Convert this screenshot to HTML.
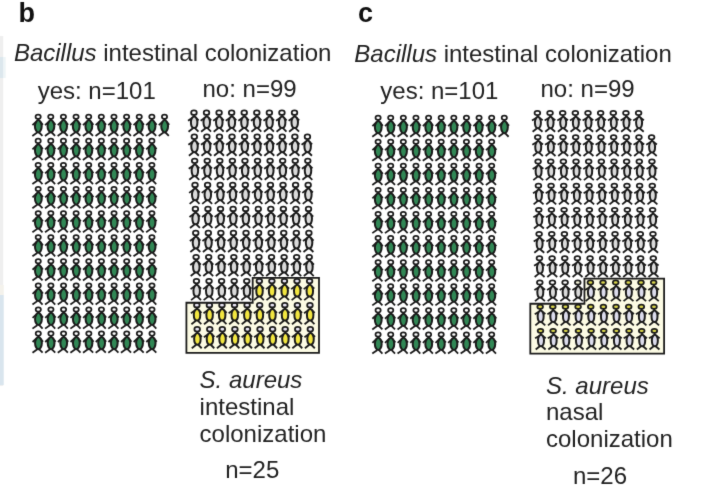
<!DOCTYPE html>
<html><head><meta charset="utf-8"><style>
html,body{margin:0;padding:0;background:#fff;width:709px;height:486px;overflow:hidden}
svg{display:block}
.o{stroke:#1a1a1a;stroke-width:2.0}
.h{stroke:#1a1a1a;stroke-width:1.75}
.l{stroke:#1a1a1a;stroke-width:1.8;fill:none;stroke-linecap:butt}
text{font-family:"Liberation Sans",Arial,sans-serif;fill:#222;font-size:24px}
.t{font-weight:bold;font-size:27px;fill:#111}
</style></head><body>
<svg width="709" height="486" viewBox="0 0 709 486">
<defs><filter id="bl" x="0" y="0" width="709" height="486" filterUnits="userSpaceOnUse" color-interpolation-filters="sRGB"><feConvolveMatrix order="3" kernelMatrix="1 8 1 8 64 8 1 8 1" divisor="100" edgeMode="duplicate"/></filter></defs>
<g filter="url(#bl)">
<rect x="0" y="0" width="709" height="486" fill="#fff"/>
<rect x="0" y="36" width="3.2" height="350" fill="#efefef"/><rect x="3.2" y="57" width="2.5" height="21" fill="#eef5f7"/><rect x="0" y="57" width="3.2" height="21" fill="#dce7ed"/><rect x="0" y="285" width="3.7" height="10" fill="#f4f2ec"/><rect x="0" y="295" width="3.7" height="90" fill="#d9e5ee"/>
<text class="t" x="18.5" y="22">b</text>
<text class="t" x="358" y="22.2">c</text>
<text x="13.9" y="60.6"><tspan font-style="italic">Bacillus</tspan> intestinal colonization</text>
<text x="354.3" y="62.1"><tspan font-style="italic">Bacillus</tspan> intestinal colonization</text>
<text x="37.7" y="98.8">yes: n=101</text>
<text x="202.5" y="96.7">no: n=99</text>
<text x="380.3" y="98.5">yes: n=101</text>
<text x="540.5" y="96.6">no: n=99</text>
<text x="199.6" y="388.4"><tspan font-style="italic">S. aureus</tspan></text>
<text x="199.6" y="415.2">intestinal</text>
<text x="199.6" y="441.9">colonization</text>
<text x="225.2" y="477.8">n=25</text>
<text x="546" y="393.7"><tspan font-style="italic">S. aureus</tspan></text>
<text x="546" y="420">nasal</text>
<text x="546" y="447">colonization</text>
<text x="573" y="484">n=26</text>
<path d="M186.4 302.75H252.7V277.8H319V352.9H186.4Z" fill="#fcfbe4"/>
<path d="M530.3 303.75H584.45V278.7H664.1V353.65H530.3Z" fill="#fcfbe4"/>
<path d="M36.77 121.1L32.45 125.2M39.83 121.1L42.85 124.9M37.15 132.5L32.35 135.9M39.15 132.5L42.45 135.9M38.35 119.15L38.3 120.5" class="l"/><path d="M38.3 120.1C39.49 120.1 41.7 122.87 41.7 126.25C41.7 129.63 39.83 132.4 38.3 132.4C36.77 132.4 34.9 129.63 34.9 126.25C34.9 122.87 37.11 120.1 38.3 120.1Z" fill="#318755" class="o"/><ellipse cx="38.15" cy="116.8" rx="2.6" ry="2.15" fill="#ffffff" class="h"/>
<path d="M49.4 121.1L45.08 125.2M52.46 121.1L55.48 124.9M49.78 132.5L44.98 135.9M51.78 132.5L55.08 135.9M50.98 119.15L50.93 120.5" class="l"/><path d="M50.93 120.1C52.12 120.1 54.33 122.87 54.33 126.25C54.33 129.63 52.46 132.4 50.93 132.4C49.4 132.4 47.53 129.63 47.53 126.25C47.53 122.87 49.74 120.1 50.93 120.1Z" fill="#318755" class="o"/><ellipse cx="50.78" cy="116.8" rx="2.6" ry="2.15" fill="#ffffff" class="h"/>
<path d="M62.04 121.1L57.72 125.2M65.1 121.1L68.12 124.9M62.42 132.5L57.62 135.9M64.42 132.5L67.72 135.9M63.62 119.15L63.57 120.5" class="l"/><path d="M63.57 120.1C64.76 120.1 66.97 122.87 66.97 126.25C66.97 129.63 65.1 132.4 63.57 132.4C62.04 132.4 60.17 129.63 60.17 126.25C60.17 122.87 62.38 120.1 63.57 120.1Z" fill="#318755" class="o"/><ellipse cx="63.42" cy="116.8" rx="2.6" ry="2.15" fill="#ffffff" class="h"/>
<path d="M74.68 121.1L70.36 125.2M77.74 121.1L80.76 124.9M75.06 132.5L70.26 135.9M77.06 132.5L80.36 135.9M76.26 119.15L76.21 120.5" class="l"/><path d="M76.21 120.1C77.4 120.1 79.61 122.87 79.61 126.25C79.61 129.63 77.74 132.4 76.21 132.4C74.68 132.4 72.81 129.63 72.81 126.25C72.81 122.87 75.02 120.1 76.21 120.1Z" fill="#318755" class="o"/><ellipse cx="76.06" cy="116.8" rx="2.6" ry="2.15" fill="#ffffff" class="h"/>
<path d="M87.31 121.1L82.99 125.2M90.37 121.1L93.39 124.9M87.69 132.5L82.89 135.9M89.69 132.5L92.99 135.9M88.89 119.15L88.84 120.5" class="l"/><path d="M88.84 120.1C90.03 120.1 92.24 122.87 92.24 126.25C92.24 129.63 90.37 132.4 88.84 132.4C87.31 132.4 85.44 129.63 85.44 126.25C85.44 122.87 87.65 120.1 88.84 120.1Z" fill="#318755" class="o"/><ellipse cx="88.69" cy="116.8" rx="2.6" ry="2.15" fill="#ffffff" class="h"/>
<path d="M99.94 121.1L95.62 125.2M103 121.1L106.02 124.9M100.32 132.5L95.52 135.9M102.32 132.5L105.62 135.9M101.52 119.15L101.47 120.5" class="l"/><path d="M101.47 120.1C102.66 120.1 104.88 122.87 104.88 126.25C104.88 129.63 103 132.4 101.47 132.4C99.94 132.4 98.07 129.63 98.07 126.25C98.07 122.87 100.28 120.1 101.47 120.1Z" fill="#318755" class="o"/><ellipse cx="101.32" cy="116.8" rx="2.6" ry="2.15" fill="#ffffff" class="h"/>
<path d="M112.58 121.1L108.26 125.2M115.64 121.1L118.66 124.9M112.96 132.5L108.16 135.9M114.96 132.5L118.26 135.9M114.16 119.15L114.11 120.5" class="l"/><path d="M114.11 120.1C115.3 120.1 117.51 122.87 117.51 126.25C117.51 129.63 115.64 132.4 114.11 132.4C112.58 132.4 110.71 129.63 110.71 126.25C110.71 122.87 112.92 120.1 114.11 120.1Z" fill="#318755" class="o"/><ellipse cx="113.96" cy="116.8" rx="2.6" ry="2.15" fill="#ffffff" class="h"/>
<path d="M125.22 121.1L120.89 125.2M128.28 121.1L131.29 124.9M125.59 132.5L120.8 135.9M127.59 132.5L130.9 135.9M126.8 119.15L126.75 120.5" class="l"/><path d="M126.75 120.1C127.94 120.1 130.15 122.87 130.15 126.25C130.15 129.63 128.28 132.4 126.75 132.4C125.22 132.4 123.34 129.63 123.34 126.25C123.34 122.87 125.56 120.1 126.75 120.1Z" fill="#318755" class="o"/><ellipse cx="126.59" cy="116.8" rx="2.6" ry="2.15" fill="#ffffff" class="h"/>
<path d="M137.85 121.1L133.53 125.2M140.91 121.1L143.93 124.9M138.23 132.5L133.43 135.9M140.23 132.5L143.53 135.9M139.43 119.15L139.38 120.5" class="l"/><path d="M139.38 120.1C140.57 120.1 142.78 122.87 142.78 126.25C142.78 129.63 140.91 132.4 139.38 132.4C137.85 132.4 135.98 129.63 135.98 126.25C135.98 122.87 138.19 120.1 139.38 120.1Z" fill="#318755" class="o"/><ellipse cx="139.23" cy="116.8" rx="2.6" ry="2.15" fill="#ffffff" class="h"/>
<path d="M150.49 121.1L146.17 125.2M153.55 121.1L156.56 124.9M150.87 132.5L146.06 135.9M152.87 132.5L156.17 135.9M152.06 119.15L152.02 120.5" class="l"/><path d="M152.02 120.1C153.21 120.1 155.42 122.87 155.42 126.25C155.42 129.63 153.55 132.4 152.02 132.4C150.49 132.4 148.62 129.63 148.62 126.25C148.62 122.87 150.83 120.1 152.02 120.1Z" fill="#318755" class="o"/><ellipse cx="151.87" cy="116.8" rx="2.6" ry="2.15" fill="#ffffff" class="h"/>
<path d="M163.12 121.1L158.8 125.2M166.18 121.1L169.2 124.9M163.5 132.5L158.7 135.9M165.5 132.5L168.8 135.9M164.7 119.15L164.65 120.5" class="l"/><path d="M164.65 120.1C165.84 120.1 168.05 122.87 168.05 126.25C168.05 129.63 166.18 132.4 164.65 132.4C163.12 132.4 161.25 129.63 161.25 126.25C161.25 122.87 163.46 120.1 164.65 120.1Z" fill="#318755" class="o"/><ellipse cx="164.5" cy="116.8" rx="2.6" ry="2.15" fill="#ffffff" class="h"/>
<path d="M36.79 145.19L32.47 149.29M39.85 145.19L42.87 148.99M37.17 156.59L32.37 159.99M39.17 156.59L42.47 159.99M38.37 143.24L38.32 144.59" class="l"/><path d="M38.32 144.19C39.51 144.19 41.72 146.96 41.72 150.34C41.72 153.72 39.85 156.49 38.32 156.49C36.79 156.49 34.92 153.72 34.92 150.34C34.92 146.96 37.13 144.19 38.32 144.19Z" fill="#318755" class="o"/><ellipse cx="38.17" cy="140.89" rx="2.6" ry="2.15" fill="#ffffff" class="h"/>
<path d="M49.42 145.19L45.1 149.29M52.48 145.19L55.5 148.99M49.8 156.59L45 159.99M51.8 156.59L55.1 159.99M51 143.24L50.95 144.59" class="l"/><path d="M50.95 144.19C52.14 144.19 54.35 146.96 54.35 150.34C54.35 153.72 52.48 156.49 50.95 156.49C49.42 156.49 47.55 153.72 47.55 150.34C47.55 146.96 49.76 144.19 50.95 144.19Z" fill="#318755" class="o"/><ellipse cx="50.8" cy="140.89" rx="2.6" ry="2.15" fill="#ffffff" class="h"/>
<path d="M62.06 145.19L57.74 149.29M65.12 145.19L68.14 148.99M62.44 156.59L57.64 159.99M64.44 156.59L67.74 159.99M63.64 143.24L63.59 144.59" class="l"/><path d="M63.59 144.19C64.78 144.19 66.99 146.96 66.99 150.34C66.99 153.72 65.12 156.49 63.59 156.49C62.06 156.49 60.19 153.72 60.19 150.34C60.19 146.96 62.4 144.19 63.59 144.19Z" fill="#318755" class="o"/><ellipse cx="63.44" cy="140.89" rx="2.6" ry="2.15" fill="#ffffff" class="h"/>
<path d="M74.69 145.19L70.37 149.29M77.75 145.19L80.77 148.99M75.07 156.59L70.27 159.99M77.07 156.59L80.37 159.99M76.27 143.24L76.22 144.59" class="l"/><path d="M76.22 144.19C77.41 144.19 79.62 146.96 79.62 150.34C79.62 153.72 77.75 156.49 76.22 156.49C74.69 156.49 72.82 153.72 72.82 150.34C72.82 146.96 75.03 144.19 76.22 144.19Z" fill="#318755" class="o"/><ellipse cx="76.07" cy="140.89" rx="2.6" ry="2.15" fill="#ffffff" class="h"/>
<path d="M87.33 145.19L83.01 149.29M90.39 145.19L93.41 148.99M87.71 156.59L82.91 159.99M89.71 156.59L93.01 159.99M88.91 143.24L88.86 144.59" class="l"/><path d="M88.86 144.19C90.05 144.19 92.26 146.96 92.26 150.34C92.26 153.72 90.39 156.49 88.86 156.49C87.33 156.49 85.46 153.72 85.46 150.34C85.46 146.96 87.67 144.19 88.86 144.19Z" fill="#318755" class="o"/><ellipse cx="88.71" cy="140.89" rx="2.6" ry="2.15" fill="#ffffff" class="h"/>
<path d="M99.96 145.19L95.64 149.29M103.02 145.19L106.04 148.99M100.34 156.59L95.54 159.99M102.34 156.59L105.64 159.99M101.54 143.24L101.49 144.59" class="l"/><path d="M101.49 144.19C102.68 144.19 104.89 146.96 104.89 150.34C104.89 153.72 103.02 156.49 101.49 156.49C99.96 156.49 98.09 153.72 98.09 150.34C98.09 146.96 100.3 144.19 101.49 144.19Z" fill="#318755" class="o"/><ellipse cx="101.34" cy="140.89" rx="2.6" ry="2.15" fill="#ffffff" class="h"/>
<path d="M112.6 145.19L108.28 149.29M115.66 145.19L118.68 148.99M112.98 156.59L108.18 159.99M114.98 156.59L118.28 159.99M114.18 143.24L114.13 144.59" class="l"/><path d="M114.13 144.19C115.32 144.19 117.53 146.96 117.53 150.34C117.53 153.72 115.66 156.49 114.13 156.49C112.6 156.49 110.73 153.72 110.73 150.34C110.73 146.96 112.94 144.19 114.13 144.19Z" fill="#318755" class="o"/><ellipse cx="113.98" cy="140.89" rx="2.6" ry="2.15" fill="#ffffff" class="h"/>
<path d="M125.23 145.19L120.91 149.29M128.29 145.19L131.31 148.99M125.61 156.59L120.81 159.99M127.61 156.59L130.91 159.99M126.81 143.24L126.76 144.59" class="l"/><path d="M126.76 144.19C127.95 144.19 130.16 146.96 130.16 150.34C130.16 153.72 128.29 156.49 126.76 156.49C125.23 156.49 123.36 153.72 123.36 150.34C123.36 146.96 125.57 144.19 126.76 144.19Z" fill="#318755" class="o"/><ellipse cx="126.61" cy="140.89" rx="2.6" ry="2.15" fill="#ffffff" class="h"/>
<path d="M137.87 145.19L133.55 149.29M140.93 145.19L143.95 148.99M138.25 156.59L133.45 159.99M140.25 156.59L143.55 159.99M139.45 143.24L139.4 144.59" class="l"/><path d="M139.4 144.19C140.59 144.19 142.8 146.96 142.8 150.34C142.8 153.72 140.93 156.49 139.4 156.49C137.87 156.49 136 153.72 136 150.34C136 146.96 138.21 144.19 139.4 144.19Z" fill="#318755" class="o"/><ellipse cx="139.25" cy="140.89" rx="2.6" ry="2.15" fill="#ffffff" class="h"/>
<path d="M150.5 145.19L146.18 149.29M153.56 145.19L156.58 148.99M150.88 156.59L146.08 159.99M152.88 156.59L156.18 159.99M152.08 143.24L152.03 144.59" class="l"/><path d="M152.03 144.19C153.22 144.19 155.43 146.96 155.43 150.34C155.43 153.72 153.56 156.49 152.03 156.49C150.5 156.49 148.63 153.72 148.63 150.34C148.63 146.96 150.84 144.19 152.03 144.19Z" fill="#318755" class="o"/><ellipse cx="151.88" cy="140.89" rx="2.6" ry="2.15" fill="#ffffff" class="h"/>
<path d="M36.8 169.28L32.48 173.38M39.86 169.28L42.88 173.08M37.18 180.68L32.38 184.08M39.18 180.68L42.48 184.08M38.38 167.33L38.33 168.68" class="l"/><path d="M38.33 168.28C39.52 168.28 41.73 171.05 41.73 174.43C41.73 177.81 39.86 180.58 38.33 180.58C36.8 180.58 34.93 177.81 34.93 174.43C34.93 171.05 37.14 168.28 38.33 168.28Z" fill="#318755" class="o"/><ellipse cx="38.18" cy="164.98" rx="2.6" ry="2.15" fill="#ffffff" class="h"/>
<path d="M49.44 169.28L45.12 173.38M52.5 169.28L55.52 173.08M49.82 180.68L45.02 184.08M51.82 180.68L55.12 184.08M51.02 167.33L50.97 168.68" class="l"/><path d="M50.97 168.28C52.16 168.28 54.37 171.05 54.37 174.43C54.37 177.81 52.5 180.58 50.97 180.58C49.44 180.58 47.57 177.81 47.57 174.43C47.57 171.05 49.78 168.28 50.97 168.28Z" fill="#318755" class="o"/><ellipse cx="50.82" cy="164.98" rx="2.6" ry="2.15" fill="#ffffff" class="h"/>
<path d="M62.07 169.28L57.75 173.38M65.13 169.28L68.15 173.08M62.45 180.68L57.65 184.08M64.45 180.68L67.75 184.08M63.65 167.33L63.6 168.68" class="l"/><path d="M63.6 168.28C64.79 168.28 67 171.05 67 174.43C67 177.81 65.13 180.58 63.6 180.58C62.07 180.58 60.2 177.81 60.2 174.43C60.2 171.05 62.41 168.28 63.6 168.28Z" fill="#318755" class="o"/><ellipse cx="63.45" cy="164.98" rx="2.6" ry="2.15" fill="#ffffff" class="h"/>
<path d="M74.71 169.28L70.39 173.38M77.77 169.28L80.79 173.08M75.09 180.68L70.29 184.08M77.09 180.68L80.39 184.08M76.29 167.33L76.24 168.68" class="l"/><path d="M76.24 168.28C77.43 168.28 79.64 171.05 79.64 174.43C79.64 177.81 77.77 180.58 76.24 180.58C74.71 180.58 72.84 177.81 72.84 174.43C72.84 171.05 75.05 168.28 76.24 168.28Z" fill="#318755" class="o"/><ellipse cx="76.09" cy="164.98" rx="2.6" ry="2.15" fill="#ffffff" class="h"/>
<path d="M87.34 169.28L83.02 173.38M90.4 169.28L93.42 173.08M87.72 180.68L82.92 184.08M89.72 180.68L93.02 184.08M88.92 167.33L88.87 168.68" class="l"/><path d="M88.87 168.28C90.06 168.28 92.27 171.05 92.27 174.43C92.27 177.81 90.4 180.58 88.87 180.58C87.34 180.58 85.47 177.81 85.47 174.43C85.47 171.05 87.68 168.28 88.87 168.28Z" fill="#318755" class="o"/><ellipse cx="88.72" cy="164.98" rx="2.6" ry="2.15" fill="#ffffff" class="h"/>
<path d="M99.98 169.28L95.66 173.38M103.04 169.28L106.06 173.08M100.36 180.68L95.56 184.08M102.36 180.68L105.66 184.08M101.56 167.33L101.51 168.68" class="l"/><path d="M101.51 168.28C102.7 168.28 104.91 171.05 104.91 174.43C104.91 177.81 103.04 180.58 101.51 180.58C99.98 180.58 98.11 177.81 98.11 174.43C98.11 171.05 100.32 168.28 101.51 168.28Z" fill="#318755" class="o"/><ellipse cx="101.36" cy="164.98" rx="2.6" ry="2.15" fill="#ffffff" class="h"/>
<path d="M112.61 169.28L108.29 173.38M115.67 169.28L118.69 173.08M112.99 180.68L108.19 184.08M114.99 180.68L118.29 184.08M114.19 167.33L114.14 168.68" class="l"/><path d="M114.14 168.28C115.33 168.28 117.54 171.05 117.54 174.43C117.54 177.81 115.67 180.58 114.14 180.58C112.61 180.58 110.74 177.81 110.74 174.43C110.74 171.05 112.95 168.28 114.14 168.28Z" fill="#318755" class="o"/><ellipse cx="113.99" cy="164.98" rx="2.6" ry="2.15" fill="#ffffff" class="h"/>
<path d="M125.25 169.28L120.93 173.38M128.31 169.28L131.33 173.08M125.63 180.68L120.83 184.08M127.63 180.68L130.93 184.08M126.83 167.33L126.78 168.68" class="l"/><path d="M126.78 168.28C127.97 168.28 130.18 171.05 130.18 174.43C130.18 177.81 128.31 180.58 126.78 180.58C125.25 180.58 123.38 177.81 123.38 174.43C123.38 171.05 125.59 168.28 126.78 168.28Z" fill="#318755" class="o"/><ellipse cx="126.63" cy="164.98" rx="2.6" ry="2.15" fill="#ffffff" class="h"/>
<path d="M137.88 169.28L133.56 173.38M140.94 169.28L143.96 173.08M138.26 180.68L133.46 184.08M140.26 180.68L143.56 184.08M139.46 167.33L139.41 168.68" class="l"/><path d="M139.41 168.28C140.6 168.28 142.81 171.05 142.81 174.43C142.81 177.81 140.94 180.58 139.41 180.58C137.88 180.58 136.01 177.81 136.01 174.43C136.01 171.05 138.22 168.28 139.41 168.28Z" fill="#318755" class="o"/><ellipse cx="139.26" cy="164.98" rx="2.6" ry="2.15" fill="#ffffff" class="h"/>
<path d="M150.52 169.28L146.2 173.38M153.58 169.28L156.6 173.08M150.9 180.68L146.1 184.08M152.9 180.68L156.2 184.08M152.1 167.33L152.05 168.68" class="l"/><path d="M152.05 168.28C153.24 168.28 155.45 171.05 155.45 174.43C155.45 177.81 153.58 180.58 152.05 180.58C150.52 180.58 148.65 177.81 148.65 174.43C148.65 171.05 150.86 168.28 152.05 168.28Z" fill="#318755" class="o"/><ellipse cx="151.9" cy="164.98" rx="2.6" ry="2.15" fill="#ffffff" class="h"/>
<path d="M36.82 193.37L32.5 197.47M39.88 193.37L42.9 197.17M37.2 204.77L32.4 208.17M39.2 204.77L42.5 208.17M38.4 191.42L38.35 192.77" class="l"/><path d="M38.35 192.37C39.54 192.37 41.75 195.14 41.75 198.52C41.75 201.9 39.88 204.67 38.35 204.67C36.82 204.67 34.95 201.9 34.95 198.52C34.95 195.14 37.16 192.37 38.35 192.37Z" fill="#318755" class="o"/><ellipse cx="38.2" cy="189.07" rx="2.6" ry="2.15" fill="#ffffff" class="h"/>
<path d="M49.46 193.37L45.14 197.47M52.52 193.37L55.54 197.17M49.84 204.77L45.04 208.17M51.84 204.77L55.14 208.17M51.04 191.42L50.99 192.77" class="l"/><path d="M50.99 192.37C52.18 192.37 54.39 195.14 54.39 198.52C54.39 201.9 52.52 204.67 50.99 204.67C49.46 204.67 47.59 201.9 47.59 198.52C47.59 195.14 49.8 192.37 50.99 192.37Z" fill="#318755" class="o"/><ellipse cx="50.84" cy="189.07" rx="2.6" ry="2.15" fill="#ffffff" class="h"/>
<path d="M62.09 193.37L57.77 197.47M65.15 193.37L68.17 197.17M62.47 204.77L57.67 208.17M64.47 204.77L67.77 208.17M63.67 191.42L63.62 192.77" class="l"/><path d="M63.62 192.37C64.81 192.37 67.02 195.14 67.02 198.52C67.02 201.9 65.15 204.67 63.62 204.67C62.09 204.67 60.22 201.9 60.22 198.52C60.22 195.14 62.43 192.37 63.62 192.37Z" fill="#318755" class="o"/><ellipse cx="63.47" cy="189.07" rx="2.6" ry="2.15" fill="#ffffff" class="h"/>
<path d="M74.73 193.37L70.41 197.47M77.79 193.37L80.81 197.17M75.11 204.77L70.31 208.17M77.11 204.77L80.41 208.17M76.31 191.42L76.26 192.77" class="l"/><path d="M76.26 192.37C77.45 192.37 79.66 195.14 79.66 198.52C79.66 201.9 77.79 204.67 76.26 204.67C74.73 204.67 72.86 201.9 72.86 198.52C72.86 195.14 75.07 192.37 76.26 192.37Z" fill="#318755" class="o"/><ellipse cx="76.11" cy="189.07" rx="2.6" ry="2.15" fill="#ffffff" class="h"/>
<path d="M87.36 193.37L83.04 197.47M90.42 193.37L93.44 197.17M87.74 204.77L82.94 208.17M89.74 204.77L93.04 208.17M88.94 191.42L88.89 192.77" class="l"/><path d="M88.89 192.37C90.08 192.37 92.29 195.14 92.29 198.52C92.29 201.9 90.42 204.67 88.89 204.67C87.36 204.67 85.49 201.9 85.49 198.52C85.49 195.14 87.7 192.37 88.89 192.37Z" fill="#318755" class="o"/><ellipse cx="88.74" cy="189.07" rx="2.6" ry="2.15" fill="#ffffff" class="h"/>
<path d="M100 193.37L95.68 197.47M103.06 193.37L106.08 197.17M100.38 204.77L95.58 208.17M102.38 204.77L105.68 208.17M101.58 191.42L101.53 192.77" class="l"/><path d="M101.53 192.37C102.72 192.37 104.93 195.14 104.93 198.52C104.93 201.9 103.06 204.67 101.53 204.67C100 204.67 98.13 201.9 98.13 198.52C98.13 195.14 100.34 192.37 101.53 192.37Z" fill="#318755" class="o"/><ellipse cx="101.38" cy="189.07" rx="2.6" ry="2.15" fill="#ffffff" class="h"/>
<path d="M112.63 193.37L108.31 197.47M115.69 193.37L118.71 197.17M113.01 204.77L108.21 208.17M115.01 204.77L118.31 208.17M114.21 191.42L114.16 192.77" class="l"/><path d="M114.16 192.37C115.35 192.37 117.56 195.14 117.56 198.52C117.56 201.9 115.69 204.67 114.16 204.67C112.63 204.67 110.76 201.9 110.76 198.52C110.76 195.14 112.97 192.37 114.16 192.37Z" fill="#318755" class="o"/><ellipse cx="114.01" cy="189.07" rx="2.6" ry="2.15" fill="#ffffff" class="h"/>
<path d="M125.27 193.37L120.95 197.47M128.33 193.37L131.35 197.17M125.65 204.77L120.85 208.17M127.65 204.77L130.95 208.17M126.85 191.42L126.8 192.77" class="l"/><path d="M126.8 192.37C127.99 192.37 130.2 195.14 130.2 198.52C130.2 201.9 128.33 204.67 126.8 204.67C125.27 204.67 123.4 201.9 123.4 198.52C123.4 195.14 125.61 192.37 126.8 192.37Z" fill="#318755" class="o"/><ellipse cx="126.65" cy="189.07" rx="2.6" ry="2.15" fill="#ffffff" class="h"/>
<path d="M137.9 193.37L133.58 197.47M140.96 193.37L143.98 197.17M138.28 204.77L133.48 208.17M140.28 204.77L143.58 208.17M139.48 191.42L139.43 192.77" class="l"/><path d="M139.43 192.37C140.62 192.37 142.83 195.14 142.83 198.52C142.83 201.9 140.96 204.67 139.43 204.67C137.9 204.67 136.03 201.9 136.03 198.52C136.03 195.14 138.24 192.37 139.43 192.37Z" fill="#318755" class="o"/><ellipse cx="139.28" cy="189.07" rx="2.6" ry="2.15" fill="#ffffff" class="h"/>
<path d="M150.54 193.37L146.22 197.47M153.6 193.37L156.62 197.17M150.92 204.77L146.12 208.17M152.92 204.77L156.22 208.17M152.12 191.42L152.07 192.77" class="l"/><path d="M152.07 192.37C153.26 192.37 155.47 195.14 155.47 198.52C155.47 201.9 153.6 204.67 152.07 204.67C150.54 204.67 148.67 201.9 148.67 198.52C148.67 195.14 150.88 192.37 152.07 192.37Z" fill="#318755" class="o"/><ellipse cx="151.92" cy="189.07" rx="2.6" ry="2.15" fill="#ffffff" class="h"/>
<path d="M36.84 217.46L32.52 221.56M39.9 217.46L42.92 221.26M37.22 228.86L32.42 232.26M39.22 228.86L42.52 232.26M38.42 215.51L38.37 216.86" class="l"/><path d="M38.37 216.46C39.56 216.46 41.77 219.23 41.77 222.61C41.77 225.99 39.9 228.76 38.37 228.76C36.84 228.76 34.97 225.99 34.97 222.61C34.97 219.23 37.18 216.46 38.37 216.46Z" fill="#318755" class="o"/><ellipse cx="38.22" cy="213.16" rx="2.6" ry="2.15" fill="#ffffff" class="h"/>
<path d="M49.47 217.46L45.15 221.56M52.53 217.46L55.55 221.26M49.85 228.86L45.05 232.26M51.85 228.86L55.15 232.26M51.05 215.51L51 216.86" class="l"/><path d="M51 216.46C52.19 216.46 54.4 219.23 54.4 222.61C54.4 225.99 52.53 228.76 51 228.76C49.47 228.76 47.6 225.99 47.6 222.61C47.6 219.23 49.81 216.46 51 216.46Z" fill="#318755" class="o"/><ellipse cx="50.85" cy="213.16" rx="2.6" ry="2.15" fill="#ffffff" class="h"/>
<path d="M62.11 217.46L57.79 221.56M65.17 217.46L68.19 221.26M62.49 228.86L57.69 232.26M64.49 228.86L67.79 232.26M63.69 215.51L63.64 216.86" class="l"/><path d="M63.64 216.46C64.83 216.46 67.04 219.23 67.04 222.61C67.04 225.99 65.17 228.76 63.64 228.76C62.11 228.76 60.24 225.99 60.24 222.61C60.24 219.23 62.45 216.46 63.64 216.46Z" fill="#318755" class="o"/><ellipse cx="63.49" cy="213.16" rx="2.6" ry="2.15" fill="#ffffff" class="h"/>
<path d="M74.74 217.46L70.42 221.56M77.8 217.46L80.82 221.26M75.12 228.86L70.32 232.26M77.12 228.86L80.42 232.26M76.32 215.51L76.27 216.86" class="l"/><path d="M76.27 216.46C77.46 216.46 79.67 219.23 79.67 222.61C79.67 225.99 77.8 228.76 76.27 228.76C74.74 228.76 72.87 225.99 72.87 222.61C72.87 219.23 75.08 216.46 76.27 216.46Z" fill="#318755" class="o"/><ellipse cx="76.12" cy="213.16" rx="2.6" ry="2.15" fill="#ffffff" class="h"/>
<path d="M87.38 217.46L83.06 221.56M90.44 217.46L93.46 221.26M87.76 228.86L82.96 232.26M89.76 228.86L93.06 232.26M88.96 215.51L88.91 216.86" class="l"/><path d="M88.91 216.46C90.1 216.46 92.31 219.23 92.31 222.61C92.31 225.99 90.44 228.76 88.91 228.76C87.38 228.76 85.51 225.99 85.51 222.61C85.51 219.23 87.72 216.46 88.91 216.46Z" fill="#318755" class="o"/><ellipse cx="88.76" cy="213.16" rx="2.6" ry="2.15" fill="#ffffff" class="h"/>
<path d="M100.01 217.46L95.69 221.56M103.07 217.46L106.09 221.26M100.39 228.86L95.59 232.26M102.39 228.86L105.69 232.26M101.59 215.51L101.54 216.86" class="l"/><path d="M101.54 216.46C102.73 216.46 104.94 219.23 104.94 222.61C104.94 225.99 103.07 228.76 101.54 228.76C100.01 228.76 98.14 225.99 98.14 222.61C98.14 219.23 100.35 216.46 101.54 216.46Z" fill="#318755" class="o"/><ellipse cx="101.39" cy="213.16" rx="2.6" ry="2.15" fill="#ffffff" class="h"/>
<path d="M112.65 217.46L108.33 221.56M115.71 217.46L118.73 221.26M113.03 228.86L108.23 232.26M115.03 228.86L118.33 232.26M114.23 215.51L114.18 216.86" class="l"/><path d="M114.18 216.46C115.37 216.46 117.58 219.23 117.58 222.61C117.58 225.99 115.71 228.76 114.18 228.76C112.65 228.76 110.78 225.99 110.78 222.61C110.78 219.23 112.99 216.46 114.18 216.46Z" fill="#318755" class="o"/><ellipse cx="114.03" cy="213.16" rx="2.6" ry="2.15" fill="#ffffff" class="h"/>
<path d="M125.28 217.46L120.96 221.56M128.34 217.46L131.36 221.26M125.66 228.86L120.86 232.26M127.66 228.86L130.96 232.26M126.86 215.51L126.81 216.86" class="l"/><path d="M126.81 216.46C128 216.46 130.21 219.23 130.21 222.61C130.21 225.99 128.34 228.76 126.81 228.76C125.28 228.76 123.41 225.99 123.41 222.61C123.41 219.23 125.62 216.46 126.81 216.46Z" fill="#318755" class="o"/><ellipse cx="126.66" cy="213.16" rx="2.6" ry="2.15" fill="#ffffff" class="h"/>
<path d="M137.92 217.46L133.6 221.56M140.98 217.46L144 221.26M138.3 228.86L133.5 232.26M140.3 228.86L143.6 232.26M139.5 215.51L139.45 216.86" class="l"/><path d="M139.45 216.46C140.64 216.46 142.85 219.23 142.85 222.61C142.85 225.99 140.98 228.76 139.45 228.76C137.92 228.76 136.05 225.99 136.05 222.61C136.05 219.23 138.26 216.46 139.45 216.46Z" fill="#318755" class="o"/><ellipse cx="139.3" cy="213.16" rx="2.6" ry="2.15" fill="#ffffff" class="h"/>
<path d="M150.55 217.46L146.23 221.56M153.61 217.46L156.63 221.26M150.93 228.86L146.13 232.26M152.93 228.86L156.23 232.26M152.13 215.51L152.08 216.86" class="l"/><path d="M152.08 216.46C153.27 216.46 155.48 219.23 155.48 222.61C155.48 225.99 153.61 228.76 152.08 228.76C150.55 228.76 148.68 225.99 148.68 222.61C148.68 219.23 150.89 216.46 152.08 216.46Z" fill="#318755" class="o"/><ellipse cx="151.93" cy="213.16" rx="2.6" ry="2.15" fill="#ffffff" class="h"/>
<path d="M36.85 241.55L32.53 245.65M39.91 241.55L42.94 245.35M37.23 252.95L32.44 256.35M39.23 252.95L42.53 256.35M38.44 239.6L38.38 240.95" class="l"/><path d="M38.38 240.55C39.57 240.55 41.78 243.32 41.78 246.7C41.78 250.08 39.91 252.85 38.38 252.85C36.85 252.85 34.98 250.08 34.98 246.7C34.98 243.32 37.2 240.55 38.38 240.55Z" fill="#318755" class="o"/><ellipse cx="38.23" cy="237.25" rx="2.6" ry="2.15" fill="#ffffff" class="h"/>
<path d="M49.49 241.55L45.17 245.65M52.55 241.55L55.57 245.35M49.87 252.95L45.07 256.35M51.87 252.95L55.17 256.35M51.07 239.6L51.02 240.95" class="l"/><path d="M51.02 240.55C52.21 240.55 54.42 243.32 54.42 246.7C54.42 250.08 52.55 252.85 51.02 252.85C49.49 252.85 47.62 250.08 47.62 246.7C47.62 243.32 49.83 240.55 51.02 240.55Z" fill="#318755" class="o"/><ellipse cx="50.87" cy="237.25" rx="2.6" ry="2.15" fill="#ffffff" class="h"/>
<path d="M62.12 241.55L57.8 245.65M65.18 241.55L68.2 245.35M62.5 252.95L57.7 256.35M64.5 252.95L67.8 256.35M63.7 239.6L63.65 240.95" class="l"/><path d="M63.65 240.55C64.84 240.55 67.05 243.32 67.05 246.7C67.05 250.08 65.18 252.85 63.65 252.85C62.12 252.85 60.25 250.08 60.25 246.7C60.25 243.32 62.46 240.55 63.65 240.55Z" fill="#318755" class="o"/><ellipse cx="63.5" cy="237.25" rx="2.6" ry="2.15" fill="#ffffff" class="h"/>
<path d="M74.76 241.55L70.44 245.65M77.82 241.55L80.84 245.35M75.14 252.95L70.34 256.35M77.14 252.95L80.44 256.35M76.34 239.6L76.29 240.95" class="l"/><path d="M76.29 240.55C77.48 240.55 79.69 243.32 79.69 246.7C79.69 250.08 77.82 252.85 76.29 252.85C74.76 252.85 72.89 250.08 72.89 246.7C72.89 243.32 75.1 240.55 76.29 240.55Z" fill="#318755" class="o"/><ellipse cx="76.14" cy="237.25" rx="2.6" ry="2.15" fill="#ffffff" class="h"/>
<path d="M87.4 241.55L83.08 245.65M90.46 241.55L93.48 245.35M87.78 252.95L82.98 256.35M89.78 252.95L93.08 256.35M88.98 239.6L88.93 240.95" class="l"/><path d="M88.93 240.55C90.12 240.55 92.33 243.32 92.33 246.7C92.33 250.08 90.46 252.85 88.93 252.85C87.4 252.85 85.53 250.08 85.53 246.7C85.53 243.32 87.74 240.55 88.93 240.55Z" fill="#318755" class="o"/><ellipse cx="88.78" cy="237.25" rx="2.6" ry="2.15" fill="#ffffff" class="h"/>
<path d="M100.03 241.55L95.71 245.65M103.09 241.55L106.11 245.35M100.41 252.95L95.61 256.35M102.41 252.95L105.71 256.35M101.61 239.6L101.56 240.95" class="l"/><path d="M101.56 240.55C102.75 240.55 104.96 243.32 104.96 246.7C104.96 250.08 103.09 252.85 101.56 252.85C100.03 252.85 98.16 250.08 98.16 246.7C98.16 243.32 100.37 240.55 101.56 240.55Z" fill="#318755" class="o"/><ellipse cx="101.41" cy="237.25" rx="2.6" ry="2.15" fill="#ffffff" class="h"/>
<path d="M112.67 241.55L108.34 245.65M115.73 241.55L118.75 245.35M113.05 252.95L108.25 256.35M115.05 252.95L118.34 256.35M114.25 239.6L114.2 240.95" class="l"/><path d="M114.2 240.55C115.39 240.55 117.6 243.32 117.6 246.7C117.6 250.08 115.73 252.85 114.2 252.85C112.67 252.85 110.8 250.08 110.8 246.7C110.8 243.32 113.01 240.55 114.2 240.55Z" fill="#318755" class="o"/><ellipse cx="114.05" cy="237.25" rx="2.6" ry="2.15" fill="#ffffff" class="h"/>
<path d="M125.3 241.55L120.98 245.65M128.36 241.55L131.38 245.35M125.68 252.95L120.88 256.35M127.68 252.95L130.98 256.35M126.88 239.6L126.83 240.95" class="l"/><path d="M126.83 240.55C128.02 240.55 130.23 243.32 130.23 246.7C130.23 250.08 128.36 252.85 126.83 252.85C125.3 252.85 123.43 250.08 123.43 246.7C123.43 243.32 125.64 240.55 126.83 240.55Z" fill="#318755" class="o"/><ellipse cx="126.68" cy="237.25" rx="2.6" ry="2.15" fill="#ffffff" class="h"/>
<path d="M137.94 241.55L133.62 245.65M141 241.55L144.01 245.35M138.31 252.95L133.51 256.35M140.31 252.95L143.62 256.35M139.51 239.6L139.47 240.95" class="l"/><path d="M139.47 240.55C140.66 240.55 142.87 243.32 142.87 246.7C142.87 250.08 141 252.85 139.47 252.85C137.94 252.85 136.06 250.08 136.06 246.7C136.06 243.32 138.28 240.55 139.47 240.55Z" fill="#318755" class="o"/><ellipse cx="139.31" cy="237.25" rx="2.6" ry="2.15" fill="#ffffff" class="h"/>
<path d="M150.57 241.55L146.25 245.65M153.63 241.55L156.65 245.35M150.95 252.95L146.15 256.35M152.95 252.95L156.25 256.35M152.15 239.6L152.1 240.95" class="l"/><path d="M152.1 240.55C153.29 240.55 155.5 243.32 155.5 246.7C155.5 250.08 153.63 252.85 152.1 252.85C150.57 252.85 148.7 250.08 148.7 246.7C148.7 243.32 150.91 240.55 152.1 240.55Z" fill="#318755" class="o"/><ellipse cx="151.95" cy="237.25" rx="2.6" ry="2.15" fill="#ffffff" class="h"/>
<path d="M36.87 265.64L32.55 269.74M39.93 265.64L42.95 269.44M37.25 277.04L32.45 280.44M39.25 277.04L42.55 280.44M38.45 263.69L38.4 265.04" class="l"/><path d="M38.4 264.64C39.59 264.64 41.8 267.41 41.8 270.79C41.8 274.17 39.93 276.94 38.4 276.94C36.87 276.94 35 274.17 35 270.79C35 267.41 37.21 264.64 38.4 264.64Z" fill="#318755" class="o"/><ellipse cx="38.25" cy="261.34" rx="2.6" ry="2.15" fill="#ffffff" class="h"/>
<path d="M49.51 265.64L45.19 269.74M52.57 265.64L55.59 269.44M49.89 277.04L45.09 280.44M51.89 277.04L55.19 280.44M51.09 263.69L51.04 265.04" class="l"/><path d="M51.04 264.64C52.23 264.64 54.44 267.41 54.44 270.79C54.44 274.17 52.57 276.94 51.04 276.94C49.51 276.94 47.64 274.17 47.64 270.79C47.64 267.41 49.85 264.64 51.04 264.64Z" fill="#318755" class="o"/><ellipse cx="50.89" cy="261.34" rx="2.6" ry="2.15" fill="#ffffff" class="h"/>
<path d="M62.14 265.64L57.82 269.74M65.2 265.64L68.22 269.44M62.52 277.04L57.72 280.44M64.52 277.04L67.82 280.44M63.72 263.69L63.67 265.04" class="l"/><path d="M63.67 264.64C64.86 264.64 67.07 267.41 67.07 270.79C67.07 274.17 65.2 276.94 63.67 276.94C62.14 276.94 60.27 274.17 60.27 270.79C60.27 267.41 62.48 264.64 63.67 264.64Z" fill="#318755" class="o"/><ellipse cx="63.52" cy="261.34" rx="2.6" ry="2.15" fill="#ffffff" class="h"/>
<path d="M74.78 265.64L70.46 269.74M77.84 265.64L80.86 269.44M75.16 277.04L70.36 280.44M77.16 277.04L80.46 280.44M76.36 263.69L76.31 265.04" class="l"/><path d="M76.31 264.64C77.5 264.64 79.71 267.41 79.71 270.79C79.71 274.17 77.84 276.94 76.31 276.94C74.78 276.94 72.91 274.17 72.91 270.79C72.91 267.41 75.12 264.64 76.31 264.64Z" fill="#318755" class="o"/><ellipse cx="76.16" cy="261.34" rx="2.6" ry="2.15" fill="#ffffff" class="h"/>
<path d="M87.41 265.64L83.09 269.74M90.47 265.64L93.49 269.44M87.79 277.04L82.99 280.44M89.79 277.04L93.09 280.44M88.99 263.69L88.94 265.04" class="l"/><path d="M88.94 264.64C90.13 264.64 92.34 267.41 92.34 270.79C92.34 274.17 90.47 276.94 88.94 276.94C87.41 276.94 85.54 274.17 85.54 270.79C85.54 267.41 87.75 264.64 88.94 264.64Z" fill="#318755" class="o"/><ellipse cx="88.79" cy="261.34" rx="2.6" ry="2.15" fill="#ffffff" class="h"/>
<path d="M100.05 265.64L95.73 269.74M103.11 265.64L106.13 269.44M100.43 277.04L95.63 280.44M102.43 277.04L105.73 280.44M101.63 263.69L101.58 265.04" class="l"/><path d="M101.58 264.64C102.77 264.64 104.98 267.41 104.98 270.79C104.98 274.17 103.11 276.94 101.58 276.94C100.05 276.94 98.18 274.17 98.18 270.79C98.18 267.41 100.39 264.64 101.58 264.64Z" fill="#318755" class="o"/><ellipse cx="101.43" cy="261.34" rx="2.6" ry="2.15" fill="#ffffff" class="h"/>
<path d="M112.68 265.64L108.36 269.74M115.74 265.64L118.76 269.44M113.06 277.04L108.26 280.44M115.06 277.04L118.36 280.44M114.26 263.69L114.21 265.04" class="l"/><path d="M114.21 264.64C115.4 264.64 117.61 267.41 117.61 270.79C117.61 274.17 115.74 276.94 114.21 276.94C112.68 276.94 110.81 274.17 110.81 270.79C110.81 267.41 113.02 264.64 114.21 264.64Z" fill="#318755" class="o"/><ellipse cx="114.06" cy="261.34" rx="2.6" ry="2.15" fill="#ffffff" class="h"/>
<path d="M125.32 265.64L121 269.74M128.38 265.64L131.4 269.44M125.7 277.04L120.9 280.44M127.7 277.04L131 280.44M126.9 263.69L126.85 265.04" class="l"/><path d="M126.85 264.64C128.04 264.64 130.25 267.41 130.25 270.79C130.25 274.17 128.38 276.94 126.85 276.94C125.32 276.94 123.45 274.17 123.45 270.79C123.45 267.41 125.66 264.64 126.85 264.64Z" fill="#318755" class="o"/><ellipse cx="126.7" cy="261.34" rx="2.6" ry="2.15" fill="#ffffff" class="h"/>
<path d="M137.95 265.64L133.63 269.74M141.01 265.64L144.03 269.44M138.33 277.04L133.53 280.44M140.33 277.04L143.63 280.44M139.53 263.69L139.48 265.04" class="l"/><path d="M139.48 264.64C140.67 264.64 142.88 267.41 142.88 270.79C142.88 274.17 141.01 276.94 139.48 276.94C137.95 276.94 136.08 274.17 136.08 270.79C136.08 267.41 138.29 264.64 139.48 264.64Z" fill="#318755" class="o"/><ellipse cx="139.33" cy="261.34" rx="2.6" ry="2.15" fill="#ffffff" class="h"/>
<path d="M150.59 265.64L146.27 269.74M153.65 265.64L156.67 269.44M150.97 277.04L146.17 280.44M152.97 277.04L156.27 280.44M152.17 263.69L152.12 265.04" class="l"/><path d="M152.12 264.64C153.31 264.64 155.52 267.41 155.52 270.79C155.52 274.17 153.65 276.94 152.12 276.94C150.59 276.94 148.72 274.17 148.72 270.79C148.72 267.41 150.93 264.64 152.12 264.64Z" fill="#318755" class="o"/><ellipse cx="151.97" cy="261.34" rx="2.6" ry="2.15" fill="#ffffff" class="h"/>
<path d="M36.89 289.73L32.57 293.83M39.95 289.73L42.97 293.53M37.27 301.13L32.47 304.53M39.27 301.13L42.57 304.53M38.47 287.78L38.42 289.13" class="l"/><path d="M38.42 288.73C39.61 288.73 41.82 291.5 41.82 294.88C41.82 298.26 39.95 301.03 38.42 301.03C36.89 301.03 35.02 298.26 35.02 294.88C35.02 291.5 37.23 288.73 38.42 288.73Z" fill="#318755" class="o"/><ellipse cx="38.27" cy="285.43" rx="2.6" ry="2.15" fill="#ffffff" class="h"/>
<path d="M49.52 289.73L45.2 293.83M52.58 289.73L55.6 293.53M49.9 301.13L45.1 304.53M51.9 301.13L55.2 304.53M51.1 287.78L51.05 289.13" class="l"/><path d="M51.05 288.73C52.24 288.73 54.45 291.5 54.45 294.88C54.45 298.26 52.58 301.03 51.05 301.03C49.52 301.03 47.65 298.26 47.65 294.88C47.65 291.5 49.86 288.73 51.05 288.73Z" fill="#318755" class="o"/><ellipse cx="50.9" cy="285.43" rx="2.6" ry="2.15" fill="#ffffff" class="h"/>
<path d="M62.16 289.73L57.84 293.83M65.22 289.73L68.24 293.53M62.54 301.13L57.74 304.53M64.54 301.13L67.84 304.53M63.74 287.78L63.69 289.13" class="l"/><path d="M63.69 288.73C64.88 288.73 67.09 291.5 67.09 294.88C67.09 298.26 65.22 301.03 63.69 301.03C62.16 301.03 60.29 298.26 60.29 294.88C60.29 291.5 62.5 288.73 63.69 288.73Z" fill="#318755" class="o"/><ellipse cx="63.54" cy="285.43" rx="2.6" ry="2.15" fill="#ffffff" class="h"/>
<path d="M74.79 289.73L70.47 293.83M77.85 289.73L80.87 293.53M75.17 301.13L70.37 304.53M77.17 301.13L80.47 304.53M76.37 287.78L76.32 289.13" class="l"/><path d="M76.32 288.73C77.51 288.73 79.72 291.5 79.72 294.88C79.72 298.26 77.85 301.03 76.32 301.03C74.79 301.03 72.92 298.26 72.92 294.88C72.92 291.5 75.13 288.73 76.32 288.73Z" fill="#318755" class="o"/><ellipse cx="76.17" cy="285.43" rx="2.6" ry="2.15" fill="#ffffff" class="h"/>
<path d="M87.43 289.73L83.11 293.83M90.49 289.73L93.51 293.53M87.81 301.13L83.01 304.53M89.81 301.13L93.11 304.53M89.01 287.78L88.96 289.13" class="l"/><path d="M88.96 288.73C90.15 288.73 92.36 291.5 92.36 294.88C92.36 298.26 90.49 301.03 88.96 301.03C87.43 301.03 85.56 298.26 85.56 294.88C85.56 291.5 87.77 288.73 88.96 288.73Z" fill="#318755" class="o"/><ellipse cx="88.81" cy="285.43" rx="2.6" ry="2.15" fill="#ffffff" class="h"/>
<path d="M100.06 289.73L95.74 293.83M103.12 289.73L106.14 293.53M100.44 301.13L95.64 304.53M102.44 301.13L105.74 304.53M101.64 287.78L101.59 289.13" class="l"/><path d="M101.59 288.73C102.78 288.73 104.99 291.5 104.99 294.88C104.99 298.26 103.12 301.03 101.59 301.03C100.06 301.03 98.19 298.26 98.19 294.88C98.19 291.5 100.4 288.73 101.59 288.73Z" fill="#318755" class="o"/><ellipse cx="101.44" cy="285.43" rx="2.6" ry="2.15" fill="#ffffff" class="h"/>
<path d="M112.7 289.73L108.38 293.83M115.76 289.73L118.78 293.53M113.08 301.13L108.28 304.53M115.08 301.13L118.38 304.53M114.28 287.78L114.23 289.13" class="l"/><path d="M114.23 288.73C115.42 288.73 117.63 291.5 117.63 294.88C117.63 298.26 115.76 301.03 114.23 301.03C112.7 301.03 110.83 298.26 110.83 294.88C110.83 291.5 113.04 288.73 114.23 288.73Z" fill="#318755" class="o"/><ellipse cx="114.08" cy="285.43" rx="2.6" ry="2.15" fill="#ffffff" class="h"/>
<path d="M125.33 289.73L121.01 293.83M128.39 289.73L131.41 293.53M125.71 301.13L120.91 304.53M127.71 301.13L131.01 304.53M126.91 287.78L126.86 289.13" class="l"/><path d="M126.86 288.73C128.05 288.73 130.26 291.5 130.26 294.88C130.26 298.26 128.39 301.03 126.86 301.03C125.33 301.03 123.46 298.26 123.46 294.88C123.46 291.5 125.67 288.73 126.86 288.73Z" fill="#318755" class="o"/><ellipse cx="126.71" cy="285.43" rx="2.6" ry="2.15" fill="#ffffff" class="h"/>
<path d="M137.97 289.73L133.65 293.83M141.03 289.73L144.05 293.53M138.35 301.13L133.55 304.53M140.35 301.13L143.65 304.53M139.55 287.78L139.5 289.13" class="l"/><path d="M139.5 288.73C140.69 288.73 142.9 291.5 142.9 294.88C142.9 298.26 141.03 301.03 139.5 301.03C137.97 301.03 136.1 298.26 136.1 294.88C136.1 291.5 138.31 288.73 139.5 288.73Z" fill="#318755" class="o"/><ellipse cx="139.35" cy="285.43" rx="2.6" ry="2.15" fill="#ffffff" class="h"/>
<path d="M150.6 289.73L146.28 293.83M153.66 289.73L156.68 293.53M150.98 301.13L146.18 304.53M152.98 301.13L156.28 304.53M152.18 287.78L152.13 289.13" class="l"/><path d="M152.13 288.73C153.32 288.73 155.53 291.5 155.53 294.88C155.53 298.26 153.66 301.03 152.13 301.03C150.6 301.03 148.73 298.26 148.73 294.88C148.73 291.5 150.94 288.73 152.13 288.73Z" fill="#318755" class="o"/><ellipse cx="151.98" cy="285.43" rx="2.6" ry="2.15" fill="#ffffff" class="h"/>
<path d="M36.91 313.82L32.59 317.92M39.97 313.82L42.99 317.62M37.29 325.22L32.49 328.62M39.29 325.22L42.59 328.62M38.49 311.87L38.44 313.22" class="l"/><path d="M38.44 312.82C39.63 312.82 41.84 315.59 41.84 318.97C41.84 322.35 39.97 325.12 38.44 325.12C36.91 325.12 35.04 322.35 35.04 318.97C35.04 315.59 37.25 312.82 38.44 312.82Z" fill="#318755" class="o"/><ellipse cx="38.29" cy="309.52" rx="2.6" ry="2.15" fill="#ffffff" class="h"/>
<path d="M49.54 313.82L45.22 317.92M52.6 313.82L55.62 317.62M49.92 325.22L45.12 328.62M51.92 325.22L55.22 328.62M51.12 311.87L51.07 313.22" class="l"/><path d="M51.07 312.82C52.26 312.82 54.47 315.59 54.47 318.97C54.47 322.35 52.6 325.12 51.07 325.12C49.54 325.12 47.67 322.35 47.67 318.97C47.67 315.59 49.88 312.82 51.07 312.82Z" fill="#318755" class="o"/><ellipse cx="50.92" cy="309.52" rx="2.6" ry="2.15" fill="#ffffff" class="h"/>
<path d="M62.18 313.82L57.86 317.92M65.24 313.82L68.26 317.62M62.56 325.22L57.76 328.62M64.56 325.22L67.86 328.62M63.76 311.87L63.71 313.22" class="l"/><path d="M63.71 312.82C64.9 312.82 67.11 315.59 67.11 318.97C67.11 322.35 65.24 325.12 63.71 325.12C62.18 325.12 60.31 322.35 60.31 318.97C60.31 315.59 62.52 312.82 63.71 312.82Z" fill="#318755" class="o"/><ellipse cx="63.56" cy="309.52" rx="2.6" ry="2.15" fill="#ffffff" class="h"/>
<path d="M74.81 313.82L70.49 317.92M77.87 313.82L80.89 317.62M75.19 325.22L70.39 328.62M77.19 325.22L80.49 328.62M76.39 311.87L76.34 313.22" class="l"/><path d="M76.34 312.82C77.53 312.82 79.74 315.59 79.74 318.97C79.74 322.35 77.87 325.12 76.34 325.12C74.81 325.12 72.94 322.35 72.94 318.97C72.94 315.59 75.15 312.82 76.34 312.82Z" fill="#318755" class="o"/><ellipse cx="76.19" cy="309.52" rx="2.6" ry="2.15" fill="#ffffff" class="h"/>
<path d="M87.45 313.82L83.13 317.92M90.51 313.82L93.53 317.62M87.83 325.22L83.03 328.62M89.83 325.22L93.13 328.62M89.03 311.87L88.98 313.22" class="l"/><path d="M88.98 312.82C90.17 312.82 92.38 315.59 92.38 318.97C92.38 322.35 90.51 325.12 88.98 325.12C87.45 325.12 85.58 322.35 85.58 318.97C85.58 315.59 87.79 312.82 88.98 312.82Z" fill="#318755" class="o"/><ellipse cx="88.83" cy="309.52" rx="2.6" ry="2.15" fill="#ffffff" class="h"/>
<path d="M100.08 313.82L95.76 317.92M103.14 313.82L106.16 317.62M100.46 325.22L95.66 328.62M102.46 325.22L105.76 328.62M101.66 311.87L101.61 313.22" class="l"/><path d="M101.61 312.82C102.8 312.82 105.01 315.59 105.01 318.97C105.01 322.35 103.14 325.12 101.61 325.12C100.08 325.12 98.21 322.35 98.21 318.97C98.21 315.59 100.42 312.82 101.61 312.82Z" fill="#318755" class="o"/><ellipse cx="101.46" cy="309.52" rx="2.6" ry="2.15" fill="#ffffff" class="h"/>
<path d="M112.72 313.82L108.4 317.92M115.78 313.82L118.8 317.62M113.1 325.22L108.3 328.62M115.1 325.22L118.4 328.62M114.3 311.87L114.25 313.22" class="l"/><path d="M114.25 312.82C115.44 312.82 117.65 315.59 117.65 318.97C117.65 322.35 115.78 325.12 114.25 325.12C112.72 325.12 110.85 322.35 110.85 318.97C110.85 315.59 113.06 312.82 114.25 312.82Z" fill="#318755" class="o"/><ellipse cx="114.1" cy="309.52" rx="2.6" ry="2.15" fill="#ffffff" class="h"/>
<path d="M125.35 313.82L121.03 317.92M128.41 313.82L131.43 317.62M125.73 325.22L120.93 328.62M127.73 325.22L131.03 328.62M126.93 311.87L126.88 313.22" class="l"/><path d="M126.88 312.82C128.07 312.82 130.28 315.59 130.28 318.97C130.28 322.35 128.41 325.12 126.88 325.12C125.35 325.12 123.48 322.35 123.48 318.97C123.48 315.59 125.69 312.82 126.88 312.82Z" fill="#318755" class="o"/><ellipse cx="126.73" cy="309.52" rx="2.6" ry="2.15" fill="#ffffff" class="h"/>
<path d="M137.99 313.82L133.67 317.92M141.05 313.82L144.07 317.62M138.37 325.22L133.57 328.62M140.37 325.22L143.67 328.62M139.57 311.87L139.52 313.22" class="l"/><path d="M139.52 312.82C140.71 312.82 142.92 315.59 142.92 318.97C142.92 322.35 141.05 325.12 139.52 325.12C137.99 325.12 136.12 322.35 136.12 318.97C136.12 315.59 138.33 312.82 139.52 312.82Z" fill="#318755" class="o"/><ellipse cx="139.37" cy="309.52" rx="2.6" ry="2.15" fill="#ffffff" class="h"/>
<path d="M150.62 313.82L146.3 317.92M153.68 313.82L156.7 317.62M151 325.22L146.2 328.62M153 325.22L156.3 328.62M152.2 311.87L152.15 313.22" class="l"/><path d="M152.15 312.82C153.34 312.82 155.55 315.59 155.55 318.97C155.55 322.35 153.68 325.12 152.15 325.12C150.62 325.12 148.75 322.35 148.75 318.97C148.75 315.59 150.96 312.82 152.15 312.82Z" fill="#318755" class="o"/><ellipse cx="152" cy="309.52" rx="2.6" ry="2.15" fill="#ffffff" class="h"/>
<path d="M36.92 337.91L32.6 342.01M39.98 337.91L43 341.71M37.3 349.31L32.5 352.71M39.3 349.31L42.6 352.71M38.5 335.96L38.45 337.31" class="l"/><path d="M38.45 336.91C39.64 336.91 41.85 339.68 41.85 343.06C41.85 346.44 39.98 349.21 38.45 349.21C36.92 349.21 35.05 346.44 35.05 343.06C35.05 339.68 37.26 336.91 38.45 336.91Z" fill="#318755" class="o"/><ellipse cx="38.3" cy="333.61" rx="2.6" ry="2.15" fill="#ffffff" class="h"/>
<path d="M49.56 337.91L45.24 342.01M52.62 337.91L55.64 341.71M49.94 349.31L45.14 352.71M51.94 349.31L55.24 352.71M51.14 335.96L51.09 337.31" class="l"/><path d="M51.09 336.91C52.28 336.91 54.49 339.68 54.49 343.06C54.49 346.44 52.62 349.21 51.09 349.21C49.56 349.21 47.69 346.44 47.69 343.06C47.69 339.68 49.9 336.91 51.09 336.91Z" fill="#318755" class="o"/><ellipse cx="50.94" cy="333.61" rx="2.6" ry="2.15" fill="#ffffff" class="h"/>
<path d="M62.19 337.91L57.87 342.01M65.25 337.91L68.27 341.71M62.57 349.31L57.77 352.71M64.57 349.31L67.87 352.71M63.77 335.96L63.72 337.31" class="l"/><path d="M63.72 336.91C64.91 336.91 67.12 339.68 67.12 343.06C67.12 346.44 65.25 349.21 63.72 349.21C62.19 349.21 60.32 346.44 60.32 343.06C60.32 339.68 62.53 336.91 63.72 336.91Z" fill="#318755" class="o"/><ellipse cx="63.57" cy="333.61" rx="2.6" ry="2.15" fill="#ffffff" class="h"/>
<path d="M74.83 337.91L70.51 342.01M77.89 337.91L80.91 341.71M75.21 349.31L70.41 352.71M77.21 349.31L80.51 352.71M76.41 335.96L76.36 337.31" class="l"/><path d="M76.36 336.91C77.55 336.91 79.76 339.68 79.76 343.06C79.76 346.44 77.89 349.21 76.36 349.21C74.83 349.21 72.96 346.44 72.96 343.06C72.96 339.68 75.17 336.91 76.36 336.91Z" fill="#318755" class="o"/><ellipse cx="76.21" cy="333.61" rx="2.6" ry="2.15" fill="#ffffff" class="h"/>
<path d="M87.46 337.91L83.14 342.01M90.52 337.91L93.54 341.71M87.84 349.31L83.04 352.71M89.84 349.31L93.14 352.71M89.04 335.96L88.99 337.31" class="l"/><path d="M88.99 336.91C90.18 336.91 92.39 339.68 92.39 343.06C92.39 346.44 90.52 349.21 88.99 349.21C87.46 349.21 85.59 346.44 85.59 343.06C85.59 339.68 87.8 336.91 88.99 336.91Z" fill="#318755" class="o"/><ellipse cx="88.84" cy="333.61" rx="2.6" ry="2.15" fill="#ffffff" class="h"/>
<path d="M100.1 337.91L95.78 342.01M103.16 337.91L106.18 341.71M100.48 349.31L95.68 352.71M102.48 349.31L105.78 352.71M101.68 335.96L101.63 337.31" class="l"/><path d="M101.63 336.91C102.82 336.91 105.03 339.68 105.03 343.06C105.03 346.44 103.16 349.21 101.63 349.21C100.1 349.21 98.23 346.44 98.23 343.06C98.23 339.68 100.44 336.91 101.63 336.91Z" fill="#318755" class="o"/><ellipse cx="101.48" cy="333.61" rx="2.6" ry="2.15" fill="#ffffff" class="h"/>
<path d="M112.73 337.91L108.41 342.01M115.79 337.91L118.81 341.71M113.11 349.31L108.31 352.71M115.11 349.31L118.41 352.71M114.31 335.96L114.26 337.31" class="l"/><path d="M114.26 336.91C115.45 336.91 117.66 339.68 117.66 343.06C117.66 346.44 115.79 349.21 114.26 349.21C112.73 349.21 110.86 346.44 110.86 343.06C110.86 339.68 113.07 336.91 114.26 336.91Z" fill="#318755" class="o"/><ellipse cx="114.11" cy="333.61" rx="2.6" ry="2.15" fill="#ffffff" class="h"/>
<path d="M125.37 337.91L121.05 342.01M128.43 337.91L131.45 341.71M125.75 349.31L120.95 352.71M127.75 349.31L131.05 352.71M126.95 335.96L126.9 337.31" class="l"/><path d="M126.9 336.91C128.09 336.91 130.3 339.68 130.3 343.06C130.3 346.44 128.43 349.21 126.9 349.21C125.37 349.21 123.5 346.44 123.5 343.06C123.5 339.68 125.71 336.91 126.9 336.91Z" fill="#318755" class="o"/><ellipse cx="126.75" cy="333.61" rx="2.6" ry="2.15" fill="#ffffff" class="h"/>
<path d="M138 337.91L133.68 342.01M141.06 337.91L144.08 341.71M138.38 349.31L133.58 352.71M140.38 349.31L143.68 352.71M139.58 335.96L139.53 337.31" class="l"/><path d="M139.53 336.91C140.72 336.91 142.93 339.68 142.93 343.06C142.93 346.44 141.06 349.21 139.53 349.21C138 349.21 136.13 346.44 136.13 343.06C136.13 339.68 138.34 336.91 139.53 336.91Z" fill="#318755" class="o"/><ellipse cx="139.38" cy="333.61" rx="2.6" ry="2.15" fill="#ffffff" class="h"/>
<path d="M150.64 337.91L146.32 342.01M153.7 337.91L156.72 341.71M151.02 349.31L146.22 352.71M153.02 349.31L156.32 352.71M152.22 335.96L152.17 337.31" class="l"/><path d="M152.17 336.91C153.36 336.91 155.57 339.68 155.57 343.06C155.57 346.44 153.7 349.21 152.17 349.21C150.64 349.21 148.77 346.44 148.77 343.06C148.77 339.68 150.98 336.91 152.17 336.91Z" fill="#318755" class="o"/><ellipse cx="152.02" cy="333.61" rx="2.6" ry="2.15" fill="#ffffff" class="h"/>
<path d="M192.69 117.4L188.05 120.7M195.61 117.4L198.65 120.3M192.95 128.2L188.55 131.7M194.95 128.2L198.45 131.7M194.15 115.3L194.15 116.8" class="l"/><path d="M194.15 116.4C195.45 116.4 197.4 118.93 197.4 122.02C197.4 125.36 196.1 128.1 194.15 128.1C192.2 128.1 190.9 125.36 190.9 122.02C190.9 118.93 192.85 116.4 194.15 116.4Z" fill="#dadada" class="o"/><ellipse cx="193.95" cy="112.7" rx="2.8" ry="2.3" fill="#ffffff" class="h"/>
<path d="M205.26 117.4L200.62 120.7M208.18 117.4L211.22 120.3M205.52 128.2L201.12 131.7M207.52 128.2L211.02 131.7M206.72 115.3L206.72 116.8" class="l"/><path d="M206.72 116.4C208.02 116.4 209.97 118.93 209.97 122.02C209.97 125.36 208.67 128.1 206.72 128.1C204.77 128.1 203.47 125.36 203.47 122.02C203.47 118.93 205.42 116.4 206.72 116.4Z" fill="#dadada" class="o"/><ellipse cx="206.52" cy="112.7" rx="2.8" ry="2.3" fill="#ffffff" class="h"/>
<path d="M217.83 117.4L213.19 120.7M220.75 117.4L223.79 120.3M218.09 128.2L213.69 131.7M220.09 128.2L223.59 131.7M219.29 115.3L219.29 116.8" class="l"/><path d="M219.29 116.4C220.59 116.4 222.54 118.93 222.54 122.02C222.54 125.36 221.24 128.1 219.29 128.1C217.34 128.1 216.04 125.36 216.04 122.02C216.04 118.93 217.99 116.4 219.29 116.4Z" fill="#dadada" class="o"/><ellipse cx="219.09" cy="112.7" rx="2.8" ry="2.3" fill="#ffffff" class="h"/>
<path d="M230.4 117.4L225.76 120.7M233.32 117.4L236.36 120.3M230.66 128.2L226.26 131.7M232.66 128.2L236.16 131.7M231.86 115.3L231.86 116.8" class="l"/><path d="M231.86 116.4C233.16 116.4 235.11 118.93 235.11 122.02C235.11 125.36 233.81 128.1 231.86 128.1C229.91 128.1 228.61 125.36 228.61 122.02C228.61 118.93 230.56 116.4 231.86 116.4Z" fill="#dadada" class="o"/><ellipse cx="231.66" cy="112.7" rx="2.8" ry="2.3" fill="#ffffff" class="h"/>
<path d="M242.97 117.4L238.33 120.7M245.89 117.4L248.93 120.3M243.23 128.2L238.83 131.7M245.23 128.2L248.73 131.7M244.43 115.3L244.43 116.8" class="l"/><path d="M244.43 116.4C245.73 116.4 247.68 118.93 247.68 122.02C247.68 125.36 246.38 128.1 244.43 128.1C242.48 128.1 241.18 125.36 241.18 122.02C241.18 118.93 243.13 116.4 244.43 116.4Z" fill="#dadada" class="o"/><ellipse cx="244.23" cy="112.7" rx="2.8" ry="2.3" fill="#ffffff" class="h"/>
<path d="M255.54 117.4L250.9 120.7M258.46 117.4L261.5 120.3M255.8 128.2L251.4 131.7M257.8 128.2L261.3 131.7M257 115.3L257 116.8" class="l"/><path d="M257 116.4C258.3 116.4 260.25 118.93 260.25 122.02C260.25 125.36 258.95 128.1 257 128.1C255.05 128.1 253.75 125.36 253.75 122.02C253.75 118.93 255.7 116.4 257 116.4Z" fill="#dadada" class="o"/><ellipse cx="256.8" cy="112.7" rx="2.8" ry="2.3" fill="#ffffff" class="h"/>
<path d="M268.11 117.4L263.47 120.7M271.03 117.4L274.07 120.3M268.37 128.2L263.97 131.7M270.37 128.2L273.87 131.7M269.57 115.3L269.57 116.8" class="l"/><path d="M269.57 116.4C270.87 116.4 272.82 118.93 272.82 122.02C272.82 125.36 271.52 128.1 269.57 128.1C267.62 128.1 266.32 125.36 266.32 122.02C266.32 118.93 268.27 116.4 269.57 116.4Z" fill="#dadada" class="o"/><ellipse cx="269.37" cy="112.7" rx="2.8" ry="2.3" fill="#ffffff" class="h"/>
<path d="M280.68 117.4L276.04 120.7M283.6 117.4L286.64 120.3M280.94 128.2L276.54 131.7M282.94 128.2L286.44 131.7M282.14 115.3L282.14 116.8" class="l"/><path d="M282.14 116.4C283.44 116.4 285.39 118.93 285.39 122.02C285.39 125.36 284.09 128.1 282.14 128.1C280.19 128.1 278.89 125.36 278.89 122.02C278.89 118.93 280.84 116.4 282.14 116.4Z" fill="#dadada" class="o"/><ellipse cx="281.94" cy="112.7" rx="2.8" ry="2.3" fill="#ffffff" class="h"/>
<path d="M293.25 117.4L288.61 120.7M296.17 117.4L299.21 120.3M293.51 128.2L289.11 131.7M295.51 128.2L299.01 131.7M294.71 115.3L294.71 116.8" class="l"/><path d="M294.71 116.4C296.01 116.4 297.96 118.93 297.96 122.02C297.96 125.36 296.66 128.1 294.71 128.1C292.76 128.1 291.46 125.36 291.46 122.02C291.46 118.93 293.41 116.4 294.71 116.4Z" fill="#dadada" class="o"/><ellipse cx="294.51" cy="112.7" rx="2.8" ry="2.3" fill="#ffffff" class="h"/>
<path d="M193.05 141.46L188.41 144.76M195.97 141.46L199.01 144.36M193.31 152.26L188.91 155.76M195.31 152.26L198.81 155.76M194.51 139.36L194.51 140.86" class="l"/><path d="M194.51 140.46C195.81 140.46 197.76 142.99 197.76 146.08C197.76 149.42 196.46 152.16 194.51 152.16C192.56 152.16 191.26 149.42 191.26 146.08C191.26 142.99 193.21 140.46 194.51 140.46Z" fill="#dadada" class="o"/><ellipse cx="194.31" cy="136.76" rx="2.8" ry="2.3" fill="#ffffff" class="h"/>
<path d="M205.62 141.46L200.98 144.76M208.54 141.46L211.58 144.36M205.88 152.26L201.48 155.76M207.88 152.26L211.38 155.76M207.08 139.36L207.08 140.86" class="l"/><path d="M207.08 140.46C208.38 140.46 210.33 142.99 210.33 146.08C210.33 149.42 209.03 152.16 207.08 152.16C205.13 152.16 203.83 149.42 203.83 146.08C203.83 142.99 205.78 140.46 207.08 140.46Z" fill="#dadada" class="o"/><ellipse cx="206.88" cy="136.76" rx="2.8" ry="2.3" fill="#ffffff" class="h"/>
<path d="M218.19 141.46L213.55 144.76M221.11 141.46L224.15 144.36M218.45 152.26L214.05 155.76M220.45 152.26L223.95 155.76M219.65 139.36L219.65 140.86" class="l"/><path d="M219.65 140.46C220.95 140.46 222.9 142.99 222.9 146.08C222.9 149.42 221.6 152.16 219.65 152.16C217.7 152.16 216.4 149.42 216.4 146.08C216.4 142.99 218.35 140.46 219.65 140.46Z" fill="#dadada" class="o"/><ellipse cx="219.45" cy="136.76" rx="2.8" ry="2.3" fill="#ffffff" class="h"/>
<path d="M230.76 141.46L226.12 144.76M233.68 141.46L236.72 144.36M231.02 152.26L226.62 155.76M233.02 152.26L236.52 155.76M232.22 139.36L232.22 140.86" class="l"/><path d="M232.22 140.46C233.52 140.46 235.47 142.99 235.47 146.08C235.47 149.42 234.17 152.16 232.22 152.16C230.27 152.16 228.97 149.42 228.97 146.08C228.97 142.99 230.92 140.46 232.22 140.46Z" fill="#dadada" class="o"/><ellipse cx="232.02" cy="136.76" rx="2.8" ry="2.3" fill="#ffffff" class="h"/>
<path d="M243.33 141.46L238.69 144.76M246.25 141.46L249.29 144.36M243.59 152.26L239.19 155.76M245.59 152.26L249.09 155.76M244.79 139.36L244.79 140.86" class="l"/><path d="M244.79 140.46C246.09 140.46 248.04 142.99 248.04 146.08C248.04 149.42 246.74 152.16 244.79 152.16C242.84 152.16 241.54 149.42 241.54 146.08C241.54 142.99 243.49 140.46 244.79 140.46Z" fill="#dadada" class="o"/><ellipse cx="244.59" cy="136.76" rx="2.8" ry="2.3" fill="#ffffff" class="h"/>
<path d="M255.9 141.46L251.26 144.76M258.82 141.46L261.86 144.36M256.16 152.26L251.76 155.76M258.16 152.26L261.66 155.76M257.36 139.36L257.36 140.86" class="l"/><path d="M257.36 140.46C258.66 140.46 260.61 142.99 260.61 146.08C260.61 149.42 259.31 152.16 257.36 152.16C255.41 152.16 254.11 149.42 254.11 146.08C254.11 142.99 256.06 140.46 257.36 140.46Z" fill="#dadada" class="o"/><ellipse cx="257.16" cy="136.76" rx="2.8" ry="2.3" fill="#ffffff" class="h"/>
<path d="M268.47 141.46L263.83 144.76M271.39 141.46L274.43 144.36M268.73 152.26L264.33 155.76M270.73 152.26L274.23 155.76M269.93 139.36L269.93 140.86" class="l"/><path d="M269.93 140.46C271.23 140.46 273.18 142.99 273.18 146.08C273.18 149.42 271.88 152.16 269.93 152.16C267.98 152.16 266.68 149.42 266.68 146.08C266.68 142.99 268.63 140.46 269.93 140.46Z" fill="#dadada" class="o"/><ellipse cx="269.73" cy="136.76" rx="2.8" ry="2.3" fill="#ffffff" class="h"/>
<path d="M281.04 141.46L276.4 144.76M283.96 141.46L287 144.36M281.3 152.26L276.9 155.76M283.3 152.26L286.8 155.76M282.5 139.36L282.5 140.86" class="l"/><path d="M282.5 140.46C283.8 140.46 285.75 142.99 285.75 146.08C285.75 149.42 284.45 152.16 282.5 152.16C280.55 152.16 279.25 149.42 279.25 146.08C279.25 142.99 281.2 140.46 282.5 140.46Z" fill="#dadada" class="o"/><ellipse cx="282.3" cy="136.76" rx="2.8" ry="2.3" fill="#ffffff" class="h"/>
<path d="M293.61 141.46L288.97 144.76M296.53 141.46L299.57 144.36M293.87 152.26L289.47 155.76M295.87 152.26L299.37 155.76M295.07 139.36L295.07 140.86" class="l"/><path d="M295.07 140.46C296.37 140.46 298.32 142.99 298.32 146.08C298.32 149.42 297.02 152.16 295.07 152.16C293.12 152.16 291.82 149.42 291.82 146.08C291.82 142.99 293.77 140.46 295.07 140.46Z" fill="#dadada" class="o"/><ellipse cx="294.87" cy="136.76" rx="2.8" ry="2.3" fill="#ffffff" class="h"/>
<path d="M306.18 141.46L301.54 144.76M309.1 141.46L312.14 144.36M306.44 152.26L302.04 155.76M308.44 152.26L311.94 155.76M307.64 139.36L307.64 140.86" class="l"/><path d="M307.64 140.46C308.94 140.46 310.89 142.99 310.89 146.08C310.89 149.42 309.59 152.16 307.64 152.16C305.69 152.16 304.39 149.42 304.39 146.08C304.39 142.99 306.34 140.46 307.64 140.46Z" fill="#dadada" class="o"/><ellipse cx="307.44" cy="136.76" rx="2.8" ry="2.3" fill="#ffffff" class="h"/>
<path d="M193.41 165.52L188.77 168.82M196.33 165.52L199.37 168.42M193.67 176.32L189.27 179.82M195.67 176.32L199.17 179.82M194.87 163.42L194.87 164.92" class="l"/><path d="M194.87 164.52C196.17 164.52 198.12 167.05 198.12 170.14C198.12 173.48 196.82 176.22 194.87 176.22C192.92 176.22 191.62 173.48 191.62 170.14C191.62 167.05 193.57 164.52 194.87 164.52Z" fill="#dadada" class="o"/><ellipse cx="194.67" cy="160.82" rx="2.8" ry="2.3" fill="#ffffff" class="h"/>
<path d="M205.98 165.52L201.34 168.82M208.9 165.52L211.94 168.42M206.24 176.32L201.84 179.82M208.24 176.32L211.74 179.82M207.44 163.42L207.44 164.92" class="l"/><path d="M207.44 164.52C208.74 164.52 210.69 167.05 210.69 170.14C210.69 173.48 209.39 176.22 207.44 176.22C205.49 176.22 204.19 173.48 204.19 170.14C204.19 167.05 206.14 164.52 207.44 164.52Z" fill="#dadada" class="o"/><ellipse cx="207.24" cy="160.82" rx="2.8" ry="2.3" fill="#ffffff" class="h"/>
<path d="M218.55 165.52L213.91 168.82M221.47 165.52L224.51 168.42M218.81 176.32L214.41 179.82M220.81 176.32L224.31 179.82M220.01 163.42L220.01 164.92" class="l"/><path d="M220.01 164.52C221.31 164.52 223.26 167.05 223.26 170.14C223.26 173.48 221.96 176.22 220.01 176.22C218.06 176.22 216.76 173.48 216.76 170.14C216.76 167.05 218.71 164.52 220.01 164.52Z" fill="#dadada" class="o"/><ellipse cx="219.81" cy="160.82" rx="2.8" ry="2.3" fill="#ffffff" class="h"/>
<path d="M231.12 165.52L226.48 168.82M234.04 165.52L237.08 168.42M231.38 176.32L226.98 179.82M233.38 176.32L236.88 179.82M232.58 163.42L232.58 164.92" class="l"/><path d="M232.58 164.52C233.88 164.52 235.83 167.05 235.83 170.14C235.83 173.48 234.53 176.22 232.58 176.22C230.63 176.22 229.33 173.48 229.33 170.14C229.33 167.05 231.28 164.52 232.58 164.52Z" fill="#dadada" class="o"/><ellipse cx="232.38" cy="160.82" rx="2.8" ry="2.3" fill="#ffffff" class="h"/>
<path d="M243.69 165.52L239.05 168.82M246.61 165.52L249.65 168.42M243.95 176.32L239.55 179.82M245.95 176.32L249.45 179.82M245.15 163.42L245.15 164.92" class="l"/><path d="M245.15 164.52C246.45 164.52 248.4 167.05 248.4 170.14C248.4 173.48 247.1 176.22 245.15 176.22C243.2 176.22 241.9 173.48 241.9 170.14C241.9 167.05 243.85 164.52 245.15 164.52Z" fill="#dadada" class="o"/><ellipse cx="244.95" cy="160.82" rx="2.8" ry="2.3" fill="#ffffff" class="h"/>
<path d="M256.26 165.52L251.62 168.82M259.18 165.52L262.22 168.42M256.52 176.32L252.12 179.82M258.52 176.32L262.02 179.82M257.72 163.42L257.72 164.92" class="l"/><path d="M257.72 164.52C259.02 164.52 260.97 167.05 260.97 170.14C260.97 173.48 259.67 176.22 257.72 176.22C255.77 176.22 254.47 173.48 254.47 170.14C254.47 167.05 256.42 164.52 257.72 164.52Z" fill="#dadada" class="o"/><ellipse cx="257.52" cy="160.82" rx="2.8" ry="2.3" fill="#ffffff" class="h"/>
<path d="M268.83 165.52L264.19 168.82M271.75 165.52L274.79 168.42M269.09 176.32L264.69 179.82M271.09 176.32L274.59 179.82M270.29 163.42L270.29 164.92" class="l"/><path d="M270.29 164.52C271.59 164.52 273.54 167.05 273.54 170.14C273.54 173.48 272.24 176.22 270.29 176.22C268.34 176.22 267.04 173.48 267.04 170.14C267.04 167.05 268.99 164.52 270.29 164.52Z" fill="#dadada" class="o"/><ellipse cx="270.09" cy="160.82" rx="2.8" ry="2.3" fill="#ffffff" class="h"/>
<path d="M281.4 165.52L276.76 168.82M284.32 165.52L287.36 168.42M281.66 176.32L277.26 179.82M283.66 176.32L287.16 179.82M282.86 163.42L282.86 164.92" class="l"/><path d="M282.86 164.52C284.16 164.52 286.11 167.05 286.11 170.14C286.11 173.48 284.81 176.22 282.86 176.22C280.91 176.22 279.61 173.48 279.61 170.14C279.61 167.05 281.56 164.52 282.86 164.52Z" fill="#dadada" class="o"/><ellipse cx="282.66" cy="160.82" rx="2.8" ry="2.3" fill="#ffffff" class="h"/>
<path d="M293.97 165.52L289.33 168.82M296.89 165.52L299.93 168.42M294.23 176.32L289.83 179.82M296.23 176.32L299.73 179.82M295.43 163.42L295.43 164.92" class="l"/><path d="M295.43 164.52C296.73 164.52 298.68 167.05 298.68 170.14C298.68 173.48 297.38 176.22 295.43 176.22C293.48 176.22 292.18 173.48 292.18 170.14C292.18 167.05 294.13 164.52 295.43 164.52Z" fill="#dadada" class="o"/><ellipse cx="295.23" cy="160.82" rx="2.8" ry="2.3" fill="#ffffff" class="h"/>
<path d="M306.54 165.52L301.9 168.82M309.46 165.52L312.5 168.42M306.8 176.32L302.4 179.82M308.8 176.32L312.3 179.82M308 163.42L308 164.92" class="l"/><path d="M308 164.52C309.3 164.52 311.25 167.05 311.25 170.14C311.25 173.48 309.95 176.22 308 176.22C306.05 176.22 304.75 173.48 304.75 170.14C304.75 167.05 306.7 164.52 308 164.52Z" fill="#dadada" class="o"/><ellipse cx="307.8" cy="160.82" rx="2.8" ry="2.3" fill="#ffffff" class="h"/>
<path d="M193.77 189.58L189.13 192.88M196.69 189.58L199.73 192.48M194.03 200.38L189.63 203.88M196.03 200.38L199.53 203.88M195.23 187.48L195.23 188.98" class="l"/><path d="M195.23 188.58C196.53 188.58 198.48 191.11 198.48 194.2C198.48 197.54 197.18 200.28 195.23 200.28C193.28 200.28 191.98 197.54 191.98 194.2C191.98 191.11 193.93 188.58 195.23 188.58Z" fill="#dadada" class="o"/><ellipse cx="195.03" cy="184.88" rx="2.8" ry="2.3" fill="#ffffff" class="h"/>
<path d="M206.34 189.58L201.7 192.88M209.26 189.58L212.3 192.48M206.6 200.38L202.2 203.88M208.6 200.38L212.1 203.88M207.8 187.48L207.8 188.98" class="l"/><path d="M207.8 188.58C209.1 188.58 211.05 191.11 211.05 194.2C211.05 197.54 209.75 200.28 207.8 200.28C205.85 200.28 204.55 197.54 204.55 194.2C204.55 191.11 206.5 188.58 207.8 188.58Z" fill="#dadada" class="o"/><ellipse cx="207.6" cy="184.88" rx="2.8" ry="2.3" fill="#ffffff" class="h"/>
<path d="M218.91 189.58L214.27 192.88M221.83 189.58L224.87 192.48M219.17 200.38L214.77 203.88M221.17 200.38L224.67 203.88M220.37 187.48L220.37 188.98" class="l"/><path d="M220.37 188.58C221.67 188.58 223.62 191.11 223.62 194.2C223.62 197.54 222.32 200.28 220.37 200.28C218.42 200.28 217.12 197.54 217.12 194.2C217.12 191.11 219.07 188.58 220.37 188.58Z" fill="#dadada" class="o"/><ellipse cx="220.17" cy="184.88" rx="2.8" ry="2.3" fill="#ffffff" class="h"/>
<path d="M231.48 189.58L226.84 192.88M234.4 189.58L237.44 192.48M231.74 200.38L227.34 203.88M233.74 200.38L237.24 203.88M232.94 187.48L232.94 188.98" class="l"/><path d="M232.94 188.58C234.24 188.58 236.19 191.11 236.19 194.2C236.19 197.54 234.89 200.28 232.94 200.28C230.99 200.28 229.69 197.54 229.69 194.2C229.69 191.11 231.64 188.58 232.94 188.58Z" fill="#dadada" class="o"/><ellipse cx="232.74" cy="184.88" rx="2.8" ry="2.3" fill="#ffffff" class="h"/>
<path d="M244.05 189.58L239.41 192.88M246.97 189.58L250.01 192.48M244.31 200.38L239.91 203.88M246.31 200.38L249.81 203.88M245.51 187.48L245.51 188.98" class="l"/><path d="M245.51 188.58C246.81 188.58 248.76 191.11 248.76 194.2C248.76 197.54 247.46 200.28 245.51 200.28C243.56 200.28 242.26 197.54 242.26 194.2C242.26 191.11 244.21 188.58 245.51 188.58Z" fill="#dadada" class="o"/><ellipse cx="245.31" cy="184.88" rx="2.8" ry="2.3" fill="#ffffff" class="h"/>
<path d="M256.62 189.58L251.98 192.88M259.54 189.58L262.58 192.48M256.88 200.38L252.48 203.88M258.88 200.38L262.38 203.88M258.08 187.48L258.08 188.98" class="l"/><path d="M258.08 188.58C259.38 188.58 261.33 191.11 261.33 194.2C261.33 197.54 260.03 200.28 258.08 200.28C256.13 200.28 254.83 197.54 254.83 194.2C254.83 191.11 256.78 188.58 258.08 188.58Z" fill="#dadada" class="o"/><ellipse cx="257.88" cy="184.88" rx="2.8" ry="2.3" fill="#ffffff" class="h"/>
<path d="M269.19 189.58L264.55 192.88M272.11 189.58L275.15 192.48M269.45 200.38L265.05 203.88M271.45 200.38L274.95 203.88M270.65 187.48L270.65 188.98" class="l"/><path d="M270.65 188.58C271.95 188.58 273.9 191.11 273.9 194.2C273.9 197.54 272.6 200.28 270.65 200.28C268.7 200.28 267.4 197.54 267.4 194.2C267.4 191.11 269.35 188.58 270.65 188.58Z" fill="#dadada" class="o"/><ellipse cx="270.45" cy="184.88" rx="2.8" ry="2.3" fill="#ffffff" class="h"/>
<path d="M281.76 189.58L277.12 192.88M284.68 189.58L287.72 192.48M282.02 200.38L277.62 203.88M284.02 200.38L287.52 203.88M283.22 187.48L283.22 188.98" class="l"/><path d="M283.22 188.58C284.52 188.58 286.47 191.11 286.47 194.2C286.47 197.54 285.17 200.28 283.22 200.28C281.27 200.28 279.97 197.54 279.97 194.2C279.97 191.11 281.92 188.58 283.22 188.58Z" fill="#dadada" class="o"/><ellipse cx="283.02" cy="184.88" rx="2.8" ry="2.3" fill="#ffffff" class="h"/>
<path d="M294.33 189.58L289.69 192.88M297.25 189.58L300.29 192.48M294.59 200.38L290.19 203.88M296.59 200.38L300.09 203.88M295.79 187.48L295.79 188.98" class="l"/><path d="M295.79 188.58C297.09 188.58 299.04 191.11 299.04 194.2C299.04 197.54 297.74 200.28 295.79 200.28C293.84 200.28 292.54 197.54 292.54 194.2C292.54 191.11 294.49 188.58 295.79 188.58Z" fill="#dadada" class="o"/><ellipse cx="295.59" cy="184.88" rx="2.8" ry="2.3" fill="#ffffff" class="h"/>
<path d="M306.9 189.58L302.26 192.88M309.82 189.58L312.86 192.48M307.16 200.38L302.76 203.88M309.16 200.38L312.66 203.88M308.36 187.48L308.36 188.98" class="l"/><path d="M308.36 188.58C309.66 188.58 311.61 191.11 311.61 194.2C311.61 197.54 310.31 200.28 308.36 200.28C306.41 200.28 305.11 197.54 305.11 194.2C305.11 191.11 307.06 188.58 308.36 188.58Z" fill="#dadada" class="o"/><ellipse cx="308.16" cy="184.88" rx="2.8" ry="2.3" fill="#ffffff" class="h"/>
<path d="M194.13 213.64L189.49 216.94M197.05 213.64L200.09 216.54M194.39 224.44L189.99 227.94M196.39 224.44L199.89 227.94M195.59 211.54L195.59 213.04" class="l"/><path d="M195.59 212.64C196.89 212.64 198.84 215.17 198.84 218.26C198.84 221.6 197.54 224.34 195.59 224.34C193.64 224.34 192.34 221.6 192.34 218.26C192.34 215.17 194.29 212.64 195.59 212.64Z" fill="#dadada" class="o"/><ellipse cx="195.39" cy="208.94" rx="2.8" ry="2.3" fill="#ffffff" class="h"/>
<path d="M206.7 213.64L202.06 216.94M209.62 213.64L212.66 216.54M206.96 224.44L202.56 227.94M208.96 224.44L212.46 227.94M208.16 211.54L208.16 213.04" class="l"/><path d="M208.16 212.64C209.46 212.64 211.41 215.17 211.41 218.26C211.41 221.6 210.11 224.34 208.16 224.34C206.21 224.34 204.91 221.6 204.91 218.26C204.91 215.17 206.86 212.64 208.16 212.64Z" fill="#dadada" class="o"/><ellipse cx="207.96" cy="208.94" rx="2.8" ry="2.3" fill="#ffffff" class="h"/>
<path d="M219.27 213.64L214.63 216.94M222.19 213.64L225.23 216.54M219.53 224.44L215.13 227.94M221.53 224.44L225.03 227.94M220.73 211.54L220.73 213.04" class="l"/><path d="M220.73 212.64C222.03 212.64 223.98 215.17 223.98 218.26C223.98 221.6 222.68 224.34 220.73 224.34C218.78 224.34 217.48 221.6 217.48 218.26C217.48 215.17 219.43 212.64 220.73 212.64Z" fill="#dadada" class="o"/><ellipse cx="220.53" cy="208.94" rx="2.8" ry="2.3" fill="#ffffff" class="h"/>
<path d="M231.84 213.64L227.2 216.94M234.76 213.64L237.8 216.54M232.1 224.44L227.7 227.94M234.1 224.44L237.6 227.94M233.3 211.54L233.3 213.04" class="l"/><path d="M233.3 212.64C234.6 212.64 236.55 215.17 236.55 218.26C236.55 221.6 235.25 224.34 233.3 224.34C231.35 224.34 230.05 221.6 230.05 218.26C230.05 215.17 232 212.64 233.3 212.64Z" fill="#dadada" class="o"/><ellipse cx="233.1" cy="208.94" rx="2.8" ry="2.3" fill="#ffffff" class="h"/>
<path d="M244.41 213.64L239.77 216.94M247.33 213.64L250.37 216.54M244.67 224.44L240.27 227.94M246.67 224.44L250.17 227.94M245.87 211.54L245.87 213.04" class="l"/><path d="M245.87 212.64C247.17 212.64 249.12 215.17 249.12 218.26C249.12 221.6 247.82 224.34 245.87 224.34C243.92 224.34 242.62 221.6 242.62 218.26C242.62 215.17 244.57 212.64 245.87 212.64Z" fill="#dadada" class="o"/><ellipse cx="245.67" cy="208.94" rx="2.8" ry="2.3" fill="#ffffff" class="h"/>
<path d="M256.98 213.64L252.34 216.94M259.9 213.64L262.94 216.54M257.24 224.44L252.84 227.94M259.24 224.44L262.74 227.94M258.44 211.54L258.44 213.04" class="l"/><path d="M258.44 212.64C259.74 212.64 261.69 215.17 261.69 218.26C261.69 221.6 260.39 224.34 258.44 224.34C256.49 224.34 255.19 221.6 255.19 218.26C255.19 215.17 257.14 212.64 258.44 212.64Z" fill="#dadada" class="o"/><ellipse cx="258.24" cy="208.94" rx="2.8" ry="2.3" fill="#ffffff" class="h"/>
<path d="M269.55 213.64L264.91 216.94M272.47 213.64L275.51 216.54M269.81 224.44L265.41 227.94M271.81 224.44L275.31 227.94M271.01 211.54L271.01 213.04" class="l"/><path d="M271.01 212.64C272.31 212.64 274.26 215.17 274.26 218.26C274.26 221.6 272.96 224.34 271.01 224.34C269.06 224.34 267.76 221.6 267.76 218.26C267.76 215.17 269.71 212.64 271.01 212.64Z" fill="#dadada" class="o"/><ellipse cx="270.81" cy="208.94" rx="2.8" ry="2.3" fill="#ffffff" class="h"/>
<path d="M282.12 213.64L277.48 216.94M285.04 213.64L288.08 216.54M282.38 224.44L277.98 227.94M284.38 224.44L287.88 227.94M283.58 211.54L283.58 213.04" class="l"/><path d="M283.58 212.64C284.88 212.64 286.83 215.17 286.83 218.26C286.83 221.6 285.53 224.34 283.58 224.34C281.63 224.34 280.33 221.6 280.33 218.26C280.33 215.17 282.28 212.64 283.58 212.64Z" fill="#dadada" class="o"/><ellipse cx="283.38" cy="208.94" rx="2.8" ry="2.3" fill="#ffffff" class="h"/>
<path d="M294.69 213.64L290.05 216.94M297.61 213.64L300.65 216.54M294.95 224.44L290.55 227.94M296.95 224.44L300.45 227.94M296.15 211.54L296.15 213.04" class="l"/><path d="M296.15 212.64C297.45 212.64 299.4 215.17 299.4 218.26C299.4 221.6 298.1 224.34 296.15 224.34C294.2 224.34 292.9 221.6 292.9 218.26C292.9 215.17 294.85 212.64 296.15 212.64Z" fill="#dadada" class="o"/><ellipse cx="295.95" cy="208.94" rx="2.8" ry="2.3" fill="#ffffff" class="h"/>
<path d="M307.26 213.64L302.62 216.94M310.18 213.64L313.22 216.54M307.52 224.44L303.12 227.94M309.52 224.44L313.02 227.94M308.72 211.54L308.72 213.04" class="l"/><path d="M308.72 212.64C310.02 212.64 311.97 215.17 311.97 218.26C311.97 221.6 310.67 224.34 308.72 224.34C306.77 224.34 305.47 221.6 305.47 218.26C305.47 215.17 307.42 212.64 308.72 212.64Z" fill="#dadada" class="o"/><ellipse cx="308.52" cy="208.94" rx="2.8" ry="2.3" fill="#ffffff" class="h"/>
<path d="M194.49 237.7L189.85 241M197.41 237.7L200.45 240.6M194.75 248.5L190.35 252M196.75 248.5L200.25 252M195.95 235.6L195.95 237.1" class="l"/><path d="M195.95 236.7C197.25 236.7 199.2 239.23 199.2 242.32C199.2 245.66 197.9 248.4 195.95 248.4C194 248.4 192.7 245.66 192.7 242.32C192.7 239.23 194.65 236.7 195.95 236.7Z" fill="#dadada" class="o"/><ellipse cx="195.75" cy="233" rx="2.8" ry="2.3" fill="#ffffff" class="h"/>
<path d="M207.06 237.7L202.42 241M209.98 237.7L213.02 240.6M207.32 248.5L202.92 252M209.32 248.5L212.82 252M208.52 235.6L208.52 237.1" class="l"/><path d="M208.52 236.7C209.82 236.7 211.77 239.23 211.77 242.32C211.77 245.66 210.47 248.4 208.52 248.4C206.57 248.4 205.27 245.66 205.27 242.32C205.27 239.23 207.22 236.7 208.52 236.7Z" fill="#dadada" class="o"/><ellipse cx="208.32" cy="233" rx="2.8" ry="2.3" fill="#ffffff" class="h"/>
<path d="M219.63 237.7L214.99 241M222.55 237.7L225.59 240.6M219.89 248.5L215.49 252M221.89 248.5L225.39 252M221.09 235.6L221.09 237.1" class="l"/><path d="M221.09 236.7C222.39 236.7 224.34 239.23 224.34 242.32C224.34 245.66 223.04 248.4 221.09 248.4C219.14 248.4 217.84 245.66 217.84 242.32C217.84 239.23 219.79 236.7 221.09 236.7Z" fill="#dadada" class="o"/><ellipse cx="220.89" cy="233" rx="2.8" ry="2.3" fill="#ffffff" class="h"/>
<path d="M232.2 237.7L227.56 241M235.12 237.7L238.16 240.6M232.46 248.5L228.06 252M234.46 248.5L237.96 252M233.66 235.6L233.66 237.1" class="l"/><path d="M233.66 236.7C234.96 236.7 236.91 239.23 236.91 242.32C236.91 245.66 235.61 248.4 233.66 248.4C231.71 248.4 230.41 245.66 230.41 242.32C230.41 239.23 232.36 236.7 233.66 236.7Z" fill="#dadada" class="o"/><ellipse cx="233.46" cy="233" rx="2.8" ry="2.3" fill="#ffffff" class="h"/>
<path d="M244.77 237.7L240.13 241M247.69 237.7L250.73 240.6M245.03 248.5L240.63 252M247.03 248.5L250.53 252M246.23 235.6L246.23 237.1" class="l"/><path d="M246.23 236.7C247.53 236.7 249.48 239.23 249.48 242.32C249.48 245.66 248.18 248.4 246.23 248.4C244.28 248.4 242.98 245.66 242.98 242.32C242.98 239.23 244.93 236.7 246.23 236.7Z" fill="#dadada" class="o"/><ellipse cx="246.03" cy="233" rx="2.8" ry="2.3" fill="#ffffff" class="h"/>
<path d="M257.34 237.7L252.7 241M260.26 237.7L263.3 240.6M257.6 248.5L253.2 252M259.6 248.5L263.1 252M258.8 235.6L258.8 237.1" class="l"/><path d="M258.8 236.7C260.1 236.7 262.05 239.23 262.05 242.32C262.05 245.66 260.75 248.4 258.8 248.4C256.85 248.4 255.55 245.66 255.55 242.32C255.55 239.23 257.5 236.7 258.8 236.7Z" fill="#dadada" class="o"/><ellipse cx="258.6" cy="233" rx="2.8" ry="2.3" fill="#ffffff" class="h"/>
<path d="M269.91 237.7L265.27 241M272.83 237.7L275.87 240.6M270.17 248.5L265.77 252M272.17 248.5L275.67 252M271.37 235.6L271.37 237.1" class="l"/><path d="M271.37 236.7C272.67 236.7 274.62 239.23 274.62 242.32C274.62 245.66 273.32 248.4 271.37 248.4C269.42 248.4 268.12 245.66 268.12 242.32C268.12 239.23 270.07 236.7 271.37 236.7Z" fill="#dadada" class="o"/><ellipse cx="271.17" cy="233" rx="2.8" ry="2.3" fill="#ffffff" class="h"/>
<path d="M282.48 237.7L277.84 241M285.4 237.7L288.44 240.6M282.74 248.5L278.34 252M284.74 248.5L288.24 252M283.94 235.6L283.94 237.1" class="l"/><path d="M283.94 236.7C285.24 236.7 287.19 239.23 287.19 242.32C287.19 245.66 285.89 248.4 283.94 248.4C281.99 248.4 280.69 245.66 280.69 242.32C280.69 239.23 282.64 236.7 283.94 236.7Z" fill="#dadada" class="o"/><ellipse cx="283.74" cy="233" rx="2.8" ry="2.3" fill="#ffffff" class="h"/>
<path d="M295.05 237.7L290.41 241M297.97 237.7L301.01 240.6M295.31 248.5L290.91 252M297.31 248.5L300.81 252M296.51 235.6L296.51 237.1" class="l"/><path d="M296.51 236.7C297.81 236.7 299.76 239.23 299.76 242.32C299.76 245.66 298.46 248.4 296.51 248.4C294.56 248.4 293.26 245.66 293.26 242.32C293.26 239.23 295.21 236.7 296.51 236.7Z" fill="#dadada" class="o"/><ellipse cx="296.31" cy="233" rx="2.8" ry="2.3" fill="#ffffff" class="h"/>
<path d="M307.62 237.7L302.98 241M310.54 237.7L313.58 240.6M307.88 248.5L303.48 252M309.88 248.5L313.38 252M309.08 235.6L309.08 237.1" class="l"/><path d="M309.08 236.7C310.38 236.7 312.33 239.23 312.33 242.32C312.33 245.66 311.03 248.4 309.08 248.4C307.13 248.4 305.83 245.66 305.83 242.32C305.83 239.23 307.78 236.7 309.08 236.7Z" fill="#dadada" class="o"/><ellipse cx="308.88" cy="233" rx="2.8" ry="2.3" fill="#ffffff" class="h"/>
<path d="M194.85 261.76L190.21 265.06M197.77 261.76L200.81 264.66M195.11 272.56L190.71 276.06M197.11 272.56L200.61 276.06M196.31 259.66L196.31 261.16" class="l"/><path d="M196.31 260.76C197.61 260.76 199.56 263.29 199.56 266.38C199.56 269.72 198.26 272.46 196.31 272.46C194.36 272.46 193.06 269.72 193.06 266.38C193.06 263.29 195.01 260.76 196.31 260.76Z" fill="#dadada" class="o"/><ellipse cx="196.11" cy="257.06" rx="2.8" ry="2.3" fill="#ffffff" class="h"/>
<path d="M207.42 261.76L202.78 265.06M210.34 261.76L213.38 264.66M207.68 272.56L203.28 276.06M209.68 272.56L213.18 276.06M208.88 259.66L208.88 261.16" class="l"/><path d="M208.88 260.76C210.18 260.76 212.13 263.29 212.13 266.38C212.13 269.72 210.83 272.46 208.88 272.46C206.93 272.46 205.63 269.72 205.63 266.38C205.63 263.29 207.58 260.76 208.88 260.76Z" fill="#dadada" class="o"/><ellipse cx="208.68" cy="257.06" rx="2.8" ry="2.3" fill="#ffffff" class="h"/>
<path d="M219.99 261.76L215.35 265.06M222.91 261.76L225.95 264.66M220.25 272.56L215.85 276.06M222.25 272.56L225.75 276.06M221.45 259.66L221.45 261.16" class="l"/><path d="M221.45 260.76C222.75 260.76 224.7 263.29 224.7 266.38C224.7 269.72 223.4 272.46 221.45 272.46C219.5 272.46 218.2 269.72 218.2 266.38C218.2 263.29 220.15 260.76 221.45 260.76Z" fill="#dadada" class="o"/><ellipse cx="221.25" cy="257.06" rx="2.8" ry="2.3" fill="#ffffff" class="h"/>
<path d="M232.56 261.76L227.92 265.06M235.48 261.76L238.52 264.66M232.82 272.56L228.42 276.06M234.82 272.56L238.32 276.06M234.02 259.66L234.02 261.16" class="l"/><path d="M234.02 260.76C235.32 260.76 237.27 263.29 237.27 266.38C237.27 269.72 235.97 272.46 234.02 272.46C232.07 272.46 230.77 269.72 230.77 266.38C230.77 263.29 232.72 260.76 234.02 260.76Z" fill="#dadada" class="o"/><ellipse cx="233.82" cy="257.06" rx="2.8" ry="2.3" fill="#ffffff" class="h"/>
<path d="M245.13 261.76L240.49 265.06M248.05 261.76L251.09 264.66M245.39 272.56L240.99 276.06M247.39 272.56L250.89 276.06M246.59 259.66L246.59 261.16" class="l"/><path d="M246.59 260.76C247.89 260.76 249.84 263.29 249.84 266.38C249.84 269.72 248.54 272.46 246.59 272.46C244.64 272.46 243.34 269.72 243.34 266.38C243.34 263.29 245.29 260.76 246.59 260.76Z" fill="#dadada" class="o"/><ellipse cx="246.39" cy="257.06" rx="2.8" ry="2.3" fill="#ffffff" class="h"/>
<path d="M257.7 261.76L253.06 265.06M260.62 261.76L263.66 264.66M257.96 272.56L253.56 276.06M259.96 272.56L263.46 276.06M259.16 259.66L259.16 261.16" class="l"/><path d="M259.16 260.76C260.46 260.76 262.41 263.29 262.41 266.38C262.41 269.72 261.11 272.46 259.16 272.46C257.21 272.46 255.91 269.72 255.91 266.38C255.91 263.29 257.86 260.76 259.16 260.76Z" fill="#dadada" class="o"/><ellipse cx="258.96" cy="257.06" rx="2.8" ry="2.3" fill="#ffffff" class="h"/>
<path d="M270.27 261.76L265.63 265.06M273.19 261.76L276.23 264.66M270.53 272.56L266.13 276.06M272.53 272.56L276.03 276.06M271.73 259.66L271.73 261.16" class="l"/><path d="M271.73 260.76C273.03 260.76 274.98 263.29 274.98 266.38C274.98 269.72 273.68 272.46 271.73 272.46C269.78 272.46 268.48 269.72 268.48 266.38C268.48 263.29 270.43 260.76 271.73 260.76Z" fill="#dadada" class="o"/><ellipse cx="271.53" cy="257.06" rx="2.8" ry="2.3" fill="#ffffff" class="h"/>
<path d="M282.84 261.76L278.2 265.06M285.76 261.76L288.8 264.66M283.1 272.56L278.7 276.06M285.1 272.56L288.6 276.06M284.3 259.66L284.3 261.16" class="l"/><path d="M284.3 260.76C285.6 260.76 287.55 263.29 287.55 266.38C287.55 269.72 286.25 272.46 284.3 272.46C282.35 272.46 281.05 269.72 281.05 266.38C281.05 263.29 283 260.76 284.3 260.76Z" fill="#dadada" class="o"/><ellipse cx="284.1" cy="257.06" rx="2.8" ry="2.3" fill="#ffffff" class="h"/>
<path d="M295.41 261.76L290.77 265.06M298.33 261.76L301.37 264.66M295.67 272.56L291.27 276.06M297.67 272.56L301.17 276.06M296.87 259.66L296.87 261.16" class="l"/><path d="M296.87 260.76C298.17 260.76 300.12 263.29 300.12 266.38C300.12 269.72 298.82 272.46 296.87 272.46C294.92 272.46 293.62 269.72 293.62 266.38C293.62 263.29 295.57 260.76 296.87 260.76Z" fill="#dadada" class="o"/><ellipse cx="296.67" cy="257.06" rx="2.8" ry="2.3" fill="#ffffff" class="h"/>
<path d="M307.98 261.76L303.34 265.06M310.9 261.76L313.94 264.66M308.24 272.56L303.84 276.06M310.24 272.56L313.74 276.06M309.44 259.66L309.44 261.16" class="l"/><path d="M309.44 260.76C310.74 260.76 312.69 263.29 312.69 266.38C312.69 269.72 311.39 272.46 309.44 272.46C307.49 272.46 306.19 269.72 306.19 266.38C306.19 263.29 308.14 260.76 309.44 260.76Z" fill="#dadada" class="o"/><ellipse cx="309.24" cy="257.06" rx="2.8" ry="2.3" fill="#ffffff" class="h"/>
<path d="M195.21 285.82L190.57 289.12M198.13 285.82L201.17 288.72M195.47 296.62L191.07 300.12M197.47 296.62L200.97 300.12M196.67 283.72L196.67 285.22" class="l"/><path d="M196.67 284.82C197.97 284.82 199.92 287.35 199.92 290.44C199.92 293.78 198.62 296.52 196.67 296.52C194.72 296.52 193.42 293.78 193.42 290.44C193.42 287.35 195.37 284.82 196.67 284.82Z" fill="#dadada" class="o"/><ellipse cx="196.47" cy="281.12" rx="2.8" ry="2.3" fill="#ffffff" class="h"/>
<path d="M207.78 285.82L203.14 289.12M210.7 285.82L213.74 288.72M208.04 296.62L203.64 300.12M210.04 296.62L213.54 300.12M209.24 283.72L209.24 285.22" class="l"/><path d="M209.24 284.82C210.54 284.82 212.49 287.35 212.49 290.44C212.49 293.78 211.19 296.52 209.24 296.52C207.29 296.52 205.99 293.78 205.99 290.44C205.99 287.35 207.94 284.82 209.24 284.82Z" fill="#dadada" class="o"/><ellipse cx="209.04" cy="281.12" rx="2.8" ry="2.3" fill="#ffffff" class="h"/>
<path d="M220.35 285.82L215.71 289.12M223.27 285.82L226.31 288.72M220.61 296.62L216.21 300.12M222.61 296.62L226.11 300.12M221.81 283.72L221.81 285.22" class="l"/><path d="M221.81 284.82C223.11 284.82 225.06 287.35 225.06 290.44C225.06 293.78 223.76 296.52 221.81 296.52C219.86 296.52 218.56 293.78 218.56 290.44C218.56 287.35 220.51 284.82 221.81 284.82Z" fill="#dadada" class="o"/><ellipse cx="221.61" cy="281.12" rx="2.8" ry="2.3" fill="#ffffff" class="h"/>
<path d="M232.92 285.82L228.28 289.12M235.84 285.82L238.88 288.72M233.18 296.62L228.78 300.12M235.18 296.62L238.68 300.12M234.38 283.72L234.38 285.22" class="l"/><path d="M234.38 284.82C235.68 284.82 237.63 287.35 237.63 290.44C237.63 293.78 236.33 296.52 234.38 296.52C232.43 296.52 231.13 293.78 231.13 290.44C231.13 287.35 233.08 284.82 234.38 284.82Z" fill="#dadada" class="o"/><ellipse cx="234.18" cy="281.12" rx="2.8" ry="2.3" fill="#ffffff" class="h"/>
<path d="M245.49 285.82L240.85 289.12M248.41 285.82L251.45 288.72M245.75 296.62L241.35 300.12M247.75 296.62L251.25 300.12M246.95 283.72L246.95 285.22" class="l"/><path d="M246.95 284.82C248.25 284.82 250.2 287.35 250.2 290.44C250.2 293.78 248.9 296.52 246.95 296.52C245 296.52 243.7 293.78 243.7 290.44C243.7 287.35 245.65 284.82 246.95 284.82Z" fill="#dadada" class="o"/><ellipse cx="246.75" cy="281.12" rx="2.8" ry="2.3" fill="#ffffff" class="h"/>
<path d="M258.06 285.82L253.42 289.12M260.98 285.82L264.02 288.72M258.32 296.62L253.92 300.12M260.32 296.62L263.82 300.12M259.52 283.72L259.52 285.22" class="l"/><path d="M259.52 284.82C260.82 284.82 262.77 287.35 262.77 290.44C262.77 293.78 261.47 296.52 259.52 296.52C257.57 296.52 256.27 293.78 256.27 290.44C256.27 287.35 258.22 284.82 259.52 284.82Z" fill="#f2e640" class="o"/><ellipse cx="259.32" cy="281.12" rx="2.8" ry="2.3" fill="#e8e4f4" class="h"/>
<path d="M270.63 285.82L265.99 289.12M273.55 285.82L276.59 288.72M270.89 296.62L266.49 300.12M272.89 296.62L276.39 300.12M272.09 283.72L272.09 285.22" class="l"/><path d="M272.09 284.82C273.39 284.82 275.34 287.35 275.34 290.44C275.34 293.78 274.04 296.52 272.09 296.52C270.14 296.52 268.84 293.78 268.84 290.44C268.84 287.35 270.79 284.82 272.09 284.82Z" fill="#f2e640" class="o"/><ellipse cx="271.89" cy="281.12" rx="2.8" ry="2.3" fill="#e8e4f4" class="h"/>
<path d="M283.2 285.82L278.56 289.12M286.12 285.82L289.16 288.72M283.46 296.62L279.06 300.12M285.46 296.62L288.96 300.12M284.66 283.72L284.66 285.22" class="l"/><path d="M284.66 284.82C285.96 284.82 287.91 287.35 287.91 290.44C287.91 293.78 286.61 296.52 284.66 296.52C282.71 296.52 281.41 293.78 281.41 290.44C281.41 287.35 283.36 284.82 284.66 284.82Z" fill="#f2e640" class="o"/><ellipse cx="284.46" cy="281.12" rx="2.8" ry="2.3" fill="#e8e4f4" class="h"/>
<path d="M295.77 285.82L291.13 289.12M298.69 285.82L301.73 288.72M296.03 296.62L291.63 300.12M298.03 296.62L301.53 300.12M297.23 283.72L297.23 285.22" class="l"/><path d="M297.23 284.82C298.53 284.82 300.48 287.35 300.48 290.44C300.48 293.78 299.18 296.52 297.23 296.52C295.28 296.52 293.98 293.78 293.98 290.44C293.98 287.35 295.93 284.82 297.23 284.82Z" fill="#f2e640" class="o"/><ellipse cx="297.03" cy="281.12" rx="2.8" ry="2.3" fill="#e8e4f4" class="h"/>
<path d="M308.34 285.82L303.7 289.12M311.26 285.82L314.3 288.72M308.6 296.62L304.2 300.12M310.6 296.62L314.1 300.12M309.8 283.72L309.8 285.22" class="l"/><path d="M309.8 284.82C311.1 284.82 313.05 287.35 313.05 290.44C313.05 293.78 311.75 296.52 309.8 296.52C307.85 296.52 306.55 293.78 306.55 290.44C306.55 287.35 308.5 284.82 309.8 284.82Z" fill="#f2e640" class="o"/><ellipse cx="309.6" cy="281.12" rx="2.8" ry="2.3" fill="#e8e4f4" class="h"/>
<path d="M195.57 309.88L190.93 313.18M198.49 309.88L201.53 312.78M195.83 320.68L191.43 324.18M197.83 320.68L201.33 324.18M197.03 307.78L197.03 309.28" class="l"/><path d="M197.03 308.88C198.33 308.88 200.28 311.41 200.28 314.5C200.28 317.84 198.98 320.58 197.03 320.58C195.08 320.58 193.78 317.84 193.78 314.5C193.78 311.41 195.73 308.88 197.03 308.88Z" fill="#f2e640" class="o"/><ellipse cx="196.83" cy="305.18" rx="2.8" ry="2.3" fill="#e8e4f4" class="h"/>
<path d="M208.14 309.88L203.5 313.18M211.06 309.88L214.1 312.78M208.4 320.68L204 324.18M210.4 320.68L213.9 324.18M209.6 307.78L209.6 309.28" class="l"/><path d="M209.6 308.88C210.9 308.88 212.85 311.41 212.85 314.5C212.85 317.84 211.55 320.58 209.6 320.58C207.65 320.58 206.35 317.84 206.35 314.5C206.35 311.41 208.3 308.88 209.6 308.88Z" fill="#f2e640" class="o"/><ellipse cx="209.4" cy="305.18" rx="2.8" ry="2.3" fill="#e8e4f4" class="h"/>
<path d="M220.71 309.88L216.07 313.18M223.63 309.88L226.67 312.78M220.97 320.68L216.57 324.18M222.97 320.68L226.47 324.18M222.17 307.78L222.17 309.28" class="l"/><path d="M222.17 308.88C223.47 308.88 225.42 311.41 225.42 314.5C225.42 317.84 224.12 320.58 222.17 320.58C220.22 320.58 218.92 317.84 218.92 314.5C218.92 311.41 220.87 308.88 222.17 308.88Z" fill="#f2e640" class="o"/><ellipse cx="221.97" cy="305.18" rx="2.8" ry="2.3" fill="#e8e4f4" class="h"/>
<path d="M233.28 309.88L228.64 313.18M236.2 309.88L239.24 312.78M233.54 320.68L229.14 324.18M235.54 320.68L239.04 324.18M234.74 307.78L234.74 309.28" class="l"/><path d="M234.74 308.88C236.04 308.88 237.99 311.41 237.99 314.5C237.99 317.84 236.69 320.58 234.74 320.58C232.79 320.58 231.49 317.84 231.49 314.5C231.49 311.41 233.44 308.88 234.74 308.88Z" fill="#f2e640" class="o"/><ellipse cx="234.54" cy="305.18" rx="2.8" ry="2.3" fill="#e8e4f4" class="h"/>
<path d="M245.85 309.88L241.21 313.18M248.77 309.88L251.81 312.78M246.11 320.68L241.71 324.18M248.11 320.68L251.61 324.18M247.31 307.78L247.31 309.28" class="l"/><path d="M247.31 308.88C248.61 308.88 250.56 311.41 250.56 314.5C250.56 317.84 249.26 320.58 247.31 320.58C245.36 320.58 244.06 317.84 244.06 314.5C244.06 311.41 246.01 308.88 247.31 308.88Z" fill="#f2e640" class="o"/><ellipse cx="247.11" cy="305.18" rx="2.8" ry="2.3" fill="#e8e4f4" class="h"/>
<path d="M258.42 309.88L253.78 313.18M261.34 309.88L264.38 312.78M258.68 320.68L254.28 324.18M260.68 320.68L264.18 324.18M259.88 307.78L259.88 309.28" class="l"/><path d="M259.88 308.88C261.18 308.88 263.13 311.41 263.13 314.5C263.13 317.84 261.83 320.58 259.88 320.58C257.93 320.58 256.63 317.84 256.63 314.5C256.63 311.41 258.58 308.88 259.88 308.88Z" fill="#f2e640" class="o"/><ellipse cx="259.68" cy="305.18" rx="2.8" ry="2.3" fill="#e8e4f4" class="h"/>
<path d="M270.99 309.88L266.35 313.18M273.91 309.88L276.95 312.78M271.25 320.68L266.85 324.18M273.25 320.68L276.75 324.18M272.45 307.78L272.45 309.28" class="l"/><path d="M272.45 308.88C273.75 308.88 275.7 311.41 275.7 314.5C275.7 317.84 274.4 320.58 272.45 320.58C270.5 320.58 269.2 317.84 269.2 314.5C269.2 311.41 271.15 308.88 272.45 308.88Z" fill="#f2e640" class="o"/><ellipse cx="272.25" cy="305.18" rx="2.8" ry="2.3" fill="#e8e4f4" class="h"/>
<path d="M283.56 309.88L278.92 313.18M286.48 309.88L289.52 312.78M283.82 320.68L279.42 324.18M285.82 320.68L289.32 324.18M285.02 307.78L285.02 309.28" class="l"/><path d="M285.02 308.88C286.32 308.88 288.27 311.41 288.27 314.5C288.27 317.84 286.97 320.58 285.02 320.58C283.07 320.58 281.77 317.84 281.77 314.5C281.77 311.41 283.72 308.88 285.02 308.88Z" fill="#f2e640" class="o"/><ellipse cx="284.82" cy="305.18" rx="2.8" ry="2.3" fill="#e8e4f4" class="h"/>
<path d="M296.13 309.88L291.49 313.18M299.05 309.88L302.09 312.78M296.39 320.68L291.99 324.18M298.39 320.68L301.89 324.18M297.59 307.78L297.59 309.28" class="l"/><path d="M297.59 308.88C298.89 308.88 300.84 311.41 300.84 314.5C300.84 317.84 299.54 320.58 297.59 320.58C295.64 320.58 294.34 317.84 294.34 314.5C294.34 311.41 296.29 308.88 297.59 308.88Z" fill="#f2e640" class="o"/><ellipse cx="297.39" cy="305.18" rx="2.8" ry="2.3" fill="#e8e4f4" class="h"/>
<path d="M308.7 309.88L304.06 313.18M311.62 309.88L314.66 312.78M308.96 320.68L304.56 324.18M310.96 320.68L314.46 324.18M310.16 307.78L310.16 309.28" class="l"/><path d="M310.16 308.88C311.46 308.88 313.41 311.41 313.41 314.5C313.41 317.84 312.11 320.58 310.16 320.58C308.21 320.58 306.91 317.84 306.91 314.5C306.91 311.41 308.86 308.88 310.16 308.88Z" fill="#f2e640" class="o"/><ellipse cx="309.96" cy="305.18" rx="2.8" ry="2.3" fill="#e8e4f4" class="h"/>
<path d="M195.93 333.94L191.29 337.24M198.85 333.94L201.89 336.84M196.19 344.74L191.79 348.24M198.19 344.74L201.69 348.24M197.39 331.84L197.39 333.34" class="l"/><path d="M197.39 332.94C198.69 332.94 200.64 335.47 200.64 338.56C200.64 341.9 199.34 344.64 197.39 344.64C195.44 344.64 194.14 341.9 194.14 338.56C194.14 335.47 196.09 332.94 197.39 332.94Z" fill="#f2e640" class="o"/><ellipse cx="197.19" cy="329.24" rx="2.8" ry="2.3" fill="#e8e4f4" class="h"/>
<path d="M208.5 333.94L203.86 337.24M211.42 333.94L214.46 336.84M208.76 344.74L204.36 348.24M210.76 344.74L214.26 348.24M209.96 331.84L209.96 333.34" class="l"/><path d="M209.96 332.94C211.26 332.94 213.21 335.47 213.21 338.56C213.21 341.9 211.91 344.64 209.96 344.64C208.01 344.64 206.71 341.9 206.71 338.56C206.71 335.47 208.66 332.94 209.96 332.94Z" fill="#f2e640" class="o"/><ellipse cx="209.76" cy="329.24" rx="2.8" ry="2.3" fill="#e8e4f4" class="h"/>
<path d="M221.07 333.94L216.43 337.24M223.99 333.94L227.03 336.84M221.33 344.74L216.93 348.24M223.33 344.74L226.83 348.24M222.53 331.84L222.53 333.34" class="l"/><path d="M222.53 332.94C223.83 332.94 225.78 335.47 225.78 338.56C225.78 341.9 224.48 344.64 222.53 344.64C220.58 344.64 219.28 341.9 219.28 338.56C219.28 335.47 221.23 332.94 222.53 332.94Z" fill="#f2e640" class="o"/><ellipse cx="222.33" cy="329.24" rx="2.8" ry="2.3" fill="#e8e4f4" class="h"/>
<path d="M233.64 333.94L229 337.24M236.56 333.94L239.6 336.84M233.9 344.74L229.5 348.24M235.9 344.74L239.4 348.24M235.1 331.84L235.1 333.34" class="l"/><path d="M235.1 332.94C236.4 332.94 238.35 335.47 238.35 338.56C238.35 341.9 237.05 344.64 235.1 344.64C233.15 344.64 231.85 341.9 231.85 338.56C231.85 335.47 233.8 332.94 235.1 332.94Z" fill="#f2e640" class="o"/><ellipse cx="234.9" cy="329.24" rx="2.8" ry="2.3" fill="#e8e4f4" class="h"/>
<path d="M246.21 333.94L241.57 337.24M249.13 333.94L252.17 336.84M246.47 344.74L242.07 348.24M248.47 344.74L251.97 348.24M247.67 331.84L247.67 333.34" class="l"/><path d="M247.67 332.94C248.97 332.94 250.92 335.47 250.92 338.56C250.92 341.9 249.62 344.64 247.67 344.64C245.72 344.64 244.42 341.9 244.42 338.56C244.42 335.47 246.37 332.94 247.67 332.94Z" fill="#f2e640" class="o"/><ellipse cx="247.47" cy="329.24" rx="2.8" ry="2.3" fill="#e8e4f4" class="h"/>
<path d="M258.78 333.94L254.14 337.24M261.7 333.94L264.74 336.84M259.04 344.74L254.64 348.24M261.04 344.74L264.54 348.24M260.24 331.84L260.24 333.34" class="l"/><path d="M260.24 332.94C261.54 332.94 263.49 335.47 263.49 338.56C263.49 341.9 262.19 344.64 260.24 344.64C258.29 344.64 256.99 341.9 256.99 338.56C256.99 335.47 258.94 332.94 260.24 332.94Z" fill="#f2e640" class="o"/><ellipse cx="260.04" cy="329.24" rx="2.8" ry="2.3" fill="#e8e4f4" class="h"/>
<path d="M271.35 333.94L266.71 337.24M274.27 333.94L277.31 336.84M271.61 344.74L267.21 348.24M273.61 344.74L277.11 348.24M272.81 331.84L272.81 333.34" class="l"/><path d="M272.81 332.94C274.11 332.94 276.06 335.47 276.06 338.56C276.06 341.9 274.76 344.64 272.81 344.64C270.86 344.64 269.56 341.9 269.56 338.56C269.56 335.47 271.51 332.94 272.81 332.94Z" fill="#f2e640" class="o"/><ellipse cx="272.61" cy="329.24" rx="2.8" ry="2.3" fill="#e8e4f4" class="h"/>
<path d="M283.92 333.94L279.28 337.24M286.84 333.94L289.88 336.84M284.18 344.74L279.78 348.24M286.18 344.74L289.68 348.24M285.38 331.84L285.38 333.34" class="l"/><path d="M285.38 332.94C286.68 332.94 288.63 335.47 288.63 338.56C288.63 341.9 287.33 344.64 285.38 344.64C283.43 344.64 282.13 341.9 282.13 338.56C282.13 335.47 284.08 332.94 285.38 332.94Z" fill="#f2e640" class="o"/><ellipse cx="285.18" cy="329.24" rx="2.8" ry="2.3" fill="#e8e4f4" class="h"/>
<path d="M296.49 333.94L291.85 337.24M299.41 333.94L302.45 336.84M296.75 344.74L292.35 348.24M298.75 344.74L302.25 348.24M297.95 331.84L297.95 333.34" class="l"/><path d="M297.95 332.94C299.25 332.94 301.2 335.47 301.2 338.56C301.2 341.9 299.9 344.64 297.95 344.64C296 344.64 294.7 341.9 294.7 338.56C294.7 335.47 296.65 332.94 297.95 332.94Z" fill="#f2e640" class="o"/><ellipse cx="297.75" cy="329.24" rx="2.8" ry="2.3" fill="#e8e4f4" class="h"/>
<path d="M309.06 333.94L304.42 337.24M311.98 333.94L315.02 336.84M309.32 344.74L304.92 348.24M311.32 344.74L314.82 348.24M310.52 331.84L310.52 333.34" class="l"/><path d="M310.52 332.94C311.82 332.94 313.77 335.47 313.77 338.56C313.77 341.9 312.47 344.64 310.52 344.64C308.57 344.64 307.27 341.9 307.27 338.56C307.27 335.47 309.22 332.94 310.52 332.94Z" fill="#f2e640" class="o"/><ellipse cx="310.32" cy="329.24" rx="2.8" ry="2.3" fill="#e8e4f4" class="h"/>
<path d="M376.72 121.95L372.4 126.05M379.78 121.95L382.8 125.75M377.1 133.35L372.3 136.75M379.1 133.35L382.4 136.75M378.3 120L378.25 121.35" class="l"/><path d="M378.25 120.95C379.44 120.95 381.65 123.72 381.65 127.1C381.65 130.48 379.78 133.25 378.25 133.25C376.72 133.25 374.85 130.48 374.85 127.1C374.85 123.72 377.06 120.95 378.25 120.95Z" fill="#318755" class="o"/><ellipse cx="378.1" cy="117.65" rx="2.6" ry="2.15" fill="#ffffff" class="h"/>
<path d="M389.34 121.95L385.02 126.05M392.4 121.95L395.42 125.75M389.72 133.35L384.92 136.75M391.72 133.35L395.02 136.75M390.92 120L390.87 121.35" class="l"/><path d="M390.87 120.95C392.06 120.95 394.27 123.72 394.27 127.1C394.27 130.48 392.4 133.25 390.87 133.25C389.34 133.25 387.47 130.48 387.47 127.1C387.47 123.72 389.68 120.95 390.87 120.95Z" fill="#318755" class="o"/><ellipse cx="390.72" cy="117.65" rx="2.6" ry="2.15" fill="#ffffff" class="h"/>
<path d="M401.96 121.95L397.64 126.05M405.02 121.95L408.04 125.75M402.34 133.35L397.54 136.75M404.34 133.35L407.64 136.75M403.54 120L403.49 121.35" class="l"/><path d="M403.49 120.95C404.68 120.95 406.89 123.72 406.89 127.1C406.89 130.48 405.02 133.25 403.49 133.25C401.96 133.25 400.09 130.48 400.09 127.1C400.09 123.72 402.3 120.95 403.49 120.95Z" fill="#318755" class="o"/><ellipse cx="403.34" cy="117.65" rx="2.6" ry="2.15" fill="#ffffff" class="h"/>
<path d="M414.58 121.95L410.26 126.05M417.64 121.95L420.66 125.75M414.96 133.35L410.16 136.75M416.96 133.35L420.26 136.75M416.16 120L416.11 121.35" class="l"/><path d="M416.11 120.95C417.3 120.95 419.51 123.72 419.51 127.1C419.51 130.48 417.64 133.25 416.11 133.25C414.58 133.25 412.71 130.48 412.71 127.1C412.71 123.72 414.92 120.95 416.11 120.95Z" fill="#318755" class="o"/><ellipse cx="415.96" cy="117.65" rx="2.6" ry="2.15" fill="#ffffff" class="h"/>
<path d="M427.2 121.95L422.88 126.05M430.26 121.95L433.28 125.75M427.58 133.35L422.78 136.75M429.58 133.35L432.88 136.75M428.78 120L428.73 121.35" class="l"/><path d="M428.73 120.95C429.92 120.95 432.13 123.72 432.13 127.1C432.13 130.48 430.26 133.25 428.73 133.25C427.2 133.25 425.33 130.48 425.33 127.1C425.33 123.72 427.54 120.95 428.73 120.95Z" fill="#318755" class="o"/><ellipse cx="428.58" cy="117.65" rx="2.6" ry="2.15" fill="#ffffff" class="h"/>
<path d="M439.82 121.95L435.5 126.05M442.88 121.95L445.9 125.75M440.2 133.35L435.4 136.75M442.2 133.35L445.5 136.75M441.4 120L441.35 121.35" class="l"/><path d="M441.35 120.95C442.54 120.95 444.75 123.72 444.75 127.1C444.75 130.48 442.88 133.25 441.35 133.25C439.82 133.25 437.95 130.48 437.95 127.1C437.95 123.72 440.16 120.95 441.35 120.95Z" fill="#318755" class="o"/><ellipse cx="441.2" cy="117.65" rx="2.6" ry="2.15" fill="#ffffff" class="h"/>
<path d="M452.44 121.95L448.12 126.05M455.5 121.95L458.52 125.75M452.82 133.35L448.02 136.75M454.82 133.35L458.12 136.75M454.02 120L453.97 121.35" class="l"/><path d="M453.97 120.95C455.16 120.95 457.37 123.72 457.37 127.1C457.37 130.48 455.5 133.25 453.97 133.25C452.44 133.25 450.57 130.48 450.57 127.1C450.57 123.72 452.78 120.95 453.97 120.95Z" fill="#318755" class="o"/><ellipse cx="453.82" cy="117.65" rx="2.6" ry="2.15" fill="#ffffff" class="h"/>
<path d="M465.06 121.95L460.74 126.05M468.12 121.95L471.14 125.75M465.44 133.35L460.64 136.75M467.44 133.35L470.74 136.75M466.64 120L466.59 121.35" class="l"/><path d="M466.59 120.95C467.78 120.95 469.99 123.72 469.99 127.1C469.99 130.48 468.12 133.25 466.59 133.25C465.06 133.25 463.19 130.48 463.19 127.1C463.19 123.72 465.4 120.95 466.59 120.95Z" fill="#318755" class="o"/><ellipse cx="466.44" cy="117.65" rx="2.6" ry="2.15" fill="#ffffff" class="h"/>
<path d="M477.68 121.95L473.36 126.05M480.74 121.95L483.76 125.75M478.06 133.35L473.26 136.75M480.06 133.35L483.36 136.75M479.26 120L479.21 121.35" class="l"/><path d="M479.21 120.95C480.4 120.95 482.61 123.72 482.61 127.1C482.61 130.48 480.74 133.25 479.21 133.25C477.68 133.25 475.81 130.48 475.81 127.1C475.81 123.72 478.02 120.95 479.21 120.95Z" fill="#318755" class="o"/><ellipse cx="479.06" cy="117.65" rx="2.6" ry="2.15" fill="#ffffff" class="h"/>
<path d="M490.3 121.95L485.98 126.05M493.36 121.95L496.38 125.75M490.68 133.35L485.88 136.75M492.68 133.35L495.98 136.75M491.88 120L491.83 121.35" class="l"/><path d="M491.83 120.95C493.02 120.95 495.23 123.72 495.23 127.1C495.23 130.48 493.36 133.25 491.83 133.25C490.3 133.25 488.43 130.48 488.43 127.1C488.43 123.72 490.64 120.95 491.83 120.95Z" fill="#318755" class="o"/><ellipse cx="491.68" cy="117.65" rx="2.6" ry="2.15" fill="#ffffff" class="h"/>
<path d="M502.92 121.95L498.6 126.05M505.98 121.95L509 125.75M503.3 133.35L498.5 136.75M505.3 133.35L508.6 136.75M504.5 120L504.45 121.35" class="l"/><path d="M504.45 120.95C505.64 120.95 507.85 123.72 507.85 127.1C507.85 130.48 505.98 133.25 504.45 133.25C502.92 133.25 501.05 130.48 501.05 127.1C501.05 123.72 503.26 120.95 504.45 120.95Z" fill="#318755" class="o"/><ellipse cx="504.3" cy="117.65" rx="2.6" ry="2.15" fill="#ffffff" class="h"/>
<path d="M376.72 146.04L372.4 150.14M379.78 146.04L382.8 149.84M377.1 157.44L372.3 160.84M379.1 157.44L382.4 160.84M378.3 144.09L378.25 145.44" class="l"/><path d="M378.25 145.04C379.44 145.04 381.65 147.81 381.65 151.19C381.65 154.57 379.78 157.34 378.25 157.34C376.72 157.34 374.85 154.57 374.85 151.19C374.85 147.81 377.06 145.04 378.25 145.04Z" fill="#318755" class="o"/><ellipse cx="378.1" cy="141.74" rx="2.6" ry="2.15" fill="#ffffff" class="h"/>
<path d="M389.34 146.04L385.02 150.14M392.4 146.04L395.42 149.84M389.72 157.44L384.92 160.84M391.72 157.44L395.02 160.84M390.92 144.09L390.87 145.44" class="l"/><path d="M390.87 145.04C392.06 145.04 394.27 147.81 394.27 151.19C394.27 154.57 392.4 157.34 390.87 157.34C389.34 157.34 387.47 154.57 387.47 151.19C387.47 147.81 389.68 145.04 390.87 145.04Z" fill="#318755" class="o"/><ellipse cx="390.72" cy="141.74" rx="2.6" ry="2.15" fill="#ffffff" class="h"/>
<path d="M401.96 146.04L397.64 150.14M405.02 146.04L408.04 149.84M402.34 157.44L397.54 160.84M404.34 157.44L407.64 160.84M403.54 144.09L403.49 145.44" class="l"/><path d="M403.49 145.04C404.68 145.04 406.89 147.81 406.89 151.19C406.89 154.57 405.02 157.34 403.49 157.34C401.96 157.34 400.09 154.57 400.09 151.19C400.09 147.81 402.3 145.04 403.49 145.04Z" fill="#318755" class="o"/><ellipse cx="403.34" cy="141.74" rx="2.6" ry="2.15" fill="#ffffff" class="h"/>
<path d="M414.58 146.04L410.26 150.14M417.64 146.04L420.66 149.84M414.96 157.44L410.16 160.84M416.96 157.44L420.26 160.84M416.16 144.09L416.11 145.44" class="l"/><path d="M416.11 145.04C417.3 145.04 419.51 147.81 419.51 151.19C419.51 154.57 417.64 157.34 416.11 157.34C414.58 157.34 412.71 154.57 412.71 151.19C412.71 147.81 414.92 145.04 416.11 145.04Z" fill="#318755" class="o"/><ellipse cx="415.96" cy="141.74" rx="2.6" ry="2.15" fill="#ffffff" class="h"/>
<path d="M427.2 146.04L422.88 150.14M430.26 146.04L433.28 149.84M427.58 157.44L422.78 160.84M429.58 157.44L432.88 160.84M428.78 144.09L428.73 145.44" class="l"/><path d="M428.73 145.04C429.92 145.04 432.13 147.81 432.13 151.19C432.13 154.57 430.26 157.34 428.73 157.34C427.2 157.34 425.33 154.57 425.33 151.19C425.33 147.81 427.54 145.04 428.73 145.04Z" fill="#318755" class="o"/><ellipse cx="428.58" cy="141.74" rx="2.6" ry="2.15" fill="#ffffff" class="h"/>
<path d="M439.82 146.04L435.5 150.14M442.88 146.04L445.9 149.84M440.2 157.44L435.4 160.84M442.2 157.44L445.5 160.84M441.4 144.09L441.35 145.44" class="l"/><path d="M441.35 145.04C442.54 145.04 444.75 147.81 444.75 151.19C444.75 154.57 442.88 157.34 441.35 157.34C439.82 157.34 437.95 154.57 437.95 151.19C437.95 147.81 440.16 145.04 441.35 145.04Z" fill="#318755" class="o"/><ellipse cx="441.2" cy="141.74" rx="2.6" ry="2.15" fill="#ffffff" class="h"/>
<path d="M452.44 146.04L448.12 150.14M455.5 146.04L458.52 149.84M452.82 157.44L448.02 160.84M454.82 157.44L458.12 160.84M454.02 144.09L453.97 145.44" class="l"/><path d="M453.97 145.04C455.16 145.04 457.37 147.81 457.37 151.19C457.37 154.57 455.5 157.34 453.97 157.34C452.44 157.34 450.57 154.57 450.57 151.19C450.57 147.81 452.78 145.04 453.97 145.04Z" fill="#318755" class="o"/><ellipse cx="453.82" cy="141.74" rx="2.6" ry="2.15" fill="#ffffff" class="h"/>
<path d="M465.06 146.04L460.74 150.14M468.12 146.04L471.14 149.84M465.44 157.44L460.64 160.84M467.44 157.44L470.74 160.84M466.64 144.09L466.59 145.44" class="l"/><path d="M466.59 145.04C467.78 145.04 469.99 147.81 469.99 151.19C469.99 154.57 468.12 157.34 466.59 157.34C465.06 157.34 463.19 154.57 463.19 151.19C463.19 147.81 465.4 145.04 466.59 145.04Z" fill="#318755" class="o"/><ellipse cx="466.44" cy="141.74" rx="2.6" ry="2.15" fill="#ffffff" class="h"/>
<path d="M477.68 146.04L473.36 150.14M480.74 146.04L483.76 149.84M478.06 157.44L473.26 160.84M480.06 157.44L483.36 160.84M479.26 144.09L479.21 145.44" class="l"/><path d="M479.21 145.04C480.4 145.04 482.61 147.81 482.61 151.19C482.61 154.57 480.74 157.34 479.21 157.34C477.68 157.34 475.81 154.57 475.81 151.19C475.81 147.81 478.02 145.04 479.21 145.04Z" fill="#318755" class="o"/><ellipse cx="479.06" cy="141.74" rx="2.6" ry="2.15" fill="#ffffff" class="h"/>
<path d="M490.3 146.04L485.98 150.14M493.36 146.04L496.38 149.84M490.68 157.44L485.88 160.84M492.68 157.44L495.98 160.84M491.88 144.09L491.83 145.44" class="l"/><path d="M491.83 145.04C493.02 145.04 495.23 147.81 495.23 151.19C495.23 154.57 493.36 157.34 491.83 157.34C490.3 157.34 488.43 154.57 488.43 151.19C488.43 147.81 490.64 145.04 491.83 145.04Z" fill="#318755" class="o"/><ellipse cx="491.68" cy="141.74" rx="2.6" ry="2.15" fill="#ffffff" class="h"/>
<path d="M376.72 170.13L372.4 174.23M379.78 170.13L382.8 173.93M377.1 181.53L372.3 184.93M379.1 181.53L382.4 184.93M378.3 168.18L378.25 169.53" class="l"/><path d="M378.25 169.13C379.44 169.13 381.65 171.9 381.65 175.28C381.65 178.66 379.78 181.43 378.25 181.43C376.72 181.43 374.85 178.66 374.85 175.28C374.85 171.9 377.06 169.13 378.25 169.13Z" fill="#318755" class="o"/><ellipse cx="378.1" cy="165.83" rx="2.6" ry="2.15" fill="#ffffff" class="h"/>
<path d="M389.34 170.13L385.02 174.23M392.4 170.13L395.42 173.93M389.72 181.53L384.92 184.93M391.72 181.53L395.02 184.93M390.92 168.18L390.87 169.53" class="l"/><path d="M390.87 169.13C392.06 169.13 394.27 171.9 394.27 175.28C394.27 178.66 392.4 181.43 390.87 181.43C389.34 181.43 387.47 178.66 387.47 175.28C387.47 171.9 389.68 169.13 390.87 169.13Z" fill="#318755" class="o"/><ellipse cx="390.72" cy="165.83" rx="2.6" ry="2.15" fill="#ffffff" class="h"/>
<path d="M401.96 170.13L397.64 174.23M405.02 170.13L408.04 173.93M402.34 181.53L397.54 184.93M404.34 181.53L407.64 184.93M403.54 168.18L403.49 169.53" class="l"/><path d="M403.49 169.13C404.68 169.13 406.89 171.9 406.89 175.28C406.89 178.66 405.02 181.43 403.49 181.43C401.96 181.43 400.09 178.66 400.09 175.28C400.09 171.9 402.3 169.13 403.49 169.13Z" fill="#318755" class="o"/><ellipse cx="403.34" cy="165.83" rx="2.6" ry="2.15" fill="#ffffff" class="h"/>
<path d="M414.58 170.13L410.26 174.23M417.64 170.13L420.66 173.93M414.96 181.53L410.16 184.93M416.96 181.53L420.26 184.93M416.16 168.18L416.11 169.53" class="l"/><path d="M416.11 169.13C417.3 169.13 419.51 171.9 419.51 175.28C419.51 178.66 417.64 181.43 416.11 181.43C414.58 181.43 412.71 178.66 412.71 175.28C412.71 171.9 414.92 169.13 416.11 169.13Z" fill="#318755" class="o"/><ellipse cx="415.96" cy="165.83" rx="2.6" ry="2.15" fill="#ffffff" class="h"/>
<path d="M427.2 170.13L422.88 174.23M430.26 170.13L433.28 173.93M427.58 181.53L422.78 184.93M429.58 181.53L432.88 184.93M428.78 168.18L428.73 169.53" class="l"/><path d="M428.73 169.13C429.92 169.13 432.13 171.9 432.13 175.28C432.13 178.66 430.26 181.43 428.73 181.43C427.2 181.43 425.33 178.66 425.33 175.28C425.33 171.9 427.54 169.13 428.73 169.13Z" fill="#318755" class="o"/><ellipse cx="428.58" cy="165.83" rx="2.6" ry="2.15" fill="#ffffff" class="h"/>
<path d="M439.82 170.13L435.5 174.23M442.88 170.13L445.9 173.93M440.2 181.53L435.4 184.93M442.2 181.53L445.5 184.93M441.4 168.18L441.35 169.53" class="l"/><path d="M441.35 169.13C442.54 169.13 444.75 171.9 444.75 175.28C444.75 178.66 442.88 181.43 441.35 181.43C439.82 181.43 437.95 178.66 437.95 175.28C437.95 171.9 440.16 169.13 441.35 169.13Z" fill="#318755" class="o"/><ellipse cx="441.2" cy="165.83" rx="2.6" ry="2.15" fill="#ffffff" class="h"/>
<path d="M452.44 170.13L448.12 174.23M455.5 170.13L458.52 173.93M452.82 181.53L448.02 184.93M454.82 181.53L458.12 184.93M454.02 168.18L453.97 169.53" class="l"/><path d="M453.97 169.13C455.16 169.13 457.37 171.9 457.37 175.28C457.37 178.66 455.5 181.43 453.97 181.43C452.44 181.43 450.57 178.66 450.57 175.28C450.57 171.9 452.78 169.13 453.97 169.13Z" fill="#318755" class="o"/><ellipse cx="453.82" cy="165.83" rx="2.6" ry="2.15" fill="#ffffff" class="h"/>
<path d="M465.06 170.13L460.74 174.23M468.12 170.13L471.14 173.93M465.44 181.53L460.64 184.93M467.44 181.53L470.74 184.93M466.64 168.18L466.59 169.53" class="l"/><path d="M466.59 169.13C467.78 169.13 469.99 171.9 469.99 175.28C469.99 178.66 468.12 181.43 466.59 181.43C465.06 181.43 463.19 178.66 463.19 175.28C463.19 171.9 465.4 169.13 466.59 169.13Z" fill="#318755" class="o"/><ellipse cx="466.44" cy="165.83" rx="2.6" ry="2.15" fill="#ffffff" class="h"/>
<path d="M477.68 170.13L473.36 174.23M480.74 170.13L483.76 173.93M478.06 181.53L473.26 184.93M480.06 181.53L483.36 184.93M479.26 168.18L479.21 169.53" class="l"/><path d="M479.21 169.13C480.4 169.13 482.61 171.9 482.61 175.28C482.61 178.66 480.74 181.43 479.21 181.43C477.68 181.43 475.81 178.66 475.81 175.28C475.81 171.9 478.02 169.13 479.21 169.13Z" fill="#318755" class="o"/><ellipse cx="479.06" cy="165.83" rx="2.6" ry="2.15" fill="#ffffff" class="h"/>
<path d="M490.3 170.13L485.98 174.23M493.36 170.13L496.38 173.93M490.68 181.53L485.88 184.93M492.68 181.53L495.98 184.93M491.88 168.18L491.83 169.53" class="l"/><path d="M491.83 169.13C493.02 169.13 495.23 171.9 495.23 175.28C495.23 178.66 493.36 181.43 491.83 181.43C490.3 181.43 488.43 178.66 488.43 175.28C488.43 171.9 490.64 169.13 491.83 169.13Z" fill="#318755" class="o"/><ellipse cx="491.68" cy="165.83" rx="2.6" ry="2.15" fill="#ffffff" class="h"/>
<path d="M376.72 194.22L372.4 198.32M379.78 194.22L382.8 198.02M377.1 205.62L372.3 209.02M379.1 205.62L382.4 209.02M378.3 192.27L378.25 193.62" class="l"/><path d="M378.25 193.22C379.44 193.22 381.65 195.99 381.65 199.37C381.65 202.75 379.78 205.52 378.25 205.52C376.72 205.52 374.85 202.75 374.85 199.37C374.85 195.99 377.06 193.22 378.25 193.22Z" fill="#318755" class="o"/><ellipse cx="378.1" cy="189.92" rx="2.6" ry="2.15" fill="#ffffff" class="h"/>
<path d="M389.34 194.22L385.02 198.32M392.4 194.22L395.42 198.02M389.72 205.62L384.92 209.02M391.72 205.62L395.02 209.02M390.92 192.27L390.87 193.62" class="l"/><path d="M390.87 193.22C392.06 193.22 394.27 195.99 394.27 199.37C394.27 202.75 392.4 205.52 390.87 205.52C389.34 205.52 387.47 202.75 387.47 199.37C387.47 195.99 389.68 193.22 390.87 193.22Z" fill="#318755" class="o"/><ellipse cx="390.72" cy="189.92" rx="2.6" ry="2.15" fill="#ffffff" class="h"/>
<path d="M401.96 194.22L397.64 198.32M405.02 194.22L408.04 198.02M402.34 205.62L397.54 209.02M404.34 205.62L407.64 209.02M403.54 192.27L403.49 193.62" class="l"/><path d="M403.49 193.22C404.68 193.22 406.89 195.99 406.89 199.37C406.89 202.75 405.02 205.52 403.49 205.52C401.96 205.52 400.09 202.75 400.09 199.37C400.09 195.99 402.3 193.22 403.49 193.22Z" fill="#318755" class="o"/><ellipse cx="403.34" cy="189.92" rx="2.6" ry="2.15" fill="#ffffff" class="h"/>
<path d="M414.58 194.22L410.26 198.32M417.64 194.22L420.66 198.02M414.96 205.62L410.16 209.02M416.96 205.62L420.26 209.02M416.16 192.27L416.11 193.62" class="l"/><path d="M416.11 193.22C417.3 193.22 419.51 195.99 419.51 199.37C419.51 202.75 417.64 205.52 416.11 205.52C414.58 205.52 412.71 202.75 412.71 199.37C412.71 195.99 414.92 193.22 416.11 193.22Z" fill="#318755" class="o"/><ellipse cx="415.96" cy="189.92" rx="2.6" ry="2.15" fill="#ffffff" class="h"/>
<path d="M427.2 194.22L422.88 198.32M430.26 194.22L433.28 198.02M427.58 205.62L422.78 209.02M429.58 205.62L432.88 209.02M428.78 192.27L428.73 193.62" class="l"/><path d="M428.73 193.22C429.92 193.22 432.13 195.99 432.13 199.37C432.13 202.75 430.26 205.52 428.73 205.52C427.2 205.52 425.33 202.75 425.33 199.37C425.33 195.99 427.54 193.22 428.73 193.22Z" fill="#318755" class="o"/><ellipse cx="428.58" cy="189.92" rx="2.6" ry="2.15" fill="#ffffff" class="h"/>
<path d="M439.82 194.22L435.5 198.32M442.88 194.22L445.9 198.02M440.2 205.62L435.4 209.02M442.2 205.62L445.5 209.02M441.4 192.27L441.35 193.62" class="l"/><path d="M441.35 193.22C442.54 193.22 444.75 195.99 444.75 199.37C444.75 202.75 442.88 205.52 441.35 205.52C439.82 205.52 437.95 202.75 437.95 199.37C437.95 195.99 440.16 193.22 441.35 193.22Z" fill="#318755" class="o"/><ellipse cx="441.2" cy="189.92" rx="2.6" ry="2.15" fill="#ffffff" class="h"/>
<path d="M452.44 194.22L448.12 198.32M455.5 194.22L458.52 198.02M452.82 205.62L448.02 209.02M454.82 205.62L458.12 209.02M454.02 192.27L453.97 193.62" class="l"/><path d="M453.97 193.22C455.16 193.22 457.37 195.99 457.37 199.37C457.37 202.75 455.5 205.52 453.97 205.52C452.44 205.52 450.57 202.75 450.57 199.37C450.57 195.99 452.78 193.22 453.97 193.22Z" fill="#318755" class="o"/><ellipse cx="453.82" cy="189.92" rx="2.6" ry="2.15" fill="#ffffff" class="h"/>
<path d="M465.06 194.22L460.74 198.32M468.12 194.22L471.14 198.02M465.44 205.62L460.64 209.02M467.44 205.62L470.74 209.02M466.64 192.27L466.59 193.62" class="l"/><path d="M466.59 193.22C467.78 193.22 469.99 195.99 469.99 199.37C469.99 202.75 468.12 205.52 466.59 205.52C465.06 205.52 463.19 202.75 463.19 199.37C463.19 195.99 465.4 193.22 466.59 193.22Z" fill="#318755" class="o"/><ellipse cx="466.44" cy="189.92" rx="2.6" ry="2.15" fill="#ffffff" class="h"/>
<path d="M477.68 194.22L473.36 198.32M480.74 194.22L483.76 198.02M478.06 205.62L473.26 209.02M480.06 205.62L483.36 209.02M479.26 192.27L479.21 193.62" class="l"/><path d="M479.21 193.22C480.4 193.22 482.61 195.99 482.61 199.37C482.61 202.75 480.74 205.52 479.21 205.52C477.68 205.52 475.81 202.75 475.81 199.37C475.81 195.99 478.02 193.22 479.21 193.22Z" fill="#318755" class="o"/><ellipse cx="479.06" cy="189.92" rx="2.6" ry="2.15" fill="#ffffff" class="h"/>
<path d="M490.3 194.22L485.98 198.32M493.36 194.22L496.38 198.02M490.68 205.62L485.88 209.02M492.68 205.62L495.98 209.02M491.88 192.27L491.83 193.62" class="l"/><path d="M491.83 193.22C493.02 193.22 495.23 195.99 495.23 199.37C495.23 202.75 493.36 205.52 491.83 205.52C490.3 205.52 488.43 202.75 488.43 199.37C488.43 195.99 490.64 193.22 491.83 193.22Z" fill="#318755" class="o"/><ellipse cx="491.68" cy="189.92" rx="2.6" ry="2.15" fill="#ffffff" class="h"/>
<path d="M376.72 218.31L372.4 222.41M379.78 218.31L382.8 222.11M377.1 229.71L372.3 233.11M379.1 229.71L382.4 233.11M378.3 216.36L378.25 217.71" class="l"/><path d="M378.25 217.31C379.44 217.31 381.65 220.08 381.65 223.46C381.65 226.84 379.78 229.61 378.25 229.61C376.72 229.61 374.85 226.84 374.85 223.46C374.85 220.08 377.06 217.31 378.25 217.31Z" fill="#318755" class="o"/><ellipse cx="378.1" cy="214.01" rx="2.6" ry="2.15" fill="#ffffff" class="h"/>
<path d="M389.34 218.31L385.02 222.41M392.4 218.31L395.42 222.11M389.72 229.71L384.92 233.11M391.72 229.71L395.02 233.11M390.92 216.36L390.87 217.71" class="l"/><path d="M390.87 217.31C392.06 217.31 394.27 220.08 394.27 223.46C394.27 226.84 392.4 229.61 390.87 229.61C389.34 229.61 387.47 226.84 387.47 223.46C387.47 220.08 389.68 217.31 390.87 217.31Z" fill="#318755" class="o"/><ellipse cx="390.72" cy="214.01" rx="2.6" ry="2.15" fill="#ffffff" class="h"/>
<path d="M401.96 218.31L397.64 222.41M405.02 218.31L408.04 222.11M402.34 229.71L397.54 233.11M404.34 229.71L407.64 233.11M403.54 216.36L403.49 217.71" class="l"/><path d="M403.49 217.31C404.68 217.31 406.89 220.08 406.89 223.46C406.89 226.84 405.02 229.61 403.49 229.61C401.96 229.61 400.09 226.84 400.09 223.46C400.09 220.08 402.3 217.31 403.49 217.31Z" fill="#318755" class="o"/><ellipse cx="403.34" cy="214.01" rx="2.6" ry="2.15" fill="#ffffff" class="h"/>
<path d="M414.58 218.31L410.26 222.41M417.64 218.31L420.66 222.11M414.96 229.71L410.16 233.11M416.96 229.71L420.26 233.11M416.16 216.36L416.11 217.71" class="l"/><path d="M416.11 217.31C417.3 217.31 419.51 220.08 419.51 223.46C419.51 226.84 417.64 229.61 416.11 229.61C414.58 229.61 412.71 226.84 412.71 223.46C412.71 220.08 414.92 217.31 416.11 217.31Z" fill="#318755" class="o"/><ellipse cx="415.96" cy="214.01" rx="2.6" ry="2.15" fill="#ffffff" class="h"/>
<path d="M427.2 218.31L422.88 222.41M430.26 218.31L433.28 222.11M427.58 229.71L422.78 233.11M429.58 229.71L432.88 233.11M428.78 216.36L428.73 217.71" class="l"/><path d="M428.73 217.31C429.92 217.31 432.13 220.08 432.13 223.46C432.13 226.84 430.26 229.61 428.73 229.61C427.2 229.61 425.33 226.84 425.33 223.46C425.33 220.08 427.54 217.31 428.73 217.31Z" fill="#318755" class="o"/><ellipse cx="428.58" cy="214.01" rx="2.6" ry="2.15" fill="#ffffff" class="h"/>
<path d="M439.82 218.31L435.5 222.41M442.88 218.31L445.9 222.11M440.2 229.71L435.4 233.11M442.2 229.71L445.5 233.11M441.4 216.36L441.35 217.71" class="l"/><path d="M441.35 217.31C442.54 217.31 444.75 220.08 444.75 223.46C444.75 226.84 442.88 229.61 441.35 229.61C439.82 229.61 437.95 226.84 437.95 223.46C437.95 220.08 440.16 217.31 441.35 217.31Z" fill="#318755" class="o"/><ellipse cx="441.2" cy="214.01" rx="2.6" ry="2.15" fill="#ffffff" class="h"/>
<path d="M452.44 218.31L448.12 222.41M455.5 218.31L458.52 222.11M452.82 229.71L448.02 233.11M454.82 229.71L458.12 233.11M454.02 216.36L453.97 217.71" class="l"/><path d="M453.97 217.31C455.16 217.31 457.37 220.08 457.37 223.46C457.37 226.84 455.5 229.61 453.97 229.61C452.44 229.61 450.57 226.84 450.57 223.46C450.57 220.08 452.78 217.31 453.97 217.31Z" fill="#318755" class="o"/><ellipse cx="453.82" cy="214.01" rx="2.6" ry="2.15" fill="#ffffff" class="h"/>
<path d="M465.06 218.31L460.74 222.41M468.12 218.31L471.14 222.11M465.44 229.71L460.64 233.11M467.44 229.71L470.74 233.11M466.64 216.36L466.59 217.71" class="l"/><path d="M466.59 217.31C467.78 217.31 469.99 220.08 469.99 223.46C469.99 226.84 468.12 229.61 466.59 229.61C465.06 229.61 463.19 226.84 463.19 223.46C463.19 220.08 465.4 217.31 466.59 217.31Z" fill="#318755" class="o"/><ellipse cx="466.44" cy="214.01" rx="2.6" ry="2.15" fill="#ffffff" class="h"/>
<path d="M477.68 218.31L473.36 222.41M480.74 218.31L483.76 222.11M478.06 229.71L473.26 233.11M480.06 229.71L483.36 233.11M479.26 216.36L479.21 217.71" class="l"/><path d="M479.21 217.31C480.4 217.31 482.61 220.08 482.61 223.46C482.61 226.84 480.74 229.61 479.21 229.61C477.68 229.61 475.81 226.84 475.81 223.46C475.81 220.08 478.02 217.31 479.21 217.31Z" fill="#318755" class="o"/><ellipse cx="479.06" cy="214.01" rx="2.6" ry="2.15" fill="#ffffff" class="h"/>
<path d="M490.3 218.31L485.98 222.41M493.36 218.31L496.38 222.11M490.68 229.71L485.88 233.11M492.68 229.71L495.98 233.11M491.88 216.36L491.83 217.71" class="l"/><path d="M491.83 217.31C493.02 217.31 495.23 220.08 495.23 223.46C495.23 226.84 493.36 229.61 491.83 229.61C490.3 229.61 488.43 226.84 488.43 223.46C488.43 220.08 490.64 217.31 491.83 217.31Z" fill="#318755" class="o"/><ellipse cx="491.68" cy="214.01" rx="2.6" ry="2.15" fill="#ffffff" class="h"/>
<path d="M376.72 242.4L372.4 246.5M379.78 242.4L382.8 246.2M377.1 253.8L372.3 257.2M379.1 253.8L382.4 257.2M378.3 240.45L378.25 241.8" class="l"/><path d="M378.25 241.4C379.44 241.4 381.65 244.17 381.65 247.55C381.65 250.93 379.78 253.7 378.25 253.7C376.72 253.7 374.85 250.93 374.85 247.55C374.85 244.17 377.06 241.4 378.25 241.4Z" fill="#318755" class="o"/><ellipse cx="378.1" cy="238.1" rx="2.6" ry="2.15" fill="#ffffff" class="h"/>
<path d="M389.34 242.4L385.02 246.5M392.4 242.4L395.42 246.2M389.72 253.8L384.92 257.2M391.72 253.8L395.02 257.2M390.92 240.45L390.87 241.8" class="l"/><path d="M390.87 241.4C392.06 241.4 394.27 244.17 394.27 247.55C394.27 250.93 392.4 253.7 390.87 253.7C389.34 253.7 387.47 250.93 387.47 247.55C387.47 244.17 389.68 241.4 390.87 241.4Z" fill="#318755" class="o"/><ellipse cx="390.72" cy="238.1" rx="2.6" ry="2.15" fill="#ffffff" class="h"/>
<path d="M401.96 242.4L397.64 246.5M405.02 242.4L408.04 246.2M402.34 253.8L397.54 257.2M404.34 253.8L407.64 257.2M403.54 240.45L403.49 241.8" class="l"/><path d="M403.49 241.4C404.68 241.4 406.89 244.17 406.89 247.55C406.89 250.93 405.02 253.7 403.49 253.7C401.96 253.7 400.09 250.93 400.09 247.55C400.09 244.17 402.3 241.4 403.49 241.4Z" fill="#318755" class="o"/><ellipse cx="403.34" cy="238.1" rx="2.6" ry="2.15" fill="#ffffff" class="h"/>
<path d="M414.58 242.4L410.26 246.5M417.64 242.4L420.66 246.2M414.96 253.8L410.16 257.2M416.96 253.8L420.26 257.2M416.16 240.45L416.11 241.8" class="l"/><path d="M416.11 241.4C417.3 241.4 419.51 244.17 419.51 247.55C419.51 250.93 417.64 253.7 416.11 253.7C414.58 253.7 412.71 250.93 412.71 247.55C412.71 244.17 414.92 241.4 416.11 241.4Z" fill="#318755" class="o"/><ellipse cx="415.96" cy="238.1" rx="2.6" ry="2.15" fill="#ffffff" class="h"/>
<path d="M427.2 242.4L422.88 246.5M430.26 242.4L433.28 246.2M427.58 253.8L422.78 257.2M429.58 253.8L432.88 257.2M428.78 240.45L428.73 241.8" class="l"/><path d="M428.73 241.4C429.92 241.4 432.13 244.17 432.13 247.55C432.13 250.93 430.26 253.7 428.73 253.7C427.2 253.7 425.33 250.93 425.33 247.55C425.33 244.17 427.54 241.4 428.73 241.4Z" fill="#318755" class="o"/><ellipse cx="428.58" cy="238.1" rx="2.6" ry="2.15" fill="#ffffff" class="h"/>
<path d="M439.82 242.4L435.5 246.5M442.88 242.4L445.9 246.2M440.2 253.8L435.4 257.2M442.2 253.8L445.5 257.2M441.4 240.45L441.35 241.8" class="l"/><path d="M441.35 241.4C442.54 241.4 444.75 244.17 444.75 247.55C444.75 250.93 442.88 253.7 441.35 253.7C439.82 253.7 437.95 250.93 437.95 247.55C437.95 244.17 440.16 241.4 441.35 241.4Z" fill="#318755" class="o"/><ellipse cx="441.2" cy="238.1" rx="2.6" ry="2.15" fill="#ffffff" class="h"/>
<path d="M452.44 242.4L448.12 246.5M455.5 242.4L458.52 246.2M452.82 253.8L448.02 257.2M454.82 253.8L458.12 257.2M454.02 240.45L453.97 241.8" class="l"/><path d="M453.97 241.4C455.16 241.4 457.37 244.17 457.37 247.55C457.37 250.93 455.5 253.7 453.97 253.7C452.44 253.7 450.57 250.93 450.57 247.55C450.57 244.17 452.78 241.4 453.97 241.4Z" fill="#318755" class="o"/><ellipse cx="453.82" cy="238.1" rx="2.6" ry="2.15" fill="#ffffff" class="h"/>
<path d="M465.06 242.4L460.74 246.5M468.12 242.4L471.14 246.2M465.44 253.8L460.64 257.2M467.44 253.8L470.74 257.2M466.64 240.45L466.59 241.8" class="l"/><path d="M466.59 241.4C467.78 241.4 469.99 244.17 469.99 247.55C469.99 250.93 468.12 253.7 466.59 253.7C465.06 253.7 463.19 250.93 463.19 247.55C463.19 244.17 465.4 241.4 466.59 241.4Z" fill="#318755" class="o"/><ellipse cx="466.44" cy="238.1" rx="2.6" ry="2.15" fill="#ffffff" class="h"/>
<path d="M477.68 242.4L473.36 246.5M480.74 242.4L483.76 246.2M478.06 253.8L473.26 257.2M480.06 253.8L483.36 257.2M479.26 240.45L479.21 241.8" class="l"/><path d="M479.21 241.4C480.4 241.4 482.61 244.17 482.61 247.55C482.61 250.93 480.74 253.7 479.21 253.7C477.68 253.7 475.81 250.93 475.81 247.55C475.81 244.17 478.02 241.4 479.21 241.4Z" fill="#318755" class="o"/><ellipse cx="479.06" cy="238.1" rx="2.6" ry="2.15" fill="#ffffff" class="h"/>
<path d="M490.3 242.4L485.98 246.5M493.36 242.4L496.38 246.2M490.68 253.8L485.88 257.2M492.68 253.8L495.98 257.2M491.88 240.45L491.83 241.8" class="l"/><path d="M491.83 241.4C493.02 241.4 495.23 244.17 495.23 247.55C495.23 250.93 493.36 253.7 491.83 253.7C490.3 253.7 488.43 250.93 488.43 247.55C488.43 244.17 490.64 241.4 491.83 241.4Z" fill="#318755" class="o"/><ellipse cx="491.68" cy="238.1" rx="2.6" ry="2.15" fill="#ffffff" class="h"/>
<path d="M376.72 266.49L372.4 270.59M379.78 266.49L382.8 270.29M377.1 277.89L372.3 281.29M379.1 277.89L382.4 281.29M378.3 264.54L378.25 265.89" class="l"/><path d="M378.25 265.49C379.44 265.49 381.65 268.26 381.65 271.64C381.65 275.02 379.78 277.79 378.25 277.79C376.72 277.79 374.85 275.02 374.85 271.64C374.85 268.26 377.06 265.49 378.25 265.49Z" fill="#318755" class="o"/><ellipse cx="378.1" cy="262.19" rx="2.6" ry="2.15" fill="#ffffff" class="h"/>
<path d="M389.34 266.49L385.02 270.59M392.4 266.49L395.42 270.29M389.72 277.89L384.92 281.29M391.72 277.89L395.02 281.29M390.92 264.54L390.87 265.89" class="l"/><path d="M390.87 265.49C392.06 265.49 394.27 268.26 394.27 271.64C394.27 275.02 392.4 277.79 390.87 277.79C389.34 277.79 387.47 275.02 387.47 271.64C387.47 268.26 389.68 265.49 390.87 265.49Z" fill="#318755" class="o"/><ellipse cx="390.72" cy="262.19" rx="2.6" ry="2.15" fill="#ffffff" class="h"/>
<path d="M401.96 266.49L397.64 270.59M405.02 266.49L408.04 270.29M402.34 277.89L397.54 281.29M404.34 277.89L407.64 281.29M403.54 264.54L403.49 265.89" class="l"/><path d="M403.49 265.49C404.68 265.49 406.89 268.26 406.89 271.64C406.89 275.02 405.02 277.79 403.49 277.79C401.96 277.79 400.09 275.02 400.09 271.64C400.09 268.26 402.3 265.49 403.49 265.49Z" fill="#318755" class="o"/><ellipse cx="403.34" cy="262.19" rx="2.6" ry="2.15" fill="#ffffff" class="h"/>
<path d="M414.58 266.49L410.26 270.59M417.64 266.49L420.66 270.29M414.96 277.89L410.16 281.29M416.96 277.89L420.26 281.29M416.16 264.54L416.11 265.89" class="l"/><path d="M416.11 265.49C417.3 265.49 419.51 268.26 419.51 271.64C419.51 275.02 417.64 277.79 416.11 277.79C414.58 277.79 412.71 275.02 412.71 271.64C412.71 268.26 414.92 265.49 416.11 265.49Z" fill="#318755" class="o"/><ellipse cx="415.96" cy="262.19" rx="2.6" ry="2.15" fill="#ffffff" class="h"/>
<path d="M427.2 266.49L422.88 270.59M430.26 266.49L433.28 270.29M427.58 277.89L422.78 281.29M429.58 277.89L432.88 281.29M428.78 264.54L428.73 265.89" class="l"/><path d="M428.73 265.49C429.92 265.49 432.13 268.26 432.13 271.64C432.13 275.02 430.26 277.79 428.73 277.79C427.2 277.79 425.33 275.02 425.33 271.64C425.33 268.26 427.54 265.49 428.73 265.49Z" fill="#318755" class="o"/><ellipse cx="428.58" cy="262.19" rx="2.6" ry="2.15" fill="#ffffff" class="h"/>
<path d="M439.82 266.49L435.5 270.59M442.88 266.49L445.9 270.29M440.2 277.89L435.4 281.29M442.2 277.89L445.5 281.29M441.4 264.54L441.35 265.89" class="l"/><path d="M441.35 265.49C442.54 265.49 444.75 268.26 444.75 271.64C444.75 275.02 442.88 277.79 441.35 277.79C439.82 277.79 437.95 275.02 437.95 271.64C437.95 268.26 440.16 265.49 441.35 265.49Z" fill="#318755" class="o"/><ellipse cx="441.2" cy="262.19" rx="2.6" ry="2.15" fill="#ffffff" class="h"/>
<path d="M452.44 266.49L448.12 270.59M455.5 266.49L458.52 270.29M452.82 277.89L448.02 281.29M454.82 277.89L458.12 281.29M454.02 264.54L453.97 265.89" class="l"/><path d="M453.97 265.49C455.16 265.49 457.37 268.26 457.37 271.64C457.37 275.02 455.5 277.79 453.97 277.79C452.44 277.79 450.57 275.02 450.57 271.64C450.57 268.26 452.78 265.49 453.97 265.49Z" fill="#318755" class="o"/><ellipse cx="453.82" cy="262.19" rx="2.6" ry="2.15" fill="#ffffff" class="h"/>
<path d="M465.06 266.49L460.74 270.59M468.12 266.49L471.14 270.29M465.44 277.89L460.64 281.29M467.44 277.89L470.74 281.29M466.64 264.54L466.59 265.89" class="l"/><path d="M466.59 265.49C467.78 265.49 469.99 268.26 469.99 271.64C469.99 275.02 468.12 277.79 466.59 277.79C465.06 277.79 463.19 275.02 463.19 271.64C463.19 268.26 465.4 265.49 466.59 265.49Z" fill="#318755" class="o"/><ellipse cx="466.44" cy="262.19" rx="2.6" ry="2.15" fill="#ffffff" class="h"/>
<path d="M477.68 266.49L473.36 270.59M480.74 266.49L483.76 270.29M478.06 277.89L473.26 281.29M480.06 277.89L483.36 281.29M479.26 264.54L479.21 265.89" class="l"/><path d="M479.21 265.49C480.4 265.49 482.61 268.26 482.61 271.64C482.61 275.02 480.74 277.79 479.21 277.79C477.68 277.79 475.81 275.02 475.81 271.64C475.81 268.26 478.02 265.49 479.21 265.49Z" fill="#318755" class="o"/><ellipse cx="479.06" cy="262.19" rx="2.6" ry="2.15" fill="#ffffff" class="h"/>
<path d="M490.3 266.49L485.98 270.59M493.36 266.49L496.38 270.29M490.68 277.89L485.88 281.29M492.68 277.89L495.98 281.29M491.88 264.54L491.83 265.89" class="l"/><path d="M491.83 265.49C493.02 265.49 495.23 268.26 495.23 271.64C495.23 275.02 493.36 277.79 491.83 277.79C490.3 277.79 488.43 275.02 488.43 271.64C488.43 268.26 490.64 265.49 491.83 265.49Z" fill="#318755" class="o"/><ellipse cx="491.68" cy="262.19" rx="2.6" ry="2.15" fill="#ffffff" class="h"/>
<path d="M376.72 290.58L372.4 294.68M379.78 290.58L382.8 294.38M377.1 301.98L372.3 305.38M379.1 301.98L382.4 305.38M378.3 288.63L378.25 289.98" class="l"/><path d="M378.25 289.58C379.44 289.58 381.65 292.35 381.65 295.73C381.65 299.11 379.78 301.88 378.25 301.88C376.72 301.88 374.85 299.11 374.85 295.73C374.85 292.35 377.06 289.58 378.25 289.58Z" fill="#318755" class="o"/><ellipse cx="378.1" cy="286.28" rx="2.6" ry="2.15" fill="#ffffff" class="h"/>
<path d="M389.34 290.58L385.02 294.68M392.4 290.58L395.42 294.38M389.72 301.98L384.92 305.38M391.72 301.98L395.02 305.38M390.92 288.63L390.87 289.98" class="l"/><path d="M390.87 289.58C392.06 289.58 394.27 292.35 394.27 295.73C394.27 299.11 392.4 301.88 390.87 301.88C389.34 301.88 387.47 299.11 387.47 295.73C387.47 292.35 389.68 289.58 390.87 289.58Z" fill="#318755" class="o"/><ellipse cx="390.72" cy="286.28" rx="2.6" ry="2.15" fill="#ffffff" class="h"/>
<path d="M401.96 290.58L397.64 294.68M405.02 290.58L408.04 294.38M402.34 301.98L397.54 305.38M404.34 301.98L407.64 305.38M403.54 288.63L403.49 289.98" class="l"/><path d="M403.49 289.58C404.68 289.58 406.89 292.35 406.89 295.73C406.89 299.11 405.02 301.88 403.49 301.88C401.96 301.88 400.09 299.11 400.09 295.73C400.09 292.35 402.3 289.58 403.49 289.58Z" fill="#318755" class="o"/><ellipse cx="403.34" cy="286.28" rx="2.6" ry="2.15" fill="#ffffff" class="h"/>
<path d="M414.58 290.58L410.26 294.68M417.64 290.58L420.66 294.38M414.96 301.98L410.16 305.38M416.96 301.98L420.26 305.38M416.16 288.63L416.11 289.98" class="l"/><path d="M416.11 289.58C417.3 289.58 419.51 292.35 419.51 295.73C419.51 299.11 417.64 301.88 416.11 301.88C414.58 301.88 412.71 299.11 412.71 295.73C412.71 292.35 414.92 289.58 416.11 289.58Z" fill="#318755" class="o"/><ellipse cx="415.96" cy="286.28" rx="2.6" ry="2.15" fill="#ffffff" class="h"/>
<path d="M427.2 290.58L422.88 294.68M430.26 290.58L433.28 294.38M427.58 301.98L422.78 305.38M429.58 301.98L432.88 305.38M428.78 288.63L428.73 289.98" class="l"/><path d="M428.73 289.58C429.92 289.58 432.13 292.35 432.13 295.73C432.13 299.11 430.26 301.88 428.73 301.88C427.2 301.88 425.33 299.11 425.33 295.73C425.33 292.35 427.54 289.58 428.73 289.58Z" fill="#318755" class="o"/><ellipse cx="428.58" cy="286.28" rx="2.6" ry="2.15" fill="#ffffff" class="h"/>
<path d="M439.82 290.58L435.5 294.68M442.88 290.58L445.9 294.38M440.2 301.98L435.4 305.38M442.2 301.98L445.5 305.38M441.4 288.63L441.35 289.98" class="l"/><path d="M441.35 289.58C442.54 289.58 444.75 292.35 444.75 295.73C444.75 299.11 442.88 301.88 441.35 301.88C439.82 301.88 437.95 299.11 437.95 295.73C437.95 292.35 440.16 289.58 441.35 289.58Z" fill="#318755" class="o"/><ellipse cx="441.2" cy="286.28" rx="2.6" ry="2.15" fill="#ffffff" class="h"/>
<path d="M452.44 290.58L448.12 294.68M455.5 290.58L458.52 294.38M452.82 301.98L448.02 305.38M454.82 301.98L458.12 305.38M454.02 288.63L453.97 289.98" class="l"/><path d="M453.97 289.58C455.16 289.58 457.37 292.35 457.37 295.73C457.37 299.11 455.5 301.88 453.97 301.88C452.44 301.88 450.57 299.11 450.57 295.73C450.57 292.35 452.78 289.58 453.97 289.58Z" fill="#318755" class="o"/><ellipse cx="453.82" cy="286.28" rx="2.6" ry="2.15" fill="#ffffff" class="h"/>
<path d="M465.06 290.58L460.74 294.68M468.12 290.58L471.14 294.38M465.44 301.98L460.64 305.38M467.44 301.98L470.74 305.38M466.64 288.63L466.59 289.98" class="l"/><path d="M466.59 289.58C467.78 289.58 469.99 292.35 469.99 295.73C469.99 299.11 468.12 301.88 466.59 301.88C465.06 301.88 463.19 299.11 463.19 295.73C463.19 292.35 465.4 289.58 466.59 289.58Z" fill="#318755" class="o"/><ellipse cx="466.44" cy="286.28" rx="2.6" ry="2.15" fill="#ffffff" class="h"/>
<path d="M477.68 290.58L473.36 294.68M480.74 290.58L483.76 294.38M478.06 301.98L473.26 305.38M480.06 301.98L483.36 305.38M479.26 288.63L479.21 289.98" class="l"/><path d="M479.21 289.58C480.4 289.58 482.61 292.35 482.61 295.73C482.61 299.11 480.74 301.88 479.21 301.88C477.68 301.88 475.81 299.11 475.81 295.73C475.81 292.35 478.02 289.58 479.21 289.58Z" fill="#318755" class="o"/><ellipse cx="479.06" cy="286.28" rx="2.6" ry="2.15" fill="#ffffff" class="h"/>
<path d="M490.3 290.58L485.98 294.68M493.36 290.58L496.38 294.38M490.68 301.98L485.88 305.38M492.68 301.98L495.98 305.38M491.88 288.63L491.83 289.98" class="l"/><path d="M491.83 289.58C493.02 289.58 495.23 292.35 495.23 295.73C495.23 299.11 493.36 301.88 491.83 301.88C490.3 301.88 488.43 299.11 488.43 295.73C488.43 292.35 490.64 289.58 491.83 289.58Z" fill="#318755" class="o"/><ellipse cx="491.68" cy="286.28" rx="2.6" ry="2.15" fill="#ffffff" class="h"/>
<path d="M376.72 314.67L372.4 318.77M379.78 314.67L382.8 318.47M377.1 326.07L372.3 329.47M379.1 326.07L382.4 329.47M378.3 312.72L378.25 314.07" class="l"/><path d="M378.25 313.67C379.44 313.67 381.65 316.44 381.65 319.82C381.65 323.2 379.78 325.97 378.25 325.97C376.72 325.97 374.85 323.2 374.85 319.82C374.85 316.44 377.06 313.67 378.25 313.67Z" fill="#318755" class="o"/><ellipse cx="378.1" cy="310.37" rx="2.6" ry="2.15" fill="#ffffff" class="h"/>
<path d="M389.34 314.67L385.02 318.77M392.4 314.67L395.42 318.47M389.72 326.07L384.92 329.47M391.72 326.07L395.02 329.47M390.92 312.72L390.87 314.07" class="l"/><path d="M390.87 313.67C392.06 313.67 394.27 316.44 394.27 319.82C394.27 323.2 392.4 325.97 390.87 325.97C389.34 325.97 387.47 323.2 387.47 319.82C387.47 316.44 389.68 313.67 390.87 313.67Z" fill="#318755" class="o"/><ellipse cx="390.72" cy="310.37" rx="2.6" ry="2.15" fill="#ffffff" class="h"/>
<path d="M401.96 314.67L397.64 318.77M405.02 314.67L408.04 318.47M402.34 326.07L397.54 329.47M404.34 326.07L407.64 329.47M403.54 312.72L403.49 314.07" class="l"/><path d="M403.49 313.67C404.68 313.67 406.89 316.44 406.89 319.82C406.89 323.2 405.02 325.97 403.49 325.97C401.96 325.97 400.09 323.2 400.09 319.82C400.09 316.44 402.3 313.67 403.49 313.67Z" fill="#318755" class="o"/><ellipse cx="403.34" cy="310.37" rx="2.6" ry="2.15" fill="#ffffff" class="h"/>
<path d="M414.58 314.67L410.26 318.77M417.64 314.67L420.66 318.47M414.96 326.07L410.16 329.47M416.96 326.07L420.26 329.47M416.16 312.72L416.11 314.07" class="l"/><path d="M416.11 313.67C417.3 313.67 419.51 316.44 419.51 319.82C419.51 323.2 417.64 325.97 416.11 325.97C414.58 325.97 412.71 323.2 412.71 319.82C412.71 316.44 414.92 313.67 416.11 313.67Z" fill="#318755" class="o"/><ellipse cx="415.96" cy="310.37" rx="2.6" ry="2.15" fill="#ffffff" class="h"/>
<path d="M427.2 314.67L422.88 318.77M430.26 314.67L433.28 318.47M427.58 326.07L422.78 329.47M429.58 326.07L432.88 329.47M428.78 312.72L428.73 314.07" class="l"/><path d="M428.73 313.67C429.92 313.67 432.13 316.44 432.13 319.82C432.13 323.2 430.26 325.97 428.73 325.97C427.2 325.97 425.33 323.2 425.33 319.82C425.33 316.44 427.54 313.67 428.73 313.67Z" fill="#318755" class="o"/><ellipse cx="428.58" cy="310.37" rx="2.6" ry="2.15" fill="#ffffff" class="h"/>
<path d="M439.82 314.67L435.5 318.77M442.88 314.67L445.9 318.47M440.2 326.07L435.4 329.47M442.2 326.07L445.5 329.47M441.4 312.72L441.35 314.07" class="l"/><path d="M441.35 313.67C442.54 313.67 444.75 316.44 444.75 319.82C444.75 323.2 442.88 325.97 441.35 325.97C439.82 325.97 437.95 323.2 437.95 319.82C437.95 316.44 440.16 313.67 441.35 313.67Z" fill="#318755" class="o"/><ellipse cx="441.2" cy="310.37" rx="2.6" ry="2.15" fill="#ffffff" class="h"/>
<path d="M452.44 314.67L448.12 318.77M455.5 314.67L458.52 318.47M452.82 326.07L448.02 329.47M454.82 326.07L458.12 329.47M454.02 312.72L453.97 314.07" class="l"/><path d="M453.97 313.67C455.16 313.67 457.37 316.44 457.37 319.82C457.37 323.2 455.5 325.97 453.97 325.97C452.44 325.97 450.57 323.2 450.57 319.82C450.57 316.44 452.78 313.67 453.97 313.67Z" fill="#318755" class="o"/><ellipse cx="453.82" cy="310.37" rx="2.6" ry="2.15" fill="#ffffff" class="h"/>
<path d="M465.06 314.67L460.74 318.77M468.12 314.67L471.14 318.47M465.44 326.07L460.64 329.47M467.44 326.07L470.74 329.47M466.64 312.72L466.59 314.07" class="l"/><path d="M466.59 313.67C467.78 313.67 469.99 316.44 469.99 319.82C469.99 323.2 468.12 325.97 466.59 325.97C465.06 325.97 463.19 323.2 463.19 319.82C463.19 316.44 465.4 313.67 466.59 313.67Z" fill="#318755" class="o"/><ellipse cx="466.44" cy="310.37" rx="2.6" ry="2.15" fill="#ffffff" class="h"/>
<path d="M477.68 314.67L473.36 318.77M480.74 314.67L483.76 318.47M478.06 326.07L473.26 329.47M480.06 326.07L483.36 329.47M479.26 312.72L479.21 314.07" class="l"/><path d="M479.21 313.67C480.4 313.67 482.61 316.44 482.61 319.82C482.61 323.2 480.74 325.97 479.21 325.97C477.68 325.97 475.81 323.2 475.81 319.82C475.81 316.44 478.02 313.67 479.21 313.67Z" fill="#318755" class="o"/><ellipse cx="479.06" cy="310.37" rx="2.6" ry="2.15" fill="#ffffff" class="h"/>
<path d="M490.3 314.67L485.98 318.77M493.36 314.67L496.38 318.47M490.68 326.07L485.88 329.47M492.68 326.07L495.98 329.47M491.88 312.72L491.83 314.07" class="l"/><path d="M491.83 313.67C493.02 313.67 495.23 316.44 495.23 319.82C495.23 323.2 493.36 325.97 491.83 325.97C490.3 325.97 488.43 323.2 488.43 319.82C488.43 316.44 490.64 313.67 491.83 313.67Z" fill="#318755" class="o"/><ellipse cx="491.68" cy="310.37" rx="2.6" ry="2.15" fill="#ffffff" class="h"/>
<path d="M376.72 338.76L372.4 342.86M379.78 338.76L382.8 342.56M377.1 350.16L372.3 353.56M379.1 350.16L382.4 353.56M378.3 336.81L378.25 338.16" class="l"/><path d="M378.25 337.76C379.44 337.76 381.65 340.53 381.65 343.91C381.65 347.29 379.78 350.06 378.25 350.06C376.72 350.06 374.85 347.29 374.85 343.91C374.85 340.53 377.06 337.76 378.25 337.76Z" fill="#318755" class="o"/><ellipse cx="378.1" cy="334.46" rx="2.6" ry="2.15" fill="#ffffff" class="h"/>
<path d="M389.34 338.76L385.02 342.86M392.4 338.76L395.42 342.56M389.72 350.16L384.92 353.56M391.72 350.16L395.02 353.56M390.92 336.81L390.87 338.16" class="l"/><path d="M390.87 337.76C392.06 337.76 394.27 340.53 394.27 343.91C394.27 347.29 392.4 350.06 390.87 350.06C389.34 350.06 387.47 347.29 387.47 343.91C387.47 340.53 389.68 337.76 390.87 337.76Z" fill="#318755" class="o"/><ellipse cx="390.72" cy="334.46" rx="2.6" ry="2.15" fill="#ffffff" class="h"/>
<path d="M401.96 338.76L397.64 342.86M405.02 338.76L408.04 342.56M402.34 350.16L397.54 353.56M404.34 350.16L407.64 353.56M403.54 336.81L403.49 338.16" class="l"/><path d="M403.49 337.76C404.68 337.76 406.89 340.53 406.89 343.91C406.89 347.29 405.02 350.06 403.49 350.06C401.96 350.06 400.09 347.29 400.09 343.91C400.09 340.53 402.3 337.76 403.49 337.76Z" fill="#318755" class="o"/><ellipse cx="403.34" cy="334.46" rx="2.6" ry="2.15" fill="#ffffff" class="h"/>
<path d="M414.58 338.76L410.26 342.86M417.64 338.76L420.66 342.56M414.96 350.16L410.16 353.56M416.96 350.16L420.26 353.56M416.16 336.81L416.11 338.16" class="l"/><path d="M416.11 337.76C417.3 337.76 419.51 340.53 419.51 343.91C419.51 347.29 417.64 350.06 416.11 350.06C414.58 350.06 412.71 347.29 412.71 343.91C412.71 340.53 414.92 337.76 416.11 337.76Z" fill="#318755" class="o"/><ellipse cx="415.96" cy="334.46" rx="2.6" ry="2.15" fill="#ffffff" class="h"/>
<path d="M427.2 338.76L422.88 342.86M430.26 338.76L433.28 342.56M427.58 350.16L422.78 353.56M429.58 350.16L432.88 353.56M428.78 336.81L428.73 338.16" class="l"/><path d="M428.73 337.76C429.92 337.76 432.13 340.53 432.13 343.91C432.13 347.29 430.26 350.06 428.73 350.06C427.2 350.06 425.33 347.29 425.33 343.91C425.33 340.53 427.54 337.76 428.73 337.76Z" fill="#318755" class="o"/><ellipse cx="428.58" cy="334.46" rx="2.6" ry="2.15" fill="#ffffff" class="h"/>
<path d="M439.82 338.76L435.5 342.86M442.88 338.76L445.9 342.56M440.2 350.16L435.4 353.56M442.2 350.16L445.5 353.56M441.4 336.81L441.35 338.16" class="l"/><path d="M441.35 337.76C442.54 337.76 444.75 340.53 444.75 343.91C444.75 347.29 442.88 350.06 441.35 350.06C439.82 350.06 437.95 347.29 437.95 343.91C437.95 340.53 440.16 337.76 441.35 337.76Z" fill="#318755" class="o"/><ellipse cx="441.2" cy="334.46" rx="2.6" ry="2.15" fill="#ffffff" class="h"/>
<path d="M452.44 338.76L448.12 342.86M455.5 338.76L458.52 342.56M452.82 350.16L448.02 353.56M454.82 350.16L458.12 353.56M454.02 336.81L453.97 338.16" class="l"/><path d="M453.97 337.76C455.16 337.76 457.37 340.53 457.37 343.91C457.37 347.29 455.5 350.06 453.97 350.06C452.44 350.06 450.57 347.29 450.57 343.91C450.57 340.53 452.78 337.76 453.97 337.76Z" fill="#318755" class="o"/><ellipse cx="453.82" cy="334.46" rx="2.6" ry="2.15" fill="#ffffff" class="h"/>
<path d="M465.06 338.76L460.74 342.86M468.12 338.76L471.14 342.56M465.44 350.16L460.64 353.56M467.44 350.16L470.74 353.56M466.64 336.81L466.59 338.16" class="l"/><path d="M466.59 337.76C467.78 337.76 469.99 340.53 469.99 343.91C469.99 347.29 468.12 350.06 466.59 350.06C465.06 350.06 463.19 347.29 463.19 343.91C463.19 340.53 465.4 337.76 466.59 337.76Z" fill="#318755" class="o"/><ellipse cx="466.44" cy="334.46" rx="2.6" ry="2.15" fill="#ffffff" class="h"/>
<path d="M477.68 338.76L473.36 342.86M480.74 338.76L483.76 342.56M478.06 350.16L473.26 353.56M480.06 350.16L483.36 353.56M479.26 336.81L479.21 338.16" class="l"/><path d="M479.21 337.76C480.4 337.76 482.61 340.53 482.61 343.91C482.61 347.29 480.74 350.06 479.21 350.06C477.68 350.06 475.81 347.29 475.81 343.91C475.81 340.53 478.02 337.76 479.21 337.76Z" fill="#318755" class="o"/><ellipse cx="479.06" cy="334.46" rx="2.6" ry="2.15" fill="#ffffff" class="h"/>
<path d="M490.3 338.76L485.98 342.86M493.36 338.76L496.38 342.56M490.68 350.16L485.88 353.56M492.68 350.16L495.98 353.56M491.88 336.81L491.83 338.16" class="l"/><path d="M491.83 337.76C493.02 337.76 495.23 340.53 495.23 343.91C495.23 347.29 493.36 350.06 491.83 350.06C490.3 350.06 488.43 347.29 488.43 343.91C488.43 340.53 490.64 337.76 491.83 337.76Z" fill="#318755" class="o"/><ellipse cx="491.68" cy="334.46" rx="2.6" ry="2.15" fill="#ffffff" class="h"/>
<path d="M536.55 117.85L532 120.55M539.25 117.85L542.7 120.35M536.7 128.45L532.6 131.75M538.7 128.45L542.5 131.75M537.6 115.35L537.9 117.25" class="l"/><path d="M537.9 116.85C539.1 116.85 540.9 119.33 540.9 122.37C540.9 125.66 539.7 128.35 537.9 128.35C536.1 128.35 534.9 125.66 534.9 122.37C534.9 119.33 536.7 116.85 537.9 116.85Z" fill="#dadada" class="o"/><ellipse cx="537.4" cy="113.05" rx="2.85" ry="2.1" fill="#ffffff" class="h"/>
<path d="M549.2 117.85L544.65 120.55M551.9 117.85L555.35 120.35M549.35 128.45L545.25 131.75M551.35 128.45L555.15 131.75M550.25 115.35L550.55 117.25" class="l"/><path d="M550.55 116.85C551.75 116.85 553.55 119.33 553.55 122.37C553.55 125.66 552.35 128.35 550.55 128.35C548.75 128.35 547.55 125.66 547.55 122.37C547.55 119.33 549.35 116.85 550.55 116.85Z" fill="#dadada" class="o"/><ellipse cx="550.05" cy="113.05" rx="2.85" ry="2.1" fill="#ffffff" class="h"/>
<path d="M561.85 117.85L557.3 120.55M564.55 117.85L568 120.35M562 128.45L557.9 131.75M564 128.45L567.8 131.75M562.9 115.35L563.2 117.25" class="l"/><path d="M563.2 116.85C564.4 116.85 566.2 119.33 566.2 122.37C566.2 125.66 565 128.35 563.2 128.35C561.4 128.35 560.2 125.66 560.2 122.37C560.2 119.33 562 116.85 563.2 116.85Z" fill="#dadada" class="o"/><ellipse cx="562.7" cy="113.05" rx="2.85" ry="2.1" fill="#ffffff" class="h"/>
<path d="M574.5 117.85L569.95 120.55M577.2 117.85L580.65 120.35M574.65 128.45L570.55 131.75M576.65 128.45L580.45 131.75M575.55 115.35L575.85 117.25" class="l"/><path d="M575.85 116.85C577.05 116.85 578.85 119.33 578.85 122.37C578.85 125.66 577.65 128.35 575.85 128.35C574.05 128.35 572.85 125.66 572.85 122.37C572.85 119.33 574.65 116.85 575.85 116.85Z" fill="#dadada" class="o"/><ellipse cx="575.35" cy="113.05" rx="2.85" ry="2.1" fill="#ffffff" class="h"/>
<path d="M587.15 117.85L582.6 120.55M589.85 117.85L593.3 120.35M587.3 128.45L583.2 131.75M589.3 128.45L593.1 131.75M588.2 115.35L588.5 117.25" class="l"/><path d="M588.5 116.85C589.7 116.85 591.5 119.33 591.5 122.37C591.5 125.66 590.3 128.35 588.5 128.35C586.7 128.35 585.5 125.66 585.5 122.37C585.5 119.33 587.3 116.85 588.5 116.85Z" fill="#dadada" class="o"/><ellipse cx="588" cy="113.05" rx="2.85" ry="2.1" fill="#ffffff" class="h"/>
<path d="M599.8 117.85L595.25 120.55M602.5 117.85L605.95 120.35M599.95 128.45L595.85 131.75M601.95 128.45L605.75 131.75M600.85 115.35L601.15 117.25" class="l"/><path d="M601.15 116.85C602.35 116.85 604.15 119.33 604.15 122.37C604.15 125.66 602.95 128.35 601.15 128.35C599.35 128.35 598.15 125.66 598.15 122.37C598.15 119.33 599.95 116.85 601.15 116.85Z" fill="#dadada" class="o"/><ellipse cx="600.65" cy="113.05" rx="2.85" ry="2.1" fill="#ffffff" class="h"/>
<path d="M612.45 117.85L607.9 120.55M615.15 117.85L618.6 120.35M612.6 128.45L608.5 131.75M614.6 128.45L618.4 131.75M613.5 115.35L613.8 117.25" class="l"/><path d="M613.8 116.85C615 116.85 616.8 119.33 616.8 122.37C616.8 125.66 615.6 128.35 613.8 128.35C612 128.35 610.8 125.66 610.8 122.37C610.8 119.33 612.6 116.85 613.8 116.85Z" fill="#dadada" class="o"/><ellipse cx="613.3" cy="113.05" rx="2.85" ry="2.1" fill="#ffffff" class="h"/>
<path d="M625.1 117.85L620.55 120.55M627.8 117.85L631.25 120.35M625.25 128.45L621.15 131.75M627.25 128.45L631.05 131.75M626.15 115.35L626.45 117.25" class="l"/><path d="M626.45 116.85C627.65 116.85 629.45 119.33 629.45 122.37C629.45 125.66 628.25 128.35 626.45 128.35C624.65 128.35 623.45 125.66 623.45 122.37C623.45 119.33 625.25 116.85 626.45 116.85Z" fill="#dadada" class="o"/><ellipse cx="625.95" cy="113.05" rx="2.85" ry="2.1" fill="#ffffff" class="h"/>
<path d="M637.75 117.85L633.2 120.55M640.45 117.85L643.9 120.35M637.9 128.45L633.8 131.75M639.9 128.45L643.7 131.75M638.8 115.35L639.1 117.25" class="l"/><path d="M639.1 116.85C640.3 116.85 642.1 119.33 642.1 122.37C642.1 125.66 640.9 128.35 639.1 128.35C637.3 128.35 636.1 125.66 636.1 122.37C636.1 119.33 637.9 116.85 639.1 116.85Z" fill="#dadada" class="o"/><ellipse cx="638.6" cy="113.05" rx="2.85" ry="2.1" fill="#ffffff" class="h"/>
<path d="M536.89 142.05L532.34 144.75M539.59 142.05L543.04 144.55M537.04 152.65L532.94 155.95M539.04 152.65L542.84 155.95M537.94 139.55L538.24 141.45" class="l"/><path d="M538.24 141.05C539.44 141.05 541.24 143.53 541.24 146.57C541.24 149.86 540.04 152.55 538.24 152.55C536.44 152.55 535.24 149.86 535.24 146.57C535.24 143.53 537.04 141.05 538.24 141.05Z" fill="#dadada" class="o"/><ellipse cx="537.74" cy="137.25" rx="2.85" ry="2.1" fill="#ffffff" class="h"/>
<path d="M549.54 142.05L544.99 144.75M552.24 142.05L555.69 144.55M549.69 152.65L545.59 155.95M551.69 152.65L555.49 155.95M550.59 139.55L550.89 141.45" class="l"/><path d="M550.89 141.05C552.09 141.05 553.89 143.53 553.89 146.57C553.89 149.86 552.69 152.55 550.89 152.55C549.09 152.55 547.89 149.86 547.89 146.57C547.89 143.53 549.69 141.05 550.89 141.05Z" fill="#dadada" class="o"/><ellipse cx="550.39" cy="137.25" rx="2.85" ry="2.1" fill="#ffffff" class="h"/>
<path d="M562.19 142.05L557.64 144.75M564.89 142.05L568.34 144.55M562.34 152.65L558.24 155.95M564.34 152.65L568.14 155.95M563.24 139.55L563.54 141.45" class="l"/><path d="M563.54 141.05C564.74 141.05 566.54 143.53 566.54 146.57C566.54 149.86 565.34 152.55 563.54 152.55C561.74 152.55 560.54 149.86 560.54 146.57C560.54 143.53 562.34 141.05 563.54 141.05Z" fill="#dadada" class="o"/><ellipse cx="563.04" cy="137.25" rx="2.85" ry="2.1" fill="#ffffff" class="h"/>
<path d="M574.84 142.05L570.29 144.75M577.54 142.05L580.99 144.55M574.99 152.65L570.89 155.95M576.99 152.65L580.79 155.95M575.89 139.55L576.19 141.45" class="l"/><path d="M576.19 141.05C577.39 141.05 579.19 143.53 579.19 146.57C579.19 149.86 577.99 152.55 576.19 152.55C574.39 152.55 573.19 149.86 573.19 146.57C573.19 143.53 574.99 141.05 576.19 141.05Z" fill="#dadada" class="o"/><ellipse cx="575.69" cy="137.25" rx="2.85" ry="2.1" fill="#ffffff" class="h"/>
<path d="M587.49 142.05L582.94 144.75M590.19 142.05L593.64 144.55M587.64 152.65L583.54 155.95M589.64 152.65L593.44 155.95M588.54 139.55L588.84 141.45" class="l"/><path d="M588.84 141.05C590.04 141.05 591.84 143.53 591.84 146.57C591.84 149.86 590.64 152.55 588.84 152.55C587.04 152.55 585.84 149.86 585.84 146.57C585.84 143.53 587.64 141.05 588.84 141.05Z" fill="#dadada" class="o"/><ellipse cx="588.34" cy="137.25" rx="2.85" ry="2.1" fill="#ffffff" class="h"/>
<path d="M600.14 142.05L595.59 144.75M602.84 142.05L606.29 144.55M600.29 152.65L596.19 155.95M602.29 152.65L606.09 155.95M601.19 139.55L601.49 141.45" class="l"/><path d="M601.49 141.05C602.69 141.05 604.49 143.53 604.49 146.57C604.49 149.86 603.29 152.55 601.49 152.55C599.69 152.55 598.49 149.86 598.49 146.57C598.49 143.53 600.29 141.05 601.49 141.05Z" fill="#dadada" class="o"/><ellipse cx="600.99" cy="137.25" rx="2.85" ry="2.1" fill="#ffffff" class="h"/>
<path d="M612.79 142.05L608.24 144.75M615.49 142.05L618.94 144.55M612.94 152.65L608.84 155.95M614.94 152.65L618.74 155.95M613.84 139.55L614.14 141.45" class="l"/><path d="M614.14 141.05C615.34 141.05 617.14 143.53 617.14 146.57C617.14 149.86 615.94 152.55 614.14 152.55C612.34 152.55 611.14 149.86 611.14 146.57C611.14 143.53 612.94 141.05 614.14 141.05Z" fill="#dadada" class="o"/><ellipse cx="613.64" cy="137.25" rx="2.85" ry="2.1" fill="#ffffff" class="h"/>
<path d="M625.44 142.05L620.89 144.75M628.14 142.05L631.59 144.55M625.59 152.65L621.49 155.95M627.59 152.65L631.39 155.95M626.49 139.55L626.79 141.45" class="l"/><path d="M626.79 141.05C627.99 141.05 629.79 143.53 629.79 146.57C629.79 149.86 628.59 152.55 626.79 152.55C624.99 152.55 623.79 149.86 623.79 146.57C623.79 143.53 625.59 141.05 626.79 141.05Z" fill="#dadada" class="o"/><ellipse cx="626.29" cy="137.25" rx="2.85" ry="2.1" fill="#ffffff" class="h"/>
<path d="M638.09 142.05L633.54 144.75M640.79 142.05L644.24 144.55M638.24 152.65L634.14 155.95M640.24 152.65L644.04 155.95M639.14 139.55L639.44 141.45" class="l"/><path d="M639.44 141.05C640.64 141.05 642.44 143.53 642.44 146.57C642.44 149.86 641.24 152.55 639.44 152.55C637.64 152.55 636.44 149.86 636.44 146.57C636.44 143.53 638.24 141.05 639.44 141.05Z" fill="#dadada" class="o"/><ellipse cx="638.94" cy="137.25" rx="2.85" ry="2.1" fill="#ffffff" class="h"/>
<path d="M650.74 142.05L646.19 144.75M653.44 142.05L656.89 144.55M650.89 152.65L646.79 155.95M652.89 152.65L656.69 155.95M651.79 139.55L652.09 141.45" class="l"/><path d="M652.09 141.05C653.29 141.05 655.09 143.53 655.09 146.57C655.09 149.86 653.89 152.55 652.09 152.55C650.29 152.55 649.09 149.86 649.09 146.57C649.09 143.53 650.89 141.05 652.09 141.05Z" fill="#dadada" class="o"/><ellipse cx="651.59" cy="137.25" rx="2.85" ry="2.1" fill="#ffffff" class="h"/>
<path d="M537.24 166.25L532.69 168.95M539.94 166.25L543.39 168.75M537.39 176.85L533.29 180.15M539.39 176.85L543.19 180.15M538.29 163.75L538.59 165.65" class="l"/><path d="M538.59 165.25C539.79 165.25 541.59 167.73 541.59 170.77C541.59 174.06 540.39 176.75 538.59 176.75C536.79 176.75 535.59 174.06 535.59 170.77C535.59 167.73 537.39 165.25 538.59 165.25Z" fill="#dadada" class="o"/><ellipse cx="538.09" cy="161.45" rx="2.85" ry="2.1" fill="#ffffff" class="h"/>
<path d="M549.89 166.25L545.34 168.95M552.59 166.25L556.04 168.75M550.04 176.85L545.94 180.15M552.04 176.85L555.84 180.15M550.94 163.75L551.24 165.65" class="l"/><path d="M551.24 165.25C552.44 165.25 554.24 167.73 554.24 170.77C554.24 174.06 553.04 176.75 551.24 176.75C549.44 176.75 548.24 174.06 548.24 170.77C548.24 167.73 550.04 165.25 551.24 165.25Z" fill="#dadada" class="o"/><ellipse cx="550.74" cy="161.45" rx="2.85" ry="2.1" fill="#ffffff" class="h"/>
<path d="M562.54 166.25L557.99 168.95M565.24 166.25L568.69 168.75M562.69 176.85L558.59 180.15M564.69 176.85L568.49 180.15M563.59 163.75L563.89 165.65" class="l"/><path d="M563.89 165.25C565.09 165.25 566.89 167.73 566.89 170.77C566.89 174.06 565.69 176.75 563.89 176.75C562.09 176.75 560.89 174.06 560.89 170.77C560.89 167.73 562.69 165.25 563.89 165.25Z" fill="#dadada" class="o"/><ellipse cx="563.39" cy="161.45" rx="2.85" ry="2.1" fill="#ffffff" class="h"/>
<path d="M575.19 166.25L570.64 168.95M577.89 166.25L581.34 168.75M575.34 176.85L571.24 180.15M577.34 176.85L581.14 180.15M576.24 163.75L576.54 165.65" class="l"/><path d="M576.54 165.25C577.74 165.25 579.54 167.73 579.54 170.77C579.54 174.06 578.34 176.75 576.54 176.75C574.74 176.75 573.54 174.06 573.54 170.77C573.54 167.73 575.34 165.25 576.54 165.25Z" fill="#dadada" class="o"/><ellipse cx="576.04" cy="161.45" rx="2.85" ry="2.1" fill="#ffffff" class="h"/>
<path d="M587.84 166.25L583.29 168.95M590.54 166.25L593.99 168.75M587.99 176.85L583.89 180.15M589.99 176.85L593.79 180.15M588.89 163.75L589.19 165.65" class="l"/><path d="M589.19 165.25C590.39 165.25 592.19 167.73 592.19 170.77C592.19 174.06 590.99 176.75 589.19 176.75C587.39 176.75 586.19 174.06 586.19 170.77C586.19 167.73 587.99 165.25 589.19 165.25Z" fill="#dadada" class="o"/><ellipse cx="588.69" cy="161.45" rx="2.85" ry="2.1" fill="#ffffff" class="h"/>
<path d="M600.49 166.25L595.94 168.95M603.19 166.25L606.64 168.75M600.64 176.85L596.54 180.15M602.64 176.85L606.44 180.15M601.54 163.75L601.84 165.65" class="l"/><path d="M601.84 165.25C603.04 165.25 604.84 167.73 604.84 170.77C604.84 174.06 603.64 176.75 601.84 176.75C600.04 176.75 598.84 174.06 598.84 170.77C598.84 167.73 600.64 165.25 601.84 165.25Z" fill="#dadada" class="o"/><ellipse cx="601.34" cy="161.45" rx="2.85" ry="2.1" fill="#ffffff" class="h"/>
<path d="M613.14 166.25L608.59 168.95M615.84 166.25L619.29 168.75M613.29 176.85L609.19 180.15M615.29 176.85L619.09 180.15M614.19 163.75L614.49 165.65" class="l"/><path d="M614.49 165.25C615.69 165.25 617.49 167.73 617.49 170.77C617.49 174.06 616.29 176.75 614.49 176.75C612.69 176.75 611.49 174.06 611.49 170.77C611.49 167.73 613.29 165.25 614.49 165.25Z" fill="#dadada" class="o"/><ellipse cx="613.99" cy="161.45" rx="2.85" ry="2.1" fill="#ffffff" class="h"/>
<path d="M625.79 166.25L621.24 168.95M628.49 166.25L631.94 168.75M625.94 176.85L621.84 180.15M627.94 176.85L631.74 180.15M626.84 163.75L627.14 165.65" class="l"/><path d="M627.14 165.25C628.34 165.25 630.14 167.73 630.14 170.77C630.14 174.06 628.94 176.75 627.14 176.75C625.34 176.75 624.14 174.06 624.14 170.77C624.14 167.73 625.94 165.25 627.14 165.25Z" fill="#dadada" class="o"/><ellipse cx="626.64" cy="161.45" rx="2.85" ry="2.1" fill="#ffffff" class="h"/>
<path d="M638.44 166.25L633.89 168.95M641.14 166.25L644.59 168.75M638.59 176.85L634.49 180.15M640.59 176.85L644.39 180.15M639.49 163.75L639.79 165.65" class="l"/><path d="M639.79 165.25C640.99 165.25 642.79 167.73 642.79 170.77C642.79 174.06 641.59 176.75 639.79 176.75C637.99 176.75 636.79 174.06 636.79 170.77C636.79 167.73 638.59 165.25 639.79 165.25Z" fill="#dadada" class="o"/><ellipse cx="639.29" cy="161.45" rx="2.85" ry="2.1" fill="#ffffff" class="h"/>
<path d="M651.09 166.25L646.54 168.95M653.79 166.25L657.24 168.75M651.24 176.85L647.14 180.15M653.24 176.85L657.04 180.15M652.14 163.75L652.44 165.65" class="l"/><path d="M652.44 165.25C653.64 165.25 655.44 167.73 655.44 170.77C655.44 174.06 654.24 176.75 652.44 176.75C650.64 176.75 649.44 174.06 649.44 170.77C649.44 167.73 651.24 165.25 652.44 165.25Z" fill="#dadada" class="o"/><ellipse cx="651.94" cy="161.45" rx="2.85" ry="2.1" fill="#ffffff" class="h"/>
<path d="M537.58 190.45L533.03 193.15M540.28 190.45L543.73 192.95M537.73 201.05L533.63 204.35M539.73 201.05L543.53 204.35M538.63 187.95L538.93 189.85" class="l"/><path d="M538.93 189.45C540.13 189.45 541.93 191.93 541.93 194.97C541.93 198.26 540.73 200.95 538.93 200.95C537.13 200.95 535.93 198.26 535.93 194.97C535.93 191.93 537.73 189.45 538.93 189.45Z" fill="#dadada" class="o"/><ellipse cx="538.43" cy="185.65" rx="2.85" ry="2.1" fill="#ffffff" class="h"/>
<path d="M550.23 190.45L545.68 193.15M552.93 190.45L556.38 192.95M550.38 201.05L546.28 204.35M552.38 201.05L556.18 204.35M551.28 187.95L551.58 189.85" class="l"/><path d="M551.58 189.45C552.78 189.45 554.58 191.93 554.58 194.97C554.58 198.26 553.38 200.95 551.58 200.95C549.78 200.95 548.58 198.26 548.58 194.97C548.58 191.93 550.38 189.45 551.58 189.45Z" fill="#dadada" class="o"/><ellipse cx="551.08" cy="185.65" rx="2.85" ry="2.1" fill="#ffffff" class="h"/>
<path d="M562.88 190.45L558.33 193.15M565.58 190.45L569.03 192.95M563.03 201.05L558.93 204.35M565.03 201.05L568.83 204.35M563.93 187.95L564.23 189.85" class="l"/><path d="M564.23 189.45C565.43 189.45 567.23 191.93 567.23 194.97C567.23 198.26 566.03 200.95 564.23 200.95C562.43 200.95 561.23 198.26 561.23 194.97C561.23 191.93 563.03 189.45 564.23 189.45Z" fill="#dadada" class="o"/><ellipse cx="563.73" cy="185.65" rx="2.85" ry="2.1" fill="#ffffff" class="h"/>
<path d="M575.53 190.45L570.98 193.15M578.23 190.45L581.68 192.95M575.68 201.05L571.58 204.35M577.68 201.05L581.48 204.35M576.58 187.95L576.88 189.85" class="l"/><path d="M576.88 189.45C578.08 189.45 579.88 191.93 579.88 194.97C579.88 198.26 578.68 200.95 576.88 200.95C575.08 200.95 573.88 198.26 573.88 194.97C573.88 191.93 575.68 189.45 576.88 189.45Z" fill="#dadada" class="o"/><ellipse cx="576.38" cy="185.65" rx="2.85" ry="2.1" fill="#ffffff" class="h"/>
<path d="M588.18 190.45L583.63 193.15M590.88 190.45L594.33 192.95M588.33 201.05L584.23 204.35M590.33 201.05L594.13 204.35M589.23 187.95L589.53 189.85" class="l"/><path d="M589.53 189.45C590.73 189.45 592.53 191.93 592.53 194.97C592.53 198.26 591.33 200.95 589.53 200.95C587.73 200.95 586.53 198.26 586.53 194.97C586.53 191.93 588.33 189.45 589.53 189.45Z" fill="#dadada" class="o"/><ellipse cx="589.03" cy="185.65" rx="2.85" ry="2.1" fill="#ffffff" class="h"/>
<path d="M600.83 190.45L596.28 193.15M603.53 190.45L606.98 192.95M600.98 201.05L596.88 204.35M602.98 201.05L606.78 204.35M601.88 187.95L602.18 189.85" class="l"/><path d="M602.18 189.45C603.38 189.45 605.18 191.93 605.18 194.97C605.18 198.26 603.98 200.95 602.18 200.95C600.38 200.95 599.18 198.26 599.18 194.97C599.18 191.93 600.98 189.45 602.18 189.45Z" fill="#dadada" class="o"/><ellipse cx="601.68" cy="185.65" rx="2.85" ry="2.1" fill="#ffffff" class="h"/>
<path d="M613.48 190.45L608.93 193.15M616.18 190.45L619.63 192.95M613.63 201.05L609.53 204.35M615.63 201.05L619.43 204.35M614.53 187.95L614.83 189.85" class="l"/><path d="M614.83 189.45C616.03 189.45 617.83 191.93 617.83 194.97C617.83 198.26 616.63 200.95 614.83 200.95C613.03 200.95 611.83 198.26 611.83 194.97C611.83 191.93 613.63 189.45 614.83 189.45Z" fill="#dadada" class="o"/><ellipse cx="614.33" cy="185.65" rx="2.85" ry="2.1" fill="#ffffff" class="h"/>
<path d="M626.13 190.45L621.58 193.15M628.83 190.45L632.28 192.95M626.28 201.05L622.18 204.35M628.28 201.05L632.08 204.35M627.18 187.95L627.48 189.85" class="l"/><path d="M627.48 189.45C628.68 189.45 630.48 191.93 630.48 194.97C630.48 198.26 629.28 200.95 627.48 200.95C625.68 200.95 624.48 198.26 624.48 194.97C624.48 191.93 626.28 189.45 627.48 189.45Z" fill="#dadada" class="o"/><ellipse cx="626.98" cy="185.65" rx="2.85" ry="2.1" fill="#ffffff" class="h"/>
<path d="M638.78 190.45L634.23 193.15M641.48 190.45L644.93 192.95M638.93 201.05L634.83 204.35M640.93 201.05L644.73 204.35M639.83 187.95L640.13 189.85" class="l"/><path d="M640.13 189.45C641.33 189.45 643.13 191.93 643.13 194.97C643.13 198.26 641.93 200.95 640.13 200.95C638.33 200.95 637.13 198.26 637.13 194.97C637.13 191.93 638.93 189.45 640.13 189.45Z" fill="#dadada" class="o"/><ellipse cx="639.63" cy="185.65" rx="2.85" ry="2.1" fill="#ffffff" class="h"/>
<path d="M651.43 190.45L646.88 193.15M654.13 190.45L657.58 192.95M651.58 201.05L647.48 204.35M653.58 201.05L657.38 204.35M652.48 187.95L652.78 189.85" class="l"/><path d="M652.78 189.45C653.98 189.45 655.78 191.93 655.78 194.97C655.78 198.26 654.58 200.95 652.78 200.95C650.98 200.95 649.78 198.26 649.78 194.97C649.78 191.93 651.58 189.45 652.78 189.45Z" fill="#dadada" class="o"/><ellipse cx="652.28" cy="185.65" rx="2.85" ry="2.1" fill="#ffffff" class="h"/>
<path d="M537.93 214.65L533.38 217.35M540.63 214.65L544.08 217.15M538.08 225.25L533.98 228.55M540.08 225.25L543.88 228.55M538.98 212.15L539.28 214.05" class="l"/><path d="M539.28 213.65C540.48 213.65 542.28 216.13 542.28 219.17C542.28 222.46 541.08 225.15 539.28 225.15C537.48 225.15 536.28 222.46 536.28 219.17C536.28 216.13 538.08 213.65 539.28 213.65Z" fill="#dadada" class="o"/><ellipse cx="538.78" cy="209.85" rx="2.85" ry="2.1" fill="#ffffff" class="h"/>
<path d="M550.58 214.65L546.03 217.35M553.28 214.65L556.73 217.15M550.73 225.25L546.63 228.55M552.73 225.25L556.53 228.55M551.63 212.15L551.93 214.05" class="l"/><path d="M551.93 213.65C553.13 213.65 554.93 216.13 554.93 219.17C554.93 222.46 553.73 225.15 551.93 225.15C550.13 225.15 548.93 222.46 548.93 219.17C548.93 216.13 550.73 213.65 551.93 213.65Z" fill="#dadada" class="o"/><ellipse cx="551.43" cy="209.85" rx="2.85" ry="2.1" fill="#ffffff" class="h"/>
<path d="M563.23 214.65L558.68 217.35M565.93 214.65L569.38 217.15M563.38 225.25L559.28 228.55M565.38 225.25L569.18 228.55M564.28 212.15L564.58 214.05" class="l"/><path d="M564.58 213.65C565.78 213.65 567.58 216.13 567.58 219.17C567.58 222.46 566.38 225.15 564.58 225.15C562.78 225.15 561.58 222.46 561.58 219.17C561.58 216.13 563.38 213.65 564.58 213.65Z" fill="#dadada" class="o"/><ellipse cx="564.08" cy="209.85" rx="2.85" ry="2.1" fill="#ffffff" class="h"/>
<path d="M575.88 214.65L571.33 217.35M578.58 214.65L582.03 217.15M576.03 225.25L571.93 228.55M578.03 225.25L581.83 228.55M576.93 212.15L577.23 214.05" class="l"/><path d="M577.23 213.65C578.43 213.65 580.23 216.13 580.23 219.17C580.23 222.46 579.03 225.15 577.23 225.15C575.43 225.15 574.23 222.46 574.23 219.17C574.23 216.13 576.03 213.65 577.23 213.65Z" fill="#dadada" class="o"/><ellipse cx="576.73" cy="209.85" rx="2.85" ry="2.1" fill="#ffffff" class="h"/>
<path d="M588.53 214.65L583.98 217.35M591.23 214.65L594.68 217.15M588.68 225.25L584.58 228.55M590.68 225.25L594.48 228.55M589.58 212.15L589.88 214.05" class="l"/><path d="M589.88 213.65C591.08 213.65 592.88 216.13 592.88 219.17C592.88 222.46 591.68 225.15 589.88 225.15C588.08 225.15 586.88 222.46 586.88 219.17C586.88 216.13 588.68 213.65 589.88 213.65Z" fill="#dadada" class="o"/><ellipse cx="589.38" cy="209.85" rx="2.85" ry="2.1" fill="#ffffff" class="h"/>
<path d="M601.18 214.65L596.63 217.35M603.88 214.65L607.33 217.15M601.33 225.25L597.23 228.55M603.33 225.25L607.13 228.55M602.23 212.15L602.53 214.05" class="l"/><path d="M602.53 213.65C603.73 213.65 605.53 216.13 605.53 219.17C605.53 222.46 604.33 225.15 602.53 225.15C600.73 225.15 599.53 222.46 599.53 219.17C599.53 216.13 601.33 213.65 602.53 213.65Z" fill="#dadada" class="o"/><ellipse cx="602.03" cy="209.85" rx="2.85" ry="2.1" fill="#ffffff" class="h"/>
<path d="M613.83 214.65L609.28 217.35M616.53 214.65L619.98 217.15M613.98 225.25L609.88 228.55M615.98 225.25L619.78 228.55M614.88 212.15L615.18 214.05" class="l"/><path d="M615.18 213.65C616.38 213.65 618.18 216.13 618.18 219.17C618.18 222.46 616.98 225.15 615.18 225.15C613.38 225.15 612.18 222.46 612.18 219.17C612.18 216.13 613.98 213.65 615.18 213.65Z" fill="#dadada" class="o"/><ellipse cx="614.68" cy="209.85" rx="2.85" ry="2.1" fill="#ffffff" class="h"/>
<path d="M626.48 214.65L621.93 217.35M629.18 214.65L632.63 217.15M626.63 225.25L622.53 228.55M628.63 225.25L632.43 228.55M627.53 212.15L627.83 214.05" class="l"/><path d="M627.83 213.65C629.03 213.65 630.83 216.13 630.83 219.17C630.83 222.46 629.63 225.15 627.83 225.15C626.03 225.15 624.83 222.46 624.83 219.17C624.83 216.13 626.63 213.65 627.83 213.65Z" fill="#dadada" class="o"/><ellipse cx="627.33" cy="209.85" rx="2.85" ry="2.1" fill="#ffffff" class="h"/>
<path d="M639.13 214.65L634.58 217.35M641.83 214.65L645.28 217.15M639.28 225.25L635.18 228.55M641.28 225.25L645.08 228.55M640.18 212.15L640.48 214.05" class="l"/><path d="M640.48 213.65C641.68 213.65 643.48 216.13 643.48 219.17C643.48 222.46 642.28 225.15 640.48 225.15C638.68 225.15 637.48 222.46 637.48 219.17C637.48 216.13 639.28 213.65 640.48 213.65Z" fill="#dadada" class="o"/><ellipse cx="639.98" cy="209.85" rx="2.85" ry="2.1" fill="#ffffff" class="h"/>
<path d="M651.78 214.65L647.23 217.35M654.48 214.65L657.93 217.15M651.93 225.25L647.83 228.55M653.93 225.25L657.73 228.55M652.83 212.15L653.13 214.05" class="l"/><path d="M653.13 213.65C654.33 213.65 656.13 216.13 656.13 219.17C656.13 222.46 654.93 225.15 653.13 225.15C651.33 225.15 650.13 222.46 650.13 219.17C650.13 216.13 651.93 213.65 653.13 213.65Z" fill="#dadada" class="o"/><ellipse cx="652.63" cy="209.85" rx="2.85" ry="2.1" fill="#ffffff" class="h"/>
<path d="M538.27 238.85L533.72 241.55M540.97 238.85L544.42 241.35M538.42 249.45L534.32 252.75M540.42 249.45L544.22 252.75M539.32 236.35L539.62 238.25" class="l"/><path d="M539.62 237.85C540.82 237.85 542.62 240.33 542.62 243.37C542.62 246.66 541.42 249.35 539.62 249.35C537.82 249.35 536.62 246.66 536.62 243.37C536.62 240.33 538.42 237.85 539.62 237.85Z" fill="#dadada" class="o"/><ellipse cx="539.12" cy="234.05" rx="2.85" ry="2.1" fill="#ffffff" class="h"/>
<path d="M550.92 238.85L546.37 241.55M553.62 238.85L557.07 241.35M551.07 249.45L546.97 252.75M553.07 249.45L556.87 252.75M551.97 236.35L552.27 238.25" class="l"/><path d="M552.27 237.85C553.47 237.85 555.27 240.33 555.27 243.37C555.27 246.66 554.07 249.35 552.27 249.35C550.47 249.35 549.27 246.66 549.27 243.37C549.27 240.33 551.07 237.85 552.27 237.85Z" fill="#dadada" class="o"/><ellipse cx="551.77" cy="234.05" rx="2.85" ry="2.1" fill="#ffffff" class="h"/>
<path d="M563.57 238.85L559.02 241.55M566.27 238.85L569.72 241.35M563.72 249.45L559.62 252.75M565.72 249.45L569.52 252.75M564.62 236.35L564.92 238.25" class="l"/><path d="M564.92 237.85C566.12 237.85 567.92 240.33 567.92 243.37C567.92 246.66 566.72 249.35 564.92 249.35C563.12 249.35 561.92 246.66 561.92 243.37C561.92 240.33 563.72 237.85 564.92 237.85Z" fill="#dadada" class="o"/><ellipse cx="564.42" cy="234.05" rx="2.85" ry="2.1" fill="#ffffff" class="h"/>
<path d="M576.22 238.85L571.67 241.55M578.92 238.85L582.37 241.35M576.37 249.45L572.27 252.75M578.37 249.45L582.17 252.75M577.27 236.35L577.57 238.25" class="l"/><path d="M577.57 237.85C578.77 237.85 580.57 240.33 580.57 243.37C580.57 246.66 579.37 249.35 577.57 249.35C575.77 249.35 574.57 246.66 574.57 243.37C574.57 240.33 576.37 237.85 577.57 237.85Z" fill="#dadada" class="o"/><ellipse cx="577.07" cy="234.05" rx="2.85" ry="2.1" fill="#ffffff" class="h"/>
<path d="M588.87 238.85L584.32 241.55M591.57 238.85L595.02 241.35M589.02 249.45L584.92 252.75M591.02 249.45L594.82 252.75M589.92 236.35L590.22 238.25" class="l"/><path d="M590.22 237.85C591.42 237.85 593.22 240.33 593.22 243.37C593.22 246.66 592.02 249.35 590.22 249.35C588.42 249.35 587.22 246.66 587.22 243.37C587.22 240.33 589.02 237.85 590.22 237.85Z" fill="#dadada" class="o"/><ellipse cx="589.72" cy="234.05" rx="2.85" ry="2.1" fill="#ffffff" class="h"/>
<path d="M601.52 238.85L596.97 241.55M604.22 238.85L607.67 241.35M601.67 249.45L597.57 252.75M603.67 249.45L607.47 252.75M602.57 236.35L602.87 238.25" class="l"/><path d="M602.87 237.85C604.07 237.85 605.87 240.33 605.87 243.37C605.87 246.66 604.67 249.35 602.87 249.35C601.07 249.35 599.87 246.66 599.87 243.37C599.87 240.33 601.67 237.85 602.87 237.85Z" fill="#dadada" class="o"/><ellipse cx="602.37" cy="234.05" rx="2.85" ry="2.1" fill="#ffffff" class="h"/>
<path d="M614.17 238.85L609.62 241.55M616.87 238.85L620.32 241.35M614.32 249.45L610.22 252.75M616.32 249.45L620.12 252.75M615.22 236.35L615.52 238.25" class="l"/><path d="M615.52 237.85C616.72 237.85 618.52 240.33 618.52 243.37C618.52 246.66 617.32 249.35 615.52 249.35C613.72 249.35 612.52 246.66 612.52 243.37C612.52 240.33 614.32 237.85 615.52 237.85Z" fill="#dadada" class="o"/><ellipse cx="615.02" cy="234.05" rx="2.85" ry="2.1" fill="#ffffff" class="h"/>
<path d="M626.82 238.85L622.27 241.55M629.52 238.85L632.97 241.35M626.97 249.45L622.87 252.75M628.97 249.45L632.77 252.75M627.87 236.35L628.17 238.25" class="l"/><path d="M628.17 237.85C629.37 237.85 631.17 240.33 631.17 243.37C631.17 246.66 629.97 249.35 628.17 249.35C626.37 249.35 625.17 246.66 625.17 243.37C625.17 240.33 626.97 237.85 628.17 237.85Z" fill="#dadada" class="o"/><ellipse cx="627.67" cy="234.05" rx="2.85" ry="2.1" fill="#ffffff" class="h"/>
<path d="M639.47 238.85L634.92 241.55M642.17 238.85L645.62 241.35M639.62 249.45L635.52 252.75M641.62 249.45L645.42 252.75M640.52 236.35L640.82 238.25" class="l"/><path d="M640.82 237.85C642.02 237.85 643.82 240.33 643.82 243.37C643.82 246.66 642.62 249.35 640.82 249.35C639.02 249.35 637.82 246.66 637.82 243.37C637.82 240.33 639.62 237.85 640.82 237.85Z" fill="#dadada" class="o"/><ellipse cx="640.32" cy="234.05" rx="2.85" ry="2.1" fill="#ffffff" class="h"/>
<path d="M652.12 238.85L647.57 241.55M654.82 238.85L658.27 241.35M652.27 249.45L648.17 252.75M654.27 249.45L658.07 252.75M653.17 236.35L653.47 238.25" class="l"/><path d="M653.47 237.85C654.67 237.85 656.47 240.33 656.47 243.37C656.47 246.66 655.27 249.35 653.47 249.35C651.67 249.35 650.47 246.66 650.47 243.37C650.47 240.33 652.27 237.85 653.47 237.85Z" fill="#dadada" class="o"/><ellipse cx="652.97" cy="234.05" rx="2.85" ry="2.1" fill="#ffffff" class="h"/>
<path d="M538.61 263.05L534.06 265.75M541.31 263.05L544.76 265.55M538.76 273.65L534.66 276.95M540.76 273.65L544.56 276.95M539.66 260.55L539.96 262.45" class="l"/><path d="M539.96 262.05C541.16 262.05 542.96 264.53 542.96 267.57C542.96 270.86 541.76 273.55 539.96 273.55C538.16 273.55 536.96 270.86 536.96 267.57C536.96 264.53 538.76 262.05 539.96 262.05Z" fill="#dadada" class="o"/><ellipse cx="539.46" cy="258.25" rx="2.85" ry="2.1" fill="#ffffff" class="h"/>
<path d="M551.26 263.05L546.71 265.75M553.96 263.05L557.41 265.55M551.41 273.65L547.31 276.95M553.41 273.65L557.21 276.95M552.31 260.55L552.61 262.45" class="l"/><path d="M552.61 262.05C553.81 262.05 555.61 264.53 555.61 267.57C555.61 270.86 554.41 273.55 552.61 273.55C550.81 273.55 549.61 270.86 549.61 267.57C549.61 264.53 551.41 262.05 552.61 262.05Z" fill="#dadada" class="o"/><ellipse cx="552.11" cy="258.25" rx="2.85" ry="2.1" fill="#ffffff" class="h"/>
<path d="M563.91 263.05L559.36 265.75M566.61 263.05L570.06 265.55M564.06 273.65L559.96 276.95M566.06 273.65L569.86 276.95M564.96 260.55L565.26 262.45" class="l"/><path d="M565.26 262.05C566.46 262.05 568.26 264.53 568.26 267.57C568.26 270.86 567.06 273.55 565.26 273.55C563.46 273.55 562.26 270.86 562.26 267.57C562.26 264.53 564.06 262.05 565.26 262.05Z" fill="#dadada" class="o"/><ellipse cx="564.76" cy="258.25" rx="2.85" ry="2.1" fill="#ffffff" class="h"/>
<path d="M576.56 263.05L572.01 265.75M579.26 263.05L582.71 265.55M576.71 273.65L572.61 276.95M578.71 273.65L582.51 276.95M577.61 260.55L577.91 262.45" class="l"/><path d="M577.91 262.05C579.11 262.05 580.91 264.53 580.91 267.57C580.91 270.86 579.71 273.55 577.91 273.55C576.11 273.55 574.91 270.86 574.91 267.57C574.91 264.53 576.71 262.05 577.91 262.05Z" fill="#dadada" class="o"/><ellipse cx="577.41" cy="258.25" rx="2.85" ry="2.1" fill="#ffffff" class="h"/>
<path d="M589.21 263.05L584.66 265.75M591.91 263.05L595.36 265.55M589.36 273.65L585.26 276.95M591.36 273.65L595.16 276.95M590.26 260.55L590.56 262.45" class="l"/><path d="M590.56 262.05C591.76 262.05 593.56 264.53 593.56 267.57C593.56 270.86 592.36 273.55 590.56 273.55C588.76 273.55 587.56 270.86 587.56 267.57C587.56 264.53 589.36 262.05 590.56 262.05Z" fill="#dadada" class="o"/><ellipse cx="590.06" cy="258.25" rx="2.85" ry="2.1" fill="#ffffff" class="h"/>
<path d="M601.86 263.05L597.31 265.75M604.56 263.05L608.01 265.55M602.01 273.65L597.91 276.95M604.01 273.65L607.81 276.95M602.91 260.55L603.21 262.45" class="l"/><path d="M603.21 262.05C604.41 262.05 606.21 264.53 606.21 267.57C606.21 270.86 605.01 273.55 603.21 273.55C601.41 273.55 600.21 270.86 600.21 267.57C600.21 264.53 602.01 262.05 603.21 262.05Z" fill="#dadada" class="o"/><ellipse cx="602.71" cy="258.25" rx="2.85" ry="2.1" fill="#ffffff" class="h"/>
<path d="M614.51 263.05L609.96 265.75M617.21 263.05L620.66 265.55M614.66 273.65L610.56 276.95M616.66 273.65L620.46 276.95M615.56 260.55L615.86 262.45" class="l"/><path d="M615.86 262.05C617.06 262.05 618.86 264.53 618.86 267.57C618.86 270.86 617.66 273.55 615.86 273.55C614.06 273.55 612.86 270.86 612.86 267.57C612.86 264.53 614.66 262.05 615.86 262.05Z" fill="#dadada" class="o"/><ellipse cx="615.36" cy="258.25" rx="2.85" ry="2.1" fill="#ffffff" class="h"/>
<path d="M627.16 263.05L622.61 265.75M629.86 263.05L633.31 265.55M627.31 273.65L623.21 276.95M629.31 273.65L633.11 276.95M628.21 260.55L628.51 262.45" class="l"/><path d="M628.51 262.05C629.71 262.05 631.51 264.53 631.51 267.57C631.51 270.86 630.31 273.55 628.51 273.55C626.71 273.55 625.51 270.86 625.51 267.57C625.51 264.53 627.31 262.05 628.51 262.05Z" fill="#dadada" class="o"/><ellipse cx="628.01" cy="258.25" rx="2.85" ry="2.1" fill="#ffffff" class="h"/>
<path d="M639.81 263.05L635.26 265.75M642.51 263.05L645.96 265.55M639.96 273.65L635.86 276.95M641.96 273.65L645.76 276.95M640.86 260.55L641.16 262.45" class="l"/><path d="M641.16 262.05C642.36 262.05 644.16 264.53 644.16 267.57C644.16 270.86 642.96 273.55 641.16 273.55C639.36 273.55 638.16 270.86 638.16 267.57C638.16 264.53 639.96 262.05 641.16 262.05Z" fill="#dadada" class="o"/><ellipse cx="640.66" cy="258.25" rx="2.85" ry="2.1" fill="#ffffff" class="h"/>
<path d="M652.46 263.05L647.91 265.75M655.16 263.05L658.61 265.55M652.61 273.65L648.51 276.95M654.61 273.65L658.41 276.95M653.51 260.55L653.81 262.45" class="l"/><path d="M653.81 262.05C655.01 262.05 656.81 264.53 656.81 267.57C656.81 270.86 655.61 273.55 653.81 273.55C652.01 273.55 650.81 270.86 650.81 267.57C650.81 264.53 652.61 262.05 653.81 262.05Z" fill="#dadada" class="o"/><ellipse cx="653.31" cy="258.25" rx="2.85" ry="2.1" fill="#ffffff" class="h"/>
<path d="M538.96 287.25L534.41 289.95M541.66 287.25L545.11 289.75M539.11 297.85L535.01 301.15M541.11 297.85L544.91 301.15M540.01 284.75L540.31 286.65" class="l"/><path d="M540.31 286.25C541.51 286.25 543.31 288.73 543.31 291.77C543.31 295.06 542.11 297.75 540.31 297.75C538.51 297.75 537.31 295.06 537.31 291.77C537.31 288.73 539.11 286.25 540.31 286.25Z" fill="#dadada" class="o"/><ellipse cx="539.81" cy="282.45" rx="2.85" ry="2.1" fill="#ffffff" class="h"/>
<path d="M551.61 287.25L547.06 289.95M554.31 287.25L557.76 289.75M551.76 297.85L547.66 301.15M553.76 297.85L557.56 301.15M552.66 284.75L552.96 286.65" class="l"/><path d="M552.96 286.25C554.16 286.25 555.96 288.73 555.96 291.77C555.96 295.06 554.76 297.75 552.96 297.75C551.16 297.75 549.96 295.06 549.96 291.77C549.96 288.73 551.76 286.25 552.96 286.25Z" fill="#dadada" class="o"/><ellipse cx="552.46" cy="282.45" rx="2.85" ry="2.1" fill="#ffffff" class="h"/>
<path d="M564.26 287.25L559.71 289.95M566.96 287.25L570.41 289.75M564.41 297.85L560.31 301.15M566.41 297.85L570.21 301.15M565.31 284.75L565.61 286.65" class="l"/><path d="M565.61 286.25C566.81 286.25 568.61 288.73 568.61 291.77C568.61 295.06 567.41 297.75 565.61 297.75C563.81 297.75 562.61 295.06 562.61 291.77C562.61 288.73 564.41 286.25 565.61 286.25Z" fill="#dadada" class="o"/><ellipse cx="565.11" cy="282.45" rx="2.85" ry="2.1" fill="#ffffff" class="h"/>
<path d="M576.91 287.25L572.36 289.95M579.61 287.25L583.06 289.75M577.06 297.85L572.96 301.15M579.06 297.85L582.86 301.15M577.96 284.75L578.26 286.65" class="l"/><path d="M578.26 286.25C579.46 286.25 581.26 288.73 581.26 291.77C581.26 295.06 580.06 297.75 578.26 297.75C576.46 297.75 575.26 295.06 575.26 291.77C575.26 288.73 577.06 286.25 578.26 286.25Z" fill="#dadada" class="o"/><ellipse cx="577.76" cy="282.45" rx="2.85" ry="2.1" fill="#f2f2d8" class="h"/>
<path d="M589.56 287.25L585.01 289.95M592.26 287.25L595.71 289.75M589.71 297.85L585.61 301.15M591.71 297.85L595.51 301.15M590.61 284.75L590.91 286.65" class="l"/><path d="M590.91 286.25C592.11 286.25 593.91 288.73 593.91 291.77C593.91 295.06 592.71 297.75 590.91 297.75C589.11 297.75 587.91 295.06 587.91 291.77C587.91 288.73 589.71 286.25 590.91 286.25Z" fill="#dcdcec" class="o"/><ellipse cx="590.41" cy="282.45" rx="2.85" ry="2.1" fill="#dcd84c" class="h"/>
<path d="M602.21 287.25L597.66 289.95M604.91 287.25L608.36 289.75M602.36 297.85L598.26 301.15M604.36 297.85L608.16 301.15M603.26 284.75L603.56 286.65" class="l"/><path d="M603.56 286.25C604.76 286.25 606.56 288.73 606.56 291.77C606.56 295.06 605.36 297.75 603.56 297.75C601.76 297.75 600.56 295.06 600.56 291.77C600.56 288.73 602.36 286.25 603.56 286.25Z" fill="#dcdcec" class="o"/><ellipse cx="603.06" cy="282.45" rx="2.85" ry="2.1" fill="#dcd84c" class="h"/>
<path d="M614.86 287.25L610.31 289.95M617.56 287.25L621.01 289.75M615.01 297.85L610.91 301.15M617.01 297.85L620.81 301.15M615.91 284.75L616.21 286.65" class="l"/><path d="M616.21 286.25C617.41 286.25 619.21 288.73 619.21 291.77C619.21 295.06 618.01 297.75 616.21 297.75C614.41 297.75 613.21 295.06 613.21 291.77C613.21 288.73 615.01 286.25 616.21 286.25Z" fill="#dcdcec" class="o"/><ellipse cx="615.71" cy="282.45" rx="2.85" ry="2.1" fill="#dcd84c" class="h"/>
<path d="M627.51 287.25L622.96 289.95M630.21 287.25L633.66 289.75M627.66 297.85L623.56 301.15M629.66 297.85L633.46 301.15M628.56 284.75L628.86 286.65" class="l"/><path d="M628.86 286.25C630.06 286.25 631.86 288.73 631.86 291.77C631.86 295.06 630.66 297.75 628.86 297.75C627.06 297.75 625.86 295.06 625.86 291.77C625.86 288.73 627.66 286.25 628.86 286.25Z" fill="#dcdcec" class="o"/><ellipse cx="628.36" cy="282.45" rx="2.85" ry="2.1" fill="#dcd84c" class="h"/>
<path d="M640.16 287.25L635.61 289.95M642.86 287.25L646.31 289.75M640.31 297.85L636.21 301.15M642.31 297.85L646.11 301.15M641.21 284.75L641.51 286.65" class="l"/><path d="M641.51 286.25C642.71 286.25 644.51 288.73 644.51 291.77C644.51 295.06 643.31 297.75 641.51 297.75C639.71 297.75 638.51 295.06 638.51 291.77C638.51 288.73 640.31 286.25 641.51 286.25Z" fill="#dcdcec" class="o"/><ellipse cx="641.01" cy="282.45" rx="2.85" ry="2.1" fill="#dcd84c" class="h"/>
<path d="M652.81 287.25L648.26 289.95M655.51 287.25L658.96 289.75M652.96 297.85L648.86 301.15M654.96 297.85L658.76 301.15M653.86 284.75L654.16 286.65" class="l"/><path d="M654.16 286.25C655.36 286.25 657.16 288.73 657.16 291.77C657.16 295.06 655.96 297.75 654.16 297.75C652.36 297.75 651.16 295.06 651.16 291.77C651.16 288.73 652.96 286.25 654.16 286.25Z" fill="#dcdcec" class="o"/><ellipse cx="653.66" cy="282.45" rx="2.85" ry="2.1" fill="#dcd84c" class="h"/>
<path d="M539.3 311.45L534.75 314.15M542 311.45L545.45 313.95M539.45 322.05L535.35 325.35M541.45 322.05L545.25 325.35M540.35 308.95L540.65 310.85" class="l"/><path d="M540.65 310.45C541.85 310.45 543.65 312.93 543.65 315.97C543.65 319.26 542.45 321.95 540.65 321.95C538.85 321.95 537.65 319.26 537.65 315.97C537.65 312.93 539.45 310.45 540.65 310.45Z" fill="#dcdcec" class="o"/><ellipse cx="540.15" cy="306.65" rx="2.85" ry="2.1" fill="#dcd84c" class="h"/>
<path d="M551.95 311.45L547.4 314.15M554.65 311.45L558.1 313.95M552.1 322.05L548 325.35M554.1 322.05L557.9 325.35M553 308.95L553.3 310.85" class="l"/><path d="M553.3 310.45C554.5 310.45 556.3 312.93 556.3 315.97C556.3 319.26 555.1 321.95 553.3 321.95C551.5 321.95 550.3 319.26 550.3 315.97C550.3 312.93 552.1 310.45 553.3 310.45Z" fill="#dcdcec" class="o"/><ellipse cx="552.8" cy="306.65" rx="2.85" ry="2.1" fill="#dcd84c" class="h"/>
<path d="M564.6 311.45L560.05 314.15M567.3 311.45L570.75 313.95M564.75 322.05L560.65 325.35M566.75 322.05L570.55 325.35M565.65 308.95L565.95 310.85" class="l"/><path d="M565.95 310.45C567.15 310.45 568.95 312.93 568.95 315.97C568.95 319.26 567.75 321.95 565.95 321.95C564.15 321.95 562.95 319.26 562.95 315.97C562.95 312.93 564.75 310.45 565.95 310.45Z" fill="#dcdcec" class="o"/><ellipse cx="565.45" cy="306.65" rx="2.85" ry="2.1" fill="#dcd84c" class="h"/>
<path d="M577.25 311.45L572.7 314.15M579.95 311.45L583.4 313.95M577.4 322.05L573.3 325.35M579.4 322.05L583.2 325.35M578.3 308.95L578.6 310.85" class="l"/><path d="M578.6 310.45C579.8 310.45 581.6 312.93 581.6 315.97C581.6 319.26 580.4 321.95 578.6 321.95C576.8 321.95 575.6 319.26 575.6 315.97C575.6 312.93 577.4 310.45 578.6 310.45Z" fill="#dcdcec" class="o"/><ellipse cx="578.1" cy="306.65" rx="2.85" ry="2.1" fill="#dcd84c" class="h"/>
<path d="M589.9 311.45L585.35 314.15M592.6 311.45L596.05 313.95M590.05 322.05L585.95 325.35M592.05 322.05L595.85 325.35M590.95 308.95L591.25 310.85" class="l"/><path d="M591.25 310.45C592.45 310.45 594.25 312.93 594.25 315.97C594.25 319.26 593.05 321.95 591.25 321.95C589.45 321.95 588.25 319.26 588.25 315.97C588.25 312.93 590.05 310.45 591.25 310.45Z" fill="#dcdcec" class="o"/><ellipse cx="590.75" cy="306.65" rx="2.85" ry="2.1" fill="#dcd84c" class="h"/>
<path d="M602.55 311.45L598 314.15M605.25 311.45L608.7 313.95M602.7 322.05L598.6 325.35M604.7 322.05L608.5 325.35M603.6 308.95L603.9 310.85" class="l"/><path d="M603.9 310.45C605.1 310.45 606.9 312.93 606.9 315.97C606.9 319.26 605.7 321.95 603.9 321.95C602.1 321.95 600.9 319.26 600.9 315.97C600.9 312.93 602.7 310.45 603.9 310.45Z" fill="#dcdcec" class="o"/><ellipse cx="603.4" cy="306.65" rx="2.85" ry="2.1" fill="#dcd84c" class="h"/>
<path d="M615.2 311.45L610.65 314.15M617.9 311.45L621.35 313.95M615.35 322.05L611.25 325.35M617.35 322.05L621.15 325.35M616.25 308.95L616.55 310.85" class="l"/><path d="M616.55 310.45C617.75 310.45 619.55 312.93 619.55 315.97C619.55 319.26 618.35 321.95 616.55 321.95C614.75 321.95 613.55 319.26 613.55 315.97C613.55 312.93 615.35 310.45 616.55 310.45Z" fill="#dcdcec" class="o"/><ellipse cx="616.05" cy="306.65" rx="2.85" ry="2.1" fill="#dcd84c" class="h"/>
<path d="M627.85 311.45L623.3 314.15M630.55 311.45L634 313.95M628 322.05L623.9 325.35M630 322.05L633.8 325.35M628.9 308.95L629.2 310.85" class="l"/><path d="M629.2 310.45C630.4 310.45 632.2 312.93 632.2 315.97C632.2 319.26 631 321.95 629.2 321.95C627.4 321.95 626.2 319.26 626.2 315.97C626.2 312.93 628 310.45 629.2 310.45Z" fill="#dcdcec" class="o"/><ellipse cx="628.7" cy="306.65" rx="2.85" ry="2.1" fill="#dcd84c" class="h"/>
<path d="M640.5 311.45L635.95 314.15M643.2 311.45L646.65 313.95M640.65 322.05L636.55 325.35M642.65 322.05L646.45 325.35M641.55 308.95L641.85 310.85" class="l"/><path d="M641.85 310.45C643.05 310.45 644.85 312.93 644.85 315.97C644.85 319.26 643.65 321.95 641.85 321.95C640.05 321.95 638.85 319.26 638.85 315.97C638.85 312.93 640.65 310.45 641.85 310.45Z" fill="#dcdcec" class="o"/><ellipse cx="641.35" cy="306.65" rx="2.85" ry="2.1" fill="#dcd84c" class="h"/>
<path d="M653.15 311.45L648.6 314.15M655.85 311.45L659.3 313.95M653.3 322.05L649.2 325.35M655.3 322.05L659.1 325.35M654.2 308.95L654.5 310.85" class="l"/><path d="M654.5 310.45C655.7 310.45 657.5 312.93 657.5 315.97C657.5 319.26 656.3 321.95 654.5 321.95C652.7 321.95 651.5 319.26 651.5 315.97C651.5 312.93 653.3 310.45 654.5 310.45Z" fill="#dcdcec" class="o"/><ellipse cx="654" cy="306.65" rx="2.85" ry="2.1" fill="#dcd84c" class="h"/>
<path d="M539.65 335.65L535.1 338.35M542.35 335.65L545.8 338.15M539.8 346.25L535.7 349.55M541.8 346.25L545.6 349.55M540.7 333.15L541 335.05" class="l"/><path d="M541 334.65C542.2 334.65 544 337.13 544 340.17C544 343.46 542.8 346.15 541 346.15C539.2 346.15 538 343.46 538 340.17C538 337.13 539.8 334.65 541 334.65Z" fill="#dcdcec" class="o"/><ellipse cx="540.5" cy="330.85" rx="2.85" ry="2.1" fill="#dcd84c" class="h"/>
<path d="M552.3 335.65L547.75 338.35M555 335.65L558.45 338.15M552.45 346.25L548.35 349.55M554.45 346.25L558.25 349.55M553.35 333.15L553.65 335.05" class="l"/><path d="M553.65 334.65C554.85 334.65 556.65 337.13 556.65 340.17C556.65 343.46 555.45 346.15 553.65 346.15C551.85 346.15 550.65 343.46 550.65 340.17C550.65 337.13 552.45 334.65 553.65 334.65Z" fill="#dcdcec" class="o"/><ellipse cx="553.15" cy="330.85" rx="2.85" ry="2.1" fill="#dcd84c" class="h"/>
<path d="M564.95 335.65L560.4 338.35M567.65 335.65L571.1 338.15M565.1 346.25L561 349.55M567.1 346.25L570.9 349.55M566 333.15L566.3 335.05" class="l"/><path d="M566.3 334.65C567.5 334.65 569.3 337.13 569.3 340.17C569.3 343.46 568.1 346.15 566.3 346.15C564.5 346.15 563.3 343.46 563.3 340.17C563.3 337.13 565.1 334.65 566.3 334.65Z" fill="#dcdcec" class="o"/><ellipse cx="565.8" cy="330.85" rx="2.85" ry="2.1" fill="#dcd84c" class="h"/>
<path d="M577.6 335.65L573.05 338.35M580.3 335.65L583.75 338.15M577.75 346.25L573.65 349.55M579.75 346.25L583.55 349.55M578.65 333.15L578.95 335.05" class="l"/><path d="M578.95 334.65C580.15 334.65 581.95 337.13 581.95 340.17C581.95 343.46 580.75 346.15 578.95 346.15C577.15 346.15 575.95 343.46 575.95 340.17C575.95 337.13 577.75 334.65 578.95 334.65Z" fill="#dcdcec" class="o"/><ellipse cx="578.45" cy="330.85" rx="2.85" ry="2.1" fill="#dcd84c" class="h"/>
<path d="M590.25 335.65L585.7 338.35M592.95 335.65L596.4 338.15M590.4 346.25L586.3 349.55M592.4 346.25L596.2 349.55M591.3 333.15L591.6 335.05" class="l"/><path d="M591.6 334.65C592.8 334.65 594.6 337.13 594.6 340.17C594.6 343.46 593.4 346.15 591.6 346.15C589.8 346.15 588.6 343.46 588.6 340.17C588.6 337.13 590.4 334.65 591.6 334.65Z" fill="#dcdcec" class="o"/><ellipse cx="591.1" cy="330.85" rx="2.85" ry="2.1" fill="#dcd84c" class="h"/>
<path d="M602.9 335.65L598.35 338.35M605.6 335.65L609.05 338.15M603.05 346.25L598.95 349.55M605.05 346.25L608.85 349.55M603.95 333.15L604.25 335.05" class="l"/><path d="M604.25 334.65C605.45 334.65 607.25 337.13 607.25 340.17C607.25 343.46 606.05 346.15 604.25 346.15C602.45 346.15 601.25 343.46 601.25 340.17C601.25 337.13 603.05 334.65 604.25 334.65Z" fill="#dcdcec" class="o"/><ellipse cx="603.75" cy="330.85" rx="2.85" ry="2.1" fill="#dcd84c" class="h"/>
<path d="M615.55 335.65L611 338.35M618.25 335.65L621.7 338.15M615.7 346.25L611.6 349.55M617.7 346.25L621.5 349.55M616.6 333.15L616.9 335.05" class="l"/><path d="M616.9 334.65C618.1 334.65 619.9 337.13 619.9 340.17C619.9 343.46 618.7 346.15 616.9 346.15C615.1 346.15 613.9 343.46 613.9 340.17C613.9 337.13 615.7 334.65 616.9 334.65Z" fill="#dcdcec" class="o"/><ellipse cx="616.4" cy="330.85" rx="2.85" ry="2.1" fill="#dcd84c" class="h"/>
<path d="M628.2 335.65L623.65 338.35M630.9 335.65L634.35 338.15M628.35 346.25L624.25 349.55M630.35 346.25L634.15 349.55M629.25 333.15L629.55 335.05" class="l"/><path d="M629.55 334.65C630.75 334.65 632.55 337.13 632.55 340.17C632.55 343.46 631.35 346.15 629.55 346.15C627.75 346.15 626.55 343.46 626.55 340.17C626.55 337.13 628.35 334.65 629.55 334.65Z" fill="#dcdcec" class="o"/><ellipse cx="629.05" cy="330.85" rx="2.85" ry="2.1" fill="#dcd84c" class="h"/>
<path d="M640.85 335.65L636.3 338.35M643.55 335.65L647 338.15M641 346.25L636.9 349.55M643 346.25L646.8 349.55M641.9 333.15L642.2 335.05" class="l"/><path d="M642.2 334.65C643.4 334.65 645.2 337.13 645.2 340.17C645.2 343.46 644 346.15 642.2 346.15C640.4 346.15 639.2 343.46 639.2 340.17C639.2 337.13 641 334.65 642.2 334.65Z" fill="#dcdcec" class="o"/><ellipse cx="641.7" cy="330.85" rx="2.85" ry="2.1" fill="#dcd84c" class="h"/>
<path d="M653.5 335.65L648.95 338.35M656.2 335.65L659.65 338.15M653.65 346.25L649.55 349.55M655.65 346.25L659.45 349.55M654.55 333.15L654.85 335.05" class="l"/><path d="M654.85 334.65C656.05 334.65 657.85 337.13 657.85 340.17C657.85 343.46 656.65 346.15 654.85 346.15C653.05 346.15 651.85 343.46 651.85 340.17C651.85 337.13 653.65 334.65 654.85 334.65Z" fill="#dcdcec" class="o"/><ellipse cx="654.35" cy="330.85" rx="2.85" ry="2.1" fill="#dcd84c" class="h"/>
<path d="M186.4 302.75H252.7V277.8H319V352.9H186.4Z" fill="none" stroke="#1c1c1c" stroke-width="1.8"/>
<path d="M530.3 303.75H584.45V278.7H664.1V353.65H530.3Z" fill="none" stroke="#1c1c1c" stroke-width="1.8"/>
</g>
</svg>
</body></html>
